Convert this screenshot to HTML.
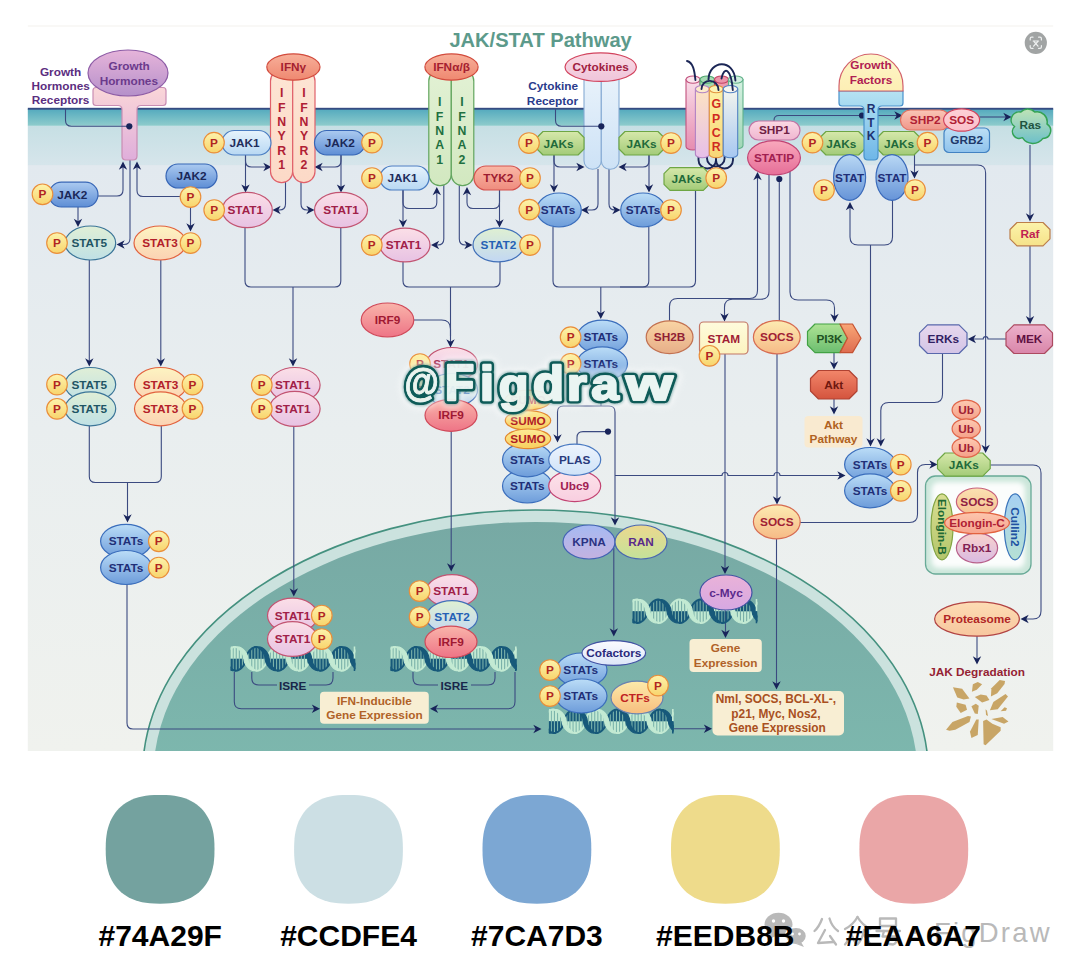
<!DOCTYPE html>
<html><head><meta charset="utf-8"><title>JAK/STAT Pathway</title>
<style>html,body{margin:0;padding:0;background:#fff}body{width:1080px;height:975px;overflow:hidden;font-family:"Liberation Sans",sans-serif}svg{display:block}</style>
</head><body>
<svg width="1080" height="975" viewBox="0 0 1080 975" font-family="'Liberation Sans', sans-serif">
<defs><linearGradient id="g0" x1="0" y1="0" x2="0" y2="1"><stop offset="0" stop-color="#fad6d8"/><stop offset="1" stop-color="#dfaedb"/></linearGradient><linearGradient id="g1" x1="0" y1="0" x2="0" y2="1"><stop offset="0" stop-color="#e6b4da"/><stop offset="1" stop-color="#b590ca"/></linearGradient><linearGradient id="g2" x1="0" y1="0" x2="0" y2="1"><stop offset="0" stop-color="#abcaf0"/><stop offset="1" stop-color="#5e8ed5"/></linearGradient><linearGradient id="g3" x1="0" y1="0" x2="0" y2="1"><stop offset="0" stop-color="#fdf3ac"/><stop offset="1" stop-color="#f8d46c"/></linearGradient><linearGradient id="g4" x1="0" y1="0" x2="0" y2="1"><stop offset="0" stop-color="#e0efd6"/><stop offset="1" stop-color="#bfe0e5"/></linearGradient><linearGradient id="g5" x1="0" y1="0" x2="0" y2="1"><stop offset="0" stop-color="#fdf4c2"/><stop offset="1" stop-color="#fbd2b3"/></linearGradient><linearGradient id="g6" x1="0" y1="0" x2="0" y2="1"><stop offset="0" stop-color="#bbddf7"/><stop offset="1" stop-color="#6d9cda"/></linearGradient><linearGradient id="g7" x1="0" y1="0" x2="0" y2="1"><stop offset="0" stop-color="#fde5d4"/><stop offset="1" stop-color="#fcd9c7"/></linearGradient><linearGradient id="g8" x1="0" y1="0" x2="0" y2="1"><stop offset="0" stop-color="#f7b09a"/><stop offset="1" stop-color="#ef8870"/></linearGradient><linearGradient id="g9" x1="0" y1="0" x2="0" y2="1"><stop offset="0" stop-color="#e6f3fc"/><stop offset="1" stop-color="#b8d8f3"/></linearGradient><linearGradient id="g10" x1="0" y1="0" x2="0" y2="1"><stop offset="0" stop-color="#fbdfe7"/><stop offset="1" stop-color="#e7c2e3"/></linearGradient><linearGradient id="g11" x1="0" y1="0" x2="0" y2="1"><stop offset="0" stop-color="#e2f1d4"/><stop offset="1" stop-color="#d2e8c0"/></linearGradient><linearGradient id="g12" x1="0" y1="0" x2="0" y2="1"><stop offset="0" stop-color="#f9b8a6"/><stop offset="1" stop-color="#ef8c7e"/></linearGradient><linearGradient id="g13" x1="0" y1="0" x2="0" y2="1"><stop offset="0" stop-color="#dff0d2"/><stop offset="1" stop-color="#c2d7f3"/></linearGradient><linearGradient id="g14" x1="0" y1="0" x2="0" y2="1"><stop offset="0" stop-color="#f9b4aa"/><stop offset="1" stop-color="#ee7486"/></linearGradient><linearGradient id="g15" x1="0" y1="0" x2="0" y2="1"><stop offset="0" stop-color="#eaf3fb"/><stop offset="1" stop-color="#cde2f6"/></linearGradient><linearGradient id="g16" x1="0" y1="0" x2="0" y2="1"><stop offset="0" stop-color="#fadbe4"/><stop offset="1" stop-color="#efc4da"/></linearGradient><linearGradient id="g17" x1="0" y1="0" x2="0" y2="1"><stop offset="0" stop-color="#d6e8aa"/><stop offset="1" stop-color="#a3cb78"/></linearGradient><linearGradient id="g18" x1="0" y1="0" x2="0" y2="1"><stop offset="0" stop-color="#f9dde9"/><stop offset="1" stop-color="#e68cb0"/></linearGradient><linearGradient id="g19" x1="0" y1="0" x2="0" y2="1"><stop offset="0" stop-color="#a6dbb4"/><stop offset="1" stop-color="#8ccba0"/></linearGradient><linearGradient id="g20" x1="0" y1="0" x2="0" y2="1"><stop offset="0" stop-color="#ee9db0"/><stop offset="1" stop-color="#e68aa2"/></linearGradient><linearGradient id="g21" x1="0" y1="0" x2="0" y2="1"><stop offset="0" stop-color="#d6f1e2"/><stop offset="1" stop-color="#9fd7b6"/></linearGradient><linearGradient id="g22" x1="0" y1="0" x2="0" y2="1"><stop offset="0" stop-color="#fde3c2"/><stop offset="1" stop-color="#e6bfe9"/></linearGradient><linearGradient id="g23" x1="0" y1="0" x2="0" y2="1"><stop offset="0" stop-color="#fdf2a4"/><stop offset="1" stop-color="#f8d676"/></linearGradient><linearGradient id="g24" x1="0" y1="0" x2="0" y2="1"><stop offset="0" stop-color="#f3f5ee"/><stop offset="1" stop-color="#a6c7f1"/></linearGradient><linearGradient id="g25" x1="0" y1="0" x2="0" y2="1"><stop offset="0" stop-color="#fbd8e4"/><stop offset="1" stop-color="#efb6d0"/></linearGradient><linearGradient id="g26" x1="0" y1="0" x2="0" y2="1"><stop offset="0" stop-color="#f9a8bc"/><stop offset="1" stop-color="#e66e98"/></linearGradient><linearGradient id="g27" x1="0" y1="0" x2="0" y2="1"><stop offset="0" stop-color="#fac6b6"/><stop offset="1" stop-color="#f0968a"/></linearGradient><linearGradient id="g28" x1="0" y1="0" x2="0" y2="1"><stop offset="0" stop-color="#bddff5"/><stop offset="1" stop-color="#8ec2ec"/></linearGradient><linearGradient id="g29" x1="0" y1="0" x2="0" y2="1"><stop offset="0" stop-color="#fdd0d6"/><stop offset="1" stop-color="#fbc0ca"/></linearGradient><linearGradient id="g30" x1="0" y1="0" x2="0" y2="1"><stop offset="0" stop-color="#fcf3aa"/><stop offset="1" stop-color="#f5e28a"/></linearGradient><linearGradient id="g31" x1="0" y1="0" x2="0" y2="1"><stop offset="0" stop-color="#ecb0ca"/><stop offset="1" stop-color="#d986aa"/></linearGradient><linearGradient id="g32" x1="0" y1="0" x2="0" y2="1"><stop offset="0" stop-color="#e7d8ee"/><stop offset="1" stop-color="#d3c4e6"/></linearGradient><linearGradient id="g33" x1="0" y1="0" x2="0" y2="1"><stop offset="0" stop-color="#b6e3f2"/><stop offset="1" stop-color="#6eb6e8"/></linearGradient><linearGradient id="g34" x1="0" y1="0" x2="0" y2="1"><stop offset="0" stop-color="#fdf6c8"/><stop offset="1" stop-color="#fdeeb4"/></linearGradient><linearGradient id="g35" x1="0" y1="0" x2="0" y2="1"><stop offset="0" stop-color="#b9d8f4"/><stop offset="1" stop-color="#6694d8"/></linearGradient><linearGradient id="g36" x1="0" y1="0" x2="0" y2="1"><stop offset="0" stop-color="#f9d4a4"/><stop offset="1" stop-color="#e7ae88"/></linearGradient><linearGradient id="g37" x1="0" y1="0" x2="0" y2="1"><stop offset="0" stop-color="#fefbdc"/><stop offset="1" stop-color="#fcf3c0"/></linearGradient><linearGradient id="g38" x1="0" y1="0" x2="0" y2="1"><stop offset="0" stop-color="#fdebb2"/><stop offset="1" stop-color="#f6ba86"/></linearGradient><linearGradient id="g39" x1="0" y1="0" x2="0" y2="1"><stop offset="0" stop-color="#aee294"/><stop offset="1" stop-color="#6cbe70"/></linearGradient><linearGradient id="g40" x1="0" y1="0" x2="0" y2="1"><stop offset="0" stop-color="#f9a676"/><stop offset="1" stop-color="#de6c50"/></linearGradient><linearGradient id="g41" x1="0" y1="0" x2="0" y2="1"><stop offset="0" stop-color="#f2866a"/><stop offset="1" stop-color="#d4543e"/></linearGradient><linearGradient id="g42" x1="0" y1="0" x2="0" y2="1"><stop offset="0" stop-color="#fde4ea"/><stop offset="1" stop-color="#f8cee0"/></linearGradient><linearGradient id="g43" x1="0" y1="0" x2="0" y2="1"><stop offset="0" stop-color="#edf4fd"/><stop offset="1" stop-color="#cfe3f8"/></linearGradient><linearGradient id="g44" x1="0" y1="0" x2="0" y2="1"><stop offset="0" stop-color="#fdeb96"/><stop offset="1" stop-color="#f8cf5e"/></linearGradient><linearGradient id="g45" x1="0" y1="0" x2="0" y2="1"><stop offset="0" stop-color="#fdcab2"/><stop offset="1" stop-color="#f5a088"/></linearGradient><linearGradient id="g46" x1="0" y1="0" x2="0" y2="1"><stop offset="0" stop-color="#d8de92"/><stop offset="1" stop-color="#b4c66c"/></linearGradient><linearGradient id="g47" x1="0" y1="0" x2="0" y2="1"><stop offset="0" stop-color="#a6d0f2"/><stop offset="1" stop-color="#b6e0d4"/></linearGradient><linearGradient id="g48" x1="0" y1="0" x2="0" y2="1"><stop offset="0" stop-color="#fbe2b2"/><stop offset="1" stop-color="#f6c090"/></linearGradient><linearGradient id="g49" x1="0" y1="0" x2="0" y2="1"><stop offset="0" stop-color="#f9d2cc"/><stop offset="1" stop-color="#d9bae2"/></linearGradient><linearGradient id="g50" x1="0" y1="0" x2="0" y2="1"><stop offset="0" stop-color="#fdc6ae"/><stop offset="1" stop-color="#f7a48e"/></linearGradient><linearGradient id="g51" x1="0" y1="0" x2="0" y2="1"><stop offset="0" stop-color="#fddcb4"/><stop offset="1" stop-color="#f7c69e"/></linearGradient><linearGradient id="g52" x1="0" y1="0" x2="0" y2="1"><stop offset="0" stop-color="#a6baf2"/><stop offset="1" stop-color="#c4b2e0"/></linearGradient><linearGradient id="g53" x1="0" y1="0" x2="0" y2="1"><stop offset="0" stop-color="#ecd88e"/><stop offset="1" stop-color="#c4e29a"/></linearGradient><linearGradient id="g54" x1="0" y1="0" x2="0" y2="1"><stop offset="0" stop-color="#fbfbff"/><stop offset="1" stop-color="#dde6f8"/></linearGradient><linearGradient id="g55" x1="0" y1="0" x2="0" y2="1"><stop offset="0" stop-color="#fdeaaa"/><stop offset="1" stop-color="#f7be7e"/></linearGradient><linearGradient id="g56" x1="0" y1="0" x2="0" y2="1"><stop offset="0" stop-color="#eab2d8"/><stop offset="1" stop-color="#d6a8e2"/></linearGradient><clipPath id="clipD"><rect x="27.8" y="25.5" width="1025.4" height="725.5"/></clipPath><linearGradient id="mem" x1="0" y1="0" x2="0" y2="1"><stop offset="0" stop-color="#54aabe"/><stop offset="1" stop-color="#8ecccc"/></linearGradient><linearGradient id="band2" x1="0" y1="0" x2="0" y2="1"><stop offset="0" stop-color="#c6dfe4"/><stop offset="1" stop-color="#d6e5eb"/></linearGradient><linearGradient id="cyto" x1="0" y1="0" x2="0" y2="1"><stop offset="0" stop-color="#e2e9ef"/><stop offset="0.45" stop-color="#e9eeef"/><stop offset="1" stop-color="#f0f2ee"/></linearGradient><linearGradient id="nuc" x1="0" y1="0" x2="0" y2="1"><stop offset="0" stop-color="#77a9a4"/><stop offset="0.5" stop-color="#7db8ae"/><stop offset="1" stop-color="#7db8ae"/></linearGradient><linearGradient id="rasg" gradientUnits="userSpaceOnUse" x1="0" y1="109" x2="0" y2="144"><stop offset="0" stop-color="#bfe3b6"/><stop offset="1" stop-color="#6cbfca"/></linearGradient><filter id="bl" x="-20%" y="-20%" width="140%" height="140%"><feGaussianBlur stdDeviation="2.6"/></filter><clipPath id="cbox"><rect x="925.5" y="476" width="105.5" height="98" rx="10"/></clipPath><clipPath id="dc230"><rect x="230.6" y="645" width="124.9" height="27.6"/></clipPath><clipPath id="dc390"><rect x="390.5" y="645" width="126.3" height="27.6"/></clipPath><clipPath id="dc548"><rect x="548.8" y="707.6" width="125" height="27.4"/></clipPath><clipPath id="dc632"><rect x="632.5" y="597.6" width="125" height="27.2"/></clipPath><filter id="glow" x="-10%" y="-40%" width="120%" height="180%"><feGaussianBlur stdDeviation="1.8"/></filter><filter id="haze" x="-10%" y="-40%" width="120%" height="180%"><feGaussianBlur stdDeviation="3"/></filter><mask id="wmmask" maskUnits="userSpaceOnUse" x="385" y="335" width="310" height="100"><rect x="385" y="335" width="310" height="100" fill="#fff"/><g font-size="48" font-weight="bold" stroke-linejoin="round" fill="#000" stroke="#000"><text transform="translate(404.4,395.8) scale(0.7316,0.84)" x="0" y="0" vector-effect="non-scaling-stroke" stroke-width="0.4">&#64;</text><text transform="translate(444.92,400.2) scale(0.9903,1.04)" x="0" y="0" vector-effect="non-scaling-stroke" stroke-width="2">F</text><text transform="translate(480.23,400.2) scale(1.0036,1.0)" x="0" y="0" vector-effect="non-scaling-stroke" stroke-width="2">i</text><text transform="translate(498.7,400.9) scale(1.0147,0.954)" x="0" y="0" vector-effect="non-scaling-stroke" stroke-width="1.6">g</text><text transform="translate(532.93,400.2) scale(1.0499,1.0)" x="0" y="0" vector-effect="non-scaling-stroke" stroke-width="2">d</text><text transform="translate(567.06,400.2) scale(1.0552,0.93)" x="0" y="0" vector-effect="non-scaling-stroke" stroke-width="2">r</text><text transform="translate(591.36,400.2) scale(1.0319,0.93)" x="0" y="0" vector-effect="non-scaling-stroke" stroke-width="1.6">a</text><text transform="translate(625.98,400.2) scale(1.2532,0.93)" x="0" y="0" vector-effect="non-scaling-stroke" stroke-width="2">w</text></g></mask></defs>
<rect x="0" y="0" width="1080" height="975" fill="#ffffff"/>
<rect x="27.8" y="25.5" width="1025.4" height="1" fill="#f3f1ee"/>
<rect x="27.8" y="165" width="1025.4" height="586" fill="url(#cyto)"/>
<rect x="27.8" y="125.6" width="1025.4" height="39.6" fill="url(#band2)"/>
<rect x="27.8" y="109" width="1025.4" height="16.8" fill="url(#mem)"/>
<rect x="27.8" y="107.8" width="1025.4" height="1.9" fill="#364b82"/>
<g clip-path="url(#clipD)"><ellipse cx="535.5" cy="775" rx="393" ry="265" fill="#cbe2de" stroke="#44917f" stroke-width="1.6"/><ellipse cx="535.5" cy="775" rx="382" ry="253" fill="url(#nuc)"/></g>
<polygon points="214.5,849.3 214.4,855.17 214.12,859.62 213.65,863.63 212.98,867.35 212.13,870.84 211.1,874.13 209.88,877.25 208.47,880.19 206.89,882.97 205.13,885.58 203.2,888.02 201.09,890.29 198.82,892.4 196.38,894.33 193.77,896.09 190.99,897.67 188.05,899.08 184.93,900.3 181.64,901.33 178.15,902.18 174.43,902.85 170.42,903.32 165.97,903.6 160.1,903.7 154.23,903.6 149.78,903.32 145.77,902.85 142.05,902.18 138.56,901.33 135.27,900.3 132.15,899.08 129.21,897.67 126.43,896.09 123.82,894.33 121.38,892.4 119.11,890.29 117,888.02 115.07,885.58 113.31,882.97 111.73,880.19 110.32,877.25 109.1,874.13 108.07,870.84 107.22,867.35 106.55,863.63 106.08,859.62 105.8,855.17 105.7,849.3 105.8,843.43 106.08,838.98 106.55,834.97 107.22,831.25 108.07,827.76 109.1,824.47 110.32,821.35 111.73,818.41 113.31,815.63 115.07,813.02 117,810.58 119.11,808.31 121.38,806.2 123.82,804.27 126.43,802.51 129.21,800.93 132.15,799.52 135.27,798.3 138.56,797.27 142.05,796.42 145.77,795.75 149.78,795.28 154.23,795 160.1,794.9 165.97,795 170.42,795.28 174.43,795.75 178.15,796.42 181.64,797.27 184.93,798.3 188.05,799.52 190.99,800.93 193.77,802.51 196.38,804.27 198.82,806.2 201.09,808.31 203.2,810.58 205.13,813.02 206.89,815.63 208.47,818.41 209.88,821.35 211.1,824.47 212.13,827.76 212.98,831.25 213.65,834.97 214.12,838.98 214.4,843.43" fill="#74A29F"/>
<polygon points="402.9,849.3 402.8,855.17 402.52,859.62 402.05,863.63 401.38,867.35 400.53,870.84 399.5,874.13 398.28,877.25 396.87,880.19 395.29,882.97 393.53,885.58 391.6,888.02 389.49,890.29 387.22,892.4 384.78,894.33 382.17,896.09 379.39,897.67 376.45,899.08 373.33,900.3 370.04,901.33 366.55,902.18 362.83,902.85 358.82,903.32 354.37,903.6 348.5,903.7 342.63,903.6 338.18,903.32 334.17,902.85 330.45,902.18 326.96,901.33 323.67,900.3 320.55,899.08 317.61,897.67 314.83,896.09 312.22,894.33 309.78,892.4 307.51,890.29 305.4,888.02 303.47,885.58 301.71,882.97 300.13,880.19 298.72,877.25 297.5,874.13 296.47,870.84 295.62,867.35 294.95,863.63 294.48,859.62 294.2,855.17 294.1,849.3 294.2,843.43 294.48,838.98 294.95,834.97 295.62,831.25 296.47,827.76 297.5,824.47 298.72,821.35 300.13,818.41 301.71,815.63 303.47,813.02 305.4,810.58 307.51,808.31 309.78,806.2 312.22,804.27 314.83,802.51 317.61,800.93 320.55,799.52 323.67,798.3 326.96,797.27 330.45,796.42 334.17,795.75 338.18,795.28 342.63,795 348.5,794.9 354.37,795 358.82,795.28 362.83,795.75 366.55,796.42 370.04,797.27 373.33,798.3 376.45,799.52 379.39,800.93 382.17,802.51 384.78,804.27 387.22,806.2 389.49,808.31 391.6,810.58 393.53,813.02 395.29,815.63 396.87,818.41 398.28,821.35 399.5,824.47 400.53,827.76 401.38,831.25 402.05,834.97 402.52,838.98 402.8,843.43" fill="#CCDFE4"/>
<polygon points="591.3,849.3 591.2,855.17 590.92,859.62 590.45,863.63 589.78,867.35 588.93,870.84 587.9,874.13 586.68,877.25 585.27,880.19 583.69,882.97 581.93,885.58 580,888.02 577.89,890.29 575.62,892.4 573.18,894.33 570.57,896.09 567.79,897.67 564.85,899.08 561.73,900.3 558.44,901.33 554.95,902.18 551.23,902.85 547.22,903.32 542.77,903.6 536.9,903.7 531.03,903.6 526.58,903.32 522.57,902.85 518.85,902.18 515.36,901.33 512.07,900.3 508.95,899.08 506.01,897.67 503.23,896.09 500.62,894.33 498.18,892.4 495.91,890.29 493.8,888.02 491.87,885.58 490.11,882.97 488.53,880.19 487.12,877.25 485.9,874.13 484.87,870.84 484.02,867.35 483.35,863.63 482.88,859.62 482.6,855.17 482.5,849.3 482.6,843.43 482.88,838.98 483.35,834.97 484.02,831.25 484.87,827.76 485.9,824.47 487.12,821.35 488.53,818.41 490.11,815.63 491.87,813.02 493.8,810.58 495.91,808.31 498.18,806.2 500.62,804.27 503.23,802.51 506.01,800.93 508.95,799.52 512.07,798.3 515.36,797.27 518.85,796.42 522.57,795.75 526.58,795.28 531.03,795 536.9,794.9 542.77,795 547.22,795.28 551.23,795.75 554.95,796.42 558.44,797.27 561.73,798.3 564.85,799.52 567.79,800.93 570.57,802.51 573.18,804.27 575.62,806.2 577.89,808.31 580,810.58 581.93,813.02 583.69,815.63 585.27,818.41 586.68,821.35 587.9,824.47 588.93,827.76 589.78,831.25 590.45,834.97 590.92,838.98 591.2,843.43" fill="#7CA7D3"/>
<polygon points="779.8,849.3 779.7,855.17 779.42,859.62 778.95,863.63 778.28,867.35 777.43,870.84 776.4,874.13 775.18,877.25 773.77,880.19 772.19,882.97 770.43,885.58 768.5,888.02 766.39,890.29 764.12,892.4 761.68,894.33 759.07,896.09 756.29,897.67 753.35,899.08 750.23,900.3 746.94,901.33 743.45,902.18 739.73,902.85 735.72,903.32 731.27,903.6 725.4,903.7 719.53,903.6 715.08,903.32 711.07,902.85 707.35,902.18 703.86,901.33 700.57,900.3 697.45,899.08 694.51,897.67 691.73,896.09 689.12,894.33 686.68,892.4 684.41,890.29 682.3,888.02 680.37,885.58 678.61,882.97 677.03,880.19 675.62,877.25 674.4,874.13 673.37,870.84 672.52,867.35 671.85,863.63 671.38,859.62 671.1,855.17 671,849.3 671.1,843.43 671.38,838.98 671.85,834.97 672.52,831.25 673.37,827.76 674.4,824.47 675.62,821.35 677.03,818.41 678.61,815.63 680.37,813.02 682.3,810.58 684.41,808.31 686.68,806.2 689.12,804.27 691.73,802.51 694.51,800.93 697.45,799.52 700.57,798.3 703.86,797.27 707.35,796.42 711.07,795.75 715.08,795.28 719.53,795 725.4,794.9 731.27,795 735.72,795.28 739.73,795.75 743.45,796.42 746.94,797.27 750.23,798.3 753.35,799.52 756.29,800.93 759.07,802.51 761.68,804.27 764.12,806.2 766.39,808.31 768.5,810.58 770.43,813.02 772.19,815.63 773.77,818.41 775.18,821.35 776.4,824.47 777.43,827.76 778.28,831.25 778.95,834.97 779.42,838.98 779.7,843.43" fill="#EEDB8B"/>
<polygon points="968.2,849.3 968.1,855.17 967.82,859.62 967.35,863.63 966.68,867.35 965.83,870.84 964.8,874.13 963.58,877.25 962.17,880.19 960.59,882.97 958.83,885.58 956.9,888.02 954.79,890.29 952.52,892.4 950.08,894.33 947.47,896.09 944.69,897.67 941.75,899.08 938.63,900.3 935.34,901.33 931.85,902.18 928.13,902.85 924.12,903.32 919.67,903.6 913.8,903.7 907.93,903.6 903.48,903.32 899.47,902.85 895.75,902.18 892.26,901.33 888.97,900.3 885.85,899.08 882.91,897.67 880.13,896.09 877.52,894.33 875.08,892.4 872.81,890.29 870.7,888.02 868.77,885.58 867.01,882.97 865.43,880.19 864.02,877.25 862.8,874.13 861.77,870.84 860.92,867.35 860.25,863.63 859.78,859.62 859.5,855.17 859.4,849.3 859.5,843.43 859.78,838.98 860.25,834.97 860.92,831.25 861.77,827.76 862.8,824.47 864.02,821.35 865.43,818.41 867.01,815.63 868.77,813.02 870.7,810.58 872.81,808.31 875.08,806.2 877.52,804.27 880.13,802.51 882.91,800.93 885.85,799.52 888.97,798.3 892.26,797.27 895.75,796.42 899.47,795.75 903.48,795.28 907.93,795 913.8,794.9 919.67,795 924.12,795.28 928.13,795.75 931.85,796.42 935.34,797.27 938.63,798.3 941.75,799.52 944.69,800.93 947.47,802.51 950.08,804.27 952.52,806.2 954.79,808.31 956.9,810.58 958.83,813.02 960.59,815.63 962.17,818.41 963.58,821.35 964.8,824.47 965.83,827.76 966.68,831.25 967.35,834.97 967.82,838.98 968.1,843.43" fill="#EAA6A7"/>
<g fill="#b9b9b9"><ellipse cx="778.5" cy="924.5" rx="14" ry="11.8"/><path d="M770,933 l-3,7 l9,-4z"/><ellipse cx="796" cy="936" rx="10.5" ry="8.8" stroke="#fff" stroke-width="1.5"/><path d="M801,942 l3,5 l-8,-3z"/></g><g fill="#fff"><circle cx="773.5" cy="921" r="1.7"/><circle cx="783.5" cy="921" r="1.7"/><circle cx="792.5" cy="934" r="1.4"/><circle cx="799.5" cy="934" r="1.4"/></g>
<g fill="none" stroke="#b9b9b9" stroke-width="2.3" stroke-linecap="round" stroke-linejoin="round"><path d="M822,919 Q819,927 814.5,931"/><path d="M829.5,918.5 Q832,927 838,931"/><path d="M825,930 L818,943 L833.5,942"/><path d="M830,936 L836,944.5"/><path d="M857.5,917 Q853,925 845,929"/><path d="M857.5,917 Q862,925 870.5,929"/><path d="M851.5,930 Q850,939 845,944.5"/><path d="M851.5,935 L856,944"/><path d="M864,930 Q862.5,939 857.5,944.5"/><path d="M864,935 L870.5,944.5"/><path d="M880,918.5 H896 V926 H880 Z"/><path d="M876.5,931 H900"/><path d="M884,931 L882.5,936.5 H897 Q897,944 893,944.5 L889,944"/></g>
<circle cx="915" cy="932" r="2" fill="#b9b9b9"/>
<text x="934" y="941.6" fill="#b9b9b9" font-size="27.5" letter-spacing="2.2">FigDraw</text>
<text x="160.2" y="946.4" fill="#000" font-size="30" font-weight="bold" text-anchor="middle">#74A29F</text>
<text x="348.5" y="946.4" fill="#000" font-size="30" font-weight="bold" text-anchor="middle">#CCDFE4</text>
<text x="536.9" y="946.4" fill="#000" font-size="30" font-weight="bold" text-anchor="middle">#7CA7D3</text>
<text x="725.3" y="946.4" fill="#000" font-size="30" font-weight="bold" text-anchor="middle">#EEDB8B</text>
<text x="913.4" y="946.4" fill="#000" font-size="30" font-weight="bold" text-anchor="middle">#EAA6A7</text>
<text x="540.6" y="46.94" fill="#5c9a8b" font-size="20.1" font-weight="bold" text-anchor="middle">JAK/STAT Pathway</text>
<path d="M98,196 L117,196 Q123,196 123,190 L123,165.5" fill="none" stroke="#3b4a80" stroke-width="1.1"/>
<polygon points="123,161.5 118.8,169.7 123,167.3 127.2,169.7" fill="#18245a"/>
<path d="M78,206 L78,223" fill="none" stroke="#3b4a80" stroke-width="1.1"/>
<polygon points="78,227 73.8,218.8 78,221.2 82.2,218.8" fill="#18245a"/>
<path d="M180,196.5 L143,196.5 Q137,196.5 137,190.5 L137,165.5" fill="none" stroke="#3b4a80" stroke-width="1.1"/>
<polygon points="137,161.5 132.8,169.7 137,167.3 141.2,169.7" fill="#18245a"/>
<path d="M190.5,207 L190.5,227.5" fill="none" stroke="#3b4a80" stroke-width="1.1"/>
<polygon points="190.5,231.5 186.3,223.3 190.5,225.7 194.7,223.3" fill="#18245a"/>
<path d="M130,160 L130,238.5 Q130,244.5 124,244.5 L120.5,244.5" fill="none" stroke="#3b4a80" stroke-width="1.1"/>
<polygon points="116.5,244.5 124.7,240.3 122.3,244.5 124.7,248.7" fill="#18245a"/>
<path d="M89.3,260 L89.3,362.5" fill="none" stroke="#3b4a80" stroke-width="1.1"/>
<polygon points="89.3,366.5 85.1,358.3 89.3,360.7 93.5,358.3" fill="#18245a"/>
<path d="M160.8,260 L160.8,362.5" fill="none" stroke="#3b4a80" stroke-width="1.1"/>
<polygon points="160.8,366.5 156.6,358.3 160.8,360.7 165,358.3" fill="#18245a"/>
<path d="M89.3,425.5 L89.3,476.5 Q89.3,482.5 95.3,482.5 L155.3,482.5 Q161.3,482.5 161.3,476.5 L161.3,425.5" fill="none" stroke="#3b4a80" stroke-width="1.1"/>
<path d="M127.5,482.5 L127.5,518.5" fill="none" stroke="#3b4a80" stroke-width="1.1"/>
<polygon points="127.5,522.5 123.3,514.3 127.5,516.7 131.7,514.3" fill="#18245a"/>
<path d="M127,584 L127,723 Q127,729 133,729 L537.5,729" fill="none" stroke="#3b4a80" stroke-width="1.1"/>
<polygon points="541.5,729 533.3,724.8 535.7,729 533.3,733.2" fill="#18245a"/>
<path d="M245.5,155 L245.5,188.6" fill="none" stroke="#3b4a80" stroke-width="1.1"/>
<polygon points="245.5,192.6 241.3,184.4 245.5,186.8 249.7,184.4" fill="#18245a"/>
<path d="M245.5,155 L245.5,161 Q245.5,167 251.5,167 L267.5,167" fill="none" stroke="#3b4a80" stroke-width="1.1"/>
<polygon points="271.5,167 263.3,162.8 265.7,167 263.3,171.2" fill="#18245a"/>
<path d="M341,155 L341,188.6" fill="none" stroke="#3b4a80" stroke-width="1.1"/>
<polygon points="341,192.6 336.8,184.4 341,186.8 345.2,184.4" fill="#18245a"/>
<path d="M341,155 L341,161 Q341,167 335,167 L318.5,167" fill="none" stroke="#3b4a80" stroke-width="1.1"/>
<polygon points="314.5,167 322.7,162.8 320.3,167 322.7,171.2" fill="#18245a"/>
<path d="M285.5,182 L285.5,204 Q285.5,210 279.5,210 L276.5,210" fill="none" stroke="#3b4a80" stroke-width="1.1"/>
<polygon points="272.5,210 280.7,205.8 278.3,210 280.7,214.2" fill="#18245a"/>
<path d="M301,182 L301,204 Q301,210 307,210 L310.5,210" fill="none" stroke="#3b4a80" stroke-width="1.1"/>
<polygon points="314.5,210 306.3,205.8 308.7,210 306.3,214.2" fill="#18245a"/>
<path d="M245,226 L245,281 Q245,287 251,287 L334.8,287 Q340.8,287 340.8,281 L340.8,226" fill="none" stroke="#3b4a80" stroke-width="1.1"/>
<path d="M293,287 L293,362.5" fill="none" stroke="#3b4a80" stroke-width="1.1"/>
<polygon points="293,366.5 288.8,358.3 293,360.7 297.2,358.3" fill="#18245a"/>
<path d="M293.8,426 L293.8,592.5" fill="none" stroke="#3b4a80" stroke-width="1.1"/>
<polygon points="293.8,596.5 289.6,588.3 293.8,590.7 298,588.3" fill="#18245a"/>
<path d="M403,190 L403,223.5" fill="none" stroke="#3b4a80" stroke-width="1.1"/>
<polygon points="403,227.5 398.8,219.3 403,221.7 407.2,219.3" fill="#18245a"/>
<path d="M403,190 L403,202.5 Q403,208.5 409,208.5 L430.8,208.5 Q436.8,208.5 436.8,202.5 L436.8,191" fill="none" stroke="#3b4a80" stroke-width="1.1"/>
<polygon points="436.8,187 432.6,195.2 436.8,192.8 441,195.2" fill="#18245a"/>
<path d="M499.5,190 L499.5,223.5" fill="none" stroke="#3b4a80" stroke-width="1.1"/>
<polygon points="499.5,227.5 495.3,219.3 499.5,221.7 503.7,219.3" fill="#18245a"/>
<path d="M499.5,190 L499.5,202.5 Q499.5,208.5 493.5,208.5 L473,208.5 Q467,208.5 467,202.5 L467,191" fill="none" stroke="#3b4a80" stroke-width="1.1"/>
<polygon points="467,187 462.8,195.2 467,192.8 471.2,195.2" fill="#18245a"/>
<path d="M443.8,185 L443.8,239 Q443.8,245 437.8,245 L435,245" fill="none" stroke="#3b4a80" stroke-width="1.1"/>
<polygon points="431,245 439.2,240.8 436.8,245 439.2,249.2" fill="#18245a"/>
<path d="M459.3,185 L459.3,239 Q459.3,245 465.3,245 L468.5,245" fill="none" stroke="#3b4a80" stroke-width="1.1"/>
<polygon points="472.5,245 464.3,240.8 466.7,245 464.3,249.2" fill="#18245a"/>
<path d="M403,262 L403,281 Q403,287 409,287 L494,287 Q500,287 500,281 L500,262" fill="none" stroke="#3b4a80" stroke-width="1.1"/>
<path d="M450.5,287 L450.5,343.5" fill="none" stroke="#3b4a80" stroke-width="1.1"/>
<polygon points="450.5,347.5 446.3,339.3 450.5,341.7 454.7,339.3" fill="#18245a"/>
<path d="M413.5,320 L441.5,320 Q450.5,320 450.5,329 L450.5,336" fill="none" stroke="#3b4a80" stroke-width="1.1"/>
<path d="M451.2,431 L451.2,567.5" fill="none" stroke="#3b4a80" stroke-width="1.1"/>
<polygon points="451.2,571.5 447,563.3 451.2,565.7 455.4,563.3" fill="#18245a"/>
<path d="M554,155 L554,188.5" fill="none" stroke="#3b4a80" stroke-width="1.1"/>
<polygon points="554,192.5 549.8,184.3 554,186.7 558.2,184.3" fill="#18245a"/>
<path d="M554,155 L554,161 Q554,167 560,167 L580.5,167" fill="none" stroke="#3b4a80" stroke-width="1.1"/>
<polygon points="584.5,167 576.3,162.8 578.7,167 576.3,171.2" fill="#18245a"/>
<path d="M649,155 L649,188.5" fill="none" stroke="#3b4a80" stroke-width="1.1"/>
<polygon points="649,192.5 644.8,184.3 649,186.7 653.2,184.3" fill="#18245a"/>
<path d="M649,155 L649,161 Q649,167 643,167 L622.5,167" fill="none" stroke="#3b4a80" stroke-width="1.1"/>
<polygon points="618.5,167 626.7,162.8 624.3,167 626.7,171.2" fill="#18245a"/>
<path d="M598,169 L598,204 Q598,210 592,210 L585,210" fill="none" stroke="#3b4a80" stroke-width="1.1"/>
<polygon points="581,210 589.2,205.8 586.8,210 589.2,214.2" fill="#18245a"/>
<path d="M609,169 L609,204 Q609,210 615,210 L616.5,210" fill="none" stroke="#3b4a80" stroke-width="1.1"/>
<polygon points="620.5,210 612.3,205.8 614.7,210 612.3,214.2" fill="#18245a"/>
<path d="M553,227 L553,281 Q553,287 559,287 L689.5,287 Q695.5,287 695.5,281 L695.5,190" fill="none" stroke="#3b4a80" stroke-width="1.1"/>
<path d="M648.8,227 L648.8,281 Q648.8,287 642.8,287 L620,287" fill="none" stroke="#3b4a80" stroke-width="1.1"/>
<path d="M600.8,287 L600.8,315" fill="none" stroke="#3b4a80" stroke-width="1.1"/>
<polygon points="600.8,319 596.6,310.8 600.8,313.2 605,310.8" fill="#18245a"/>
<path d="M695.5,190 L695.5,200" fill="none" stroke="#3b4a80" stroke-width="1.1"/>
<path d="M669.5,321 L669.5,306.5 Q669.5,298.5 677.5,298.5 L749.5,298.5 Q757.5,298.5 757.5,290.5 L757.5,176" fill="none" stroke="#3b4a80" stroke-width="1.1"/>
<polygon points="757.5,172 753.3,180.2 757.5,177.8 761.7,180.2" fill="#18245a"/>
<path d="M769,173 L769,291.3 Q769,299.3 761,299.3 L732.5,299.3 Q724.5,299.3 724.5,307.3 L724.5,317.5" fill="none" stroke="#3b4a80" stroke-width="1.1"/>
<polygon points="724.5,321.5 720.3,313.3 724.5,315.7 728.7,313.3" fill="#18245a"/>
<path d="M779.3,179 L779.3,321" fill="none" stroke="#3b4a80" stroke-width="1.1"/>
<circle cx="779.3" cy="179" r="3.1" fill="#18245a"/>
<path d="M790,171 L790,292 Q790,300 798,300 L826.5,300 Q834.5,300 834.5,308 L834.5,318" fill="none" stroke="#3b4a80" stroke-width="1.1"/>
<polygon points="834.5,322 830.3,313.8 834.5,316.2 838.7,313.8" fill="#18245a"/>
<path d="M774,121.5 L774,120.5 Q774,115.5 779,115.5 L898.5,115.5" fill="none" stroke="#3b4a80" stroke-width="1.1"/>
<polygon points="902.5,115.5 894.3,111.3 896.7,115.5 894.3,119.7" fill="#18245a"/>
<circle cx="862" cy="115.5" r="3.1" fill="#18245a"/>
<path d="M979.5,117 L1007.5,117" fill="none" stroke="#3b4a80" stroke-width="1.1"/>
<polygon points="1011.5,117 1003.3,112.8 1005.7,117 1003.3,121.2" fill="#18245a"/>
<path d="M1030,145 L1030,217.5" fill="none" stroke="#3b4a80" stroke-width="1.1"/>
<polygon points="1030,221.5 1025.8,213.3 1030,215.7 1034.2,213.3" fill="#18245a"/>
<path d="M1030,246 L1030,320.3" fill="none" stroke="#3b4a80" stroke-width="1.1"/>
<polygon points="1030,324.3 1025.8,316.1 1030,318.5 1034.2,316.1" fill="#18245a"/>
<path d="M1006,339 H988 A2.4,2.4 0 0 0 983.2,339 H972" fill="none" stroke="#3b4a80" stroke-width="1.1"/>
<polygon points="967.8,339 976,334.8 973.6,339 976,343.2" fill="#18245a"/>
<path d="M914.5,155 L914.5,174.5" fill="none" stroke="#3b4a80" stroke-width="1.1"/>
<polygon points="914.5,178.5 910.3,170.3 914.5,172.7 918.7,170.3" fill="#18245a"/>
<path d="M914.5,165 L977.6,165 Q985.6,165 985.6,173 L985.6,449" fill="none" stroke="#3b4a80" stroke-width="1.1"/>
<polygon points="985.6,453 981.4,444.8 985.6,447.2 989.8,444.8" fill="#18245a"/>
<path d="M892.5,200 L892.5,237 Q892.5,245 884.5,245 L858,245 Q850,245 850,237 L850,206" fill="none" stroke="#3b4a80" stroke-width="1.1"/>
<polygon points="850,202 845.8,210.2 850,207.8 854.2,210.2" fill="#18245a"/>
<path d="M870.5,245 L870.5,442.5" fill="none" stroke="#3b4a80" stroke-width="1.1"/>
<polygon points="870.5,446.5 866.3,438.3 870.5,440.7 874.7,438.3" fill="#18245a"/>
<path d="M942.5,353.5 L942.5,394.5 Q942.5,402.5 934.5,402.5 L888.8,402.5 Q880.8,402.5 880.8,410.5 L880.8,442.5" fill="none" stroke="#3b4a80" stroke-width="1.1"/>
<polygon points="880.8,446.5 876.6,438.3 880.8,440.7 885,438.3" fill="#18245a"/>
<path d="M725,354 L725,570" fill="none" stroke="#3b4a80" stroke-width="1.1"/>
<polygon points="725,574 720.8,565.8 725,568.2 729.2,565.8" fill="#18245a"/>
<path d="M777,354 L777,500.5" fill="none" stroke="#3b4a80" stroke-width="1.1"/>
<polygon points="777,504.5 772.8,496.3 777,498.7 781.2,496.3" fill="#18245a"/>
<path d="M834,352.6 L834,365.5" fill="none" stroke="#3b4a80" stroke-width="1.1"/>
<polygon points="834,369.5 829.8,361.3 834,363.7 838.2,361.3" fill="#18245a"/>
<path d="M834,399 L834,410.5" fill="none" stroke="#3b4a80" stroke-width="1.1"/>
<polygon points="834,414.5 829.8,406.3 834,408.7 838.2,406.3" fill="#18245a"/>
<path d="M601,381 L601,406" fill="none" stroke="#3b4a80" stroke-width="1.1"/>
<path d="M601,406 L563.5,406 Q557.5,406 557.5,412 L557.5,438.5" fill="none" stroke="#3b4a80" stroke-width="1.1"/>
<polygon points="557.5,442.5 553.3,434.3 557.5,436.7 561.7,434.3" fill="#18245a"/>
<path d="M601,406 L609,406 Q615,406 615,412 L615,521.5" fill="none" stroke="#3b4a80" stroke-width="1.1"/>
<polygon points="615,525.5 610.8,517.3 615,519.7 619.2,517.3" fill="#18245a"/>
<path d="M615,475.5 H722 A3,3 0 0 1 728,475.5 H774 A3,3 0 0 1 780,475.5 H841" fill="none" stroke="#3b4a80" stroke-width="1.1"/>
<polygon points="845.5,475.5 837.3,471.3 839.7,475.5 837.3,479.7" fill="#18245a"/>
<path d="M577,444.5 L577,437.6 Q577,431.6 583,431.6 L608,431.6" fill="none" stroke="#3b4a80" stroke-width="1.1"/>
<circle cx="608" cy="431.6" r="3.1" fill="#18245a"/>
<path d="M800,522.5 L909.5,522.5 Q917.5,522.5 917.5,514.5 L917.5,472.5 Q917.5,464.5 925.5,464.5 L933.5,464.5" fill="none" stroke="#3b4a80" stroke-width="1.1"/>
<polygon points="937.5,464.5 929.3,460.3 931.7,464.5 929.3,468.7" fill="#18245a"/>
<path d="M776.5,539 L776.5,685.5" fill="none" stroke="#3b4a80" stroke-width="1.1"/>
<polygon points="776.5,689.5 772.3,681.3 776.5,683.7 780.7,681.3" fill="#18245a"/>
<path d="M990.5,465 L1033,465 Q1041,465 1041,473 L1041,611 Q1041,619 1033,619 L1024.5,619" fill="none" stroke="#3b4a80" stroke-width="1.1"/>
<polygon points="1020.5,619 1028.7,614.8 1026.3,619 1028.7,623.2" fill="#18245a"/>
<path d="M977,636 L977,660.5" fill="none" stroke="#3b4a80" stroke-width="1.1"/>
<polygon points="977,664.5 972.8,656.3 977,658.7 981.2,656.3" fill="#18245a"/>
<path d="M234.3,672 L234.3,701.8 Q234.3,708.8 241.3,708.8 L316,708.8" fill="none" stroke="#3b4a80" stroke-width="1.1"/>
<polygon points="320,708.8 311.8,704.6 314.2,708.8 311.8,713" fill="#18245a"/>
<path d="M515,672 L515,701.8 Q515,708.8 508,708.8 L434,708.8" fill="none" stroke="#3b4a80" stroke-width="1.1"/>
<polygon points="430,708.8 438.2,704.6 435.8,708.8 438.2,713" fill="#18245a"/>
<path d="M251.8,672 L251.8,678 Q251.8,685 258.8,685 L277,685" fill="none" stroke="#3b4a80" stroke-width="1.1"/>
<path d="M333,672 L333,678 Q333,685 326,685 L309,685" fill="none" stroke="#3b4a80" stroke-width="1.1"/>
<path d="M413,672 L413,678 Q413,685 420,685 L438,685" fill="none" stroke="#3b4a80" stroke-width="1.1"/>
<path d="M495,672 L495,678 Q495,685 488,685 L471,685" fill="none" stroke="#3b4a80" stroke-width="1.1"/>
<path d="M674,728.8 L708,728.8" fill="none" stroke="#3b4a80" stroke-width="1.1"/>
<polygon points="712,728.8 703.8,724.6 706.2,728.8 703.8,733" fill="#18245a"/>
<path d="M613.8,548 L613.8,632.5" fill="none" stroke="#3b4a80" stroke-width="1.1"/>
<polygon points="613.8,636.5 609.6,628.3 613.8,630.7 618,628.3" fill="#18245a"/>
<path d="M725.5,610 L725.5,634" fill="none" stroke="#3b4a80" stroke-width="1.1"/>
<polygon points="725.5,638 721.3,629.8 725.5,632.2 729.7,629.8" fill="#18245a"/>
<path d="M96,87.5 H163 Q166,87.5 166,90.5 V102.5 Q166,105.5 163,105.5 H141 Q137,105.5 137,109.5 V156 Q137,160 133,160 H126 Q122,160 122,156 V109.5 Q122,105.5 118,105.5 H96 Q93,105.5 93,102.5 V90.5 Q93,87.5 96,87.5 Z" fill="url(#g0)" stroke="#c98db3" stroke-width="1.2"/>
<ellipse cx="128" cy="73" rx="40" ry="23" fill="url(#g1)" stroke="#8d5ca6" stroke-width="1.2"/>
<text x="129.2" y="70.19" fill="#6b3a8c" font-size="11.8" font-weight="bold" text-anchor="middle">Growth</text>
<text x="128.8" y="84.69" fill="#6b3a8c" font-size="11.8" font-weight="bold" text-anchor="middle">Hormones</text>
<text x="60.6" y="75.89" fill="#5b2d80" font-size="11.8" font-weight="bold" text-anchor="middle">Growth</text>
<text x="60.6" y="90.19" fill="#5b2d80" font-size="11.8" font-weight="bold" text-anchor="middle">Hormones</text>
<text x="60.6" y="104.49" fill="#5b2d80" font-size="11.8" font-weight="bold" text-anchor="middle">Receptors</text>
<rect x="49" y="182.2" width="49" height="24.8" rx="12.4" fill="url(#g2)" stroke="#3766b6" stroke-width="1.2"/>
<text x="72.3" y="198.79" fill="#1a2858" font-size="11.8" font-weight="bold" text-anchor="middle">JAK2</text>
<ellipse cx="42.5" cy="194.3" rx="10.3" ry="10.3" fill="url(#g3)" stroke="#ea8e3a" stroke-width="1.15"/>
<text x="42.5" y="198.49" fill="#b02422" font-size="11.8" font-weight="bold" text-anchor="middle">P</text>
<rect x="166" y="164" width="51" height="24" rx="12" fill="url(#g2)" stroke="#3766b6" stroke-width="1.2"/>
<text x="191.5" y="180.19" fill="#1a2858" font-size="11.8" font-weight="bold" text-anchor="middle">JAK2</text>
<ellipse cx="190.5" cy="197" rx="10.3" ry="10.3" fill="url(#g3)" stroke="#ea8e3a" stroke-width="1.15"/>
<text x="190.5" y="201.19" fill="#b02422" font-size="11.8" font-weight="bold" text-anchor="middle">P</text>
<ellipse cx="90.4" cy="243" rx="25.3" ry="17" fill="url(#g4)" stroke="#3b7598" stroke-width="1.2"/>
<text x="89.2" y="247.19" fill="#1f5565" font-size="11.8" font-weight="bold" text-anchor="middle">STAT5</text>
<ellipse cx="57" cy="243" rx="10.3" ry="10.3" fill="url(#g3)" stroke="#ea8e3a" stroke-width="1.15"/>
<text x="57" y="247.19" fill="#b02422" font-size="11.8" font-weight="bold" text-anchor="middle">P</text>
<ellipse cx="160" cy="243" rx="26" ry="17" fill="url(#g5)" stroke="#e2623f" stroke-width="1.2"/>
<text x="160" y="247.19" fill="#b3202a" font-size="11.8" font-weight="bold" text-anchor="middle">STAT3</text>
<ellipse cx="190.5" cy="243" rx="10.3" ry="10.3" fill="url(#g3)" stroke="#ea8e3a" stroke-width="1.15"/>
<text x="190.5" y="247.19" fill="#b02422" font-size="11.8" font-weight="bold" text-anchor="middle">P</text>
<ellipse cx="90.4" cy="384.5" rx="25.3" ry="17" fill="url(#g4)" stroke="#3b7598" stroke-width="1.2"/>
<text x="89.2" y="388.69" fill="#1f5565" font-size="11.8" font-weight="bold" text-anchor="middle">STAT5</text>
<ellipse cx="90.4" cy="408.8" rx="25.3" ry="17" fill="url(#g4)" stroke="#3b7598" stroke-width="1.2"/>
<text x="89.2" y="412.99" fill="#1f5565" font-size="11.8" font-weight="bold" text-anchor="middle">STAT5</text>
<ellipse cx="57" cy="384.5" rx="10.3" ry="10.3" fill="url(#g3)" stroke="#ea8e3a" stroke-width="1.15"/>
<text x="57" y="388.69" fill="#b02422" font-size="11.8" font-weight="bold" text-anchor="middle">P</text>
<ellipse cx="57" cy="408.8" rx="10.3" ry="10.3" fill="url(#g3)" stroke="#ea8e3a" stroke-width="1.15"/>
<text x="57" y="412.99" fill="#b02422" font-size="11.8" font-weight="bold" text-anchor="middle">P</text>
<ellipse cx="160.5" cy="384.5" rx="26" ry="17" fill="url(#g5)" stroke="#e2623f" stroke-width="1.2"/>
<text x="160.5" y="388.69" fill="#b3202a" font-size="11.8" font-weight="bold" text-anchor="middle">STAT3</text>
<ellipse cx="160.5" cy="408.8" rx="26" ry="17" fill="url(#g5)" stroke="#e2623f" stroke-width="1.2"/>
<text x="160.5" y="412.99" fill="#b3202a" font-size="11.8" font-weight="bold" text-anchor="middle">STAT3</text>
<ellipse cx="192.5" cy="384.5" rx="10.3" ry="10.3" fill="url(#g3)" stroke="#ea8e3a" stroke-width="1.15"/>
<text x="192.5" y="388.69" fill="#b02422" font-size="11.8" font-weight="bold" text-anchor="middle">P</text>
<ellipse cx="192.5" cy="408.8" rx="10.3" ry="10.3" fill="url(#g3)" stroke="#ea8e3a" stroke-width="1.15"/>
<text x="192.5" y="412.99" fill="#b02422" font-size="11.8" font-weight="bold" text-anchor="middle">P</text>
<ellipse cx="126" cy="541.3" rx="25.4" ry="17" fill="url(#g6)" stroke="#3b6ebc" stroke-width="1.2"/>
<text x="126" y="545.49" fill="#1f2f78" font-size="11.8" font-weight="bold" text-anchor="middle">STATs</text>
<ellipse cx="126" cy="567.5" rx="25.4" ry="17" fill="url(#g6)" stroke="#3b6ebc" stroke-width="1.2"/>
<text x="126" y="571.69" fill="#1f2f78" font-size="11.8" font-weight="bold" text-anchor="middle">STATs</text>
<ellipse cx="158.8" cy="541.3" rx="10.3" ry="10.3" fill="url(#g3)" stroke="#ea8e3a" stroke-width="1.15"/>
<text x="158.8" y="545.49" fill="#b02422" font-size="11.8" font-weight="bold" text-anchor="middle">P</text>
<ellipse cx="158.8" cy="567.5" rx="10.3" ry="10.3" fill="url(#g3)" stroke="#ea8e3a" stroke-width="1.15"/>
<text x="158.8" y="571.69" fill="#b02422" font-size="11.8" font-weight="bold" text-anchor="middle">P</text>
<rect x="270.5" y="70" width="22.2" height="112.6" rx="11" fill="url(#g7)" stroke="#e0606a" stroke-width="1.2"/>
<rect x="292.7" y="70" width="22.3" height="112.6" rx="11" fill="url(#g7)" stroke="#e0606a" stroke-width="1.2"/>
<ellipse cx="293.4" cy="67" rx="26.6" ry="13.2" fill="url(#g8)" stroke="#d24c3e" stroke-width="1.2"/>
<text x="293.4" y="71.19" fill="#a52030" font-size="11.8" font-weight="bold" text-anchor="middle">IFNγ</text>
<text x="281.7" y="97.37" fill="#b02034" font-size="12.3" font-weight="bold" text-anchor="middle">I</text>
<text x="281.7" y="111.67" fill="#b02034" font-size="12.3" font-weight="bold" text-anchor="middle">F</text>
<text x="281.7" y="125.97" fill="#b02034" font-size="12.3" font-weight="bold" text-anchor="middle">N</text>
<text x="281.7" y="140.27" fill="#b02034" font-size="12.3" font-weight="bold" text-anchor="middle">Y</text>
<text x="281.7" y="154.57" fill="#b02034" font-size="12.3" font-weight="bold" text-anchor="middle">R</text>
<text x="281.7" y="168.87" fill="#b02034" font-size="12.3" font-weight="bold" text-anchor="middle">1</text>
<text x="304" y="97.37" fill="#b02034" font-size="12.3" font-weight="bold" text-anchor="middle">I</text>
<text x="304" y="111.67" fill="#b02034" font-size="12.3" font-weight="bold" text-anchor="middle">F</text>
<text x="304" y="125.97" fill="#b02034" font-size="12.3" font-weight="bold" text-anchor="middle">N</text>
<text x="304" y="140.27" fill="#b02034" font-size="12.3" font-weight="bold" text-anchor="middle">Y</text>
<text x="304" y="154.57" fill="#b02034" font-size="12.3" font-weight="bold" text-anchor="middle">R</text>
<text x="304" y="168.87" fill="#b02034" font-size="12.3" font-weight="bold" text-anchor="middle">2</text>
<rect x="222" y="130.5" width="49" height="24.5" rx="12.25" fill="url(#g9)" stroke="#4a7dc2" stroke-width="1.2"/>
<text x="244.5" y="146.94" fill="#1f2d5c" font-size="11.8" font-weight="bold" text-anchor="middle">JAK1</text>
<ellipse cx="214" cy="142.6" rx="10.3" ry="10.3" fill="url(#g3)" stroke="#ea8e3a" stroke-width="1.15"/>
<text x="214" y="146.79" fill="#b02422" font-size="11.8" font-weight="bold" text-anchor="middle">P</text>
<rect x="314.5" y="130.5" width="50.5" height="24.5" rx="12.25" fill="url(#g2)" stroke="#3766b6" stroke-width="1.2"/>
<text x="339.75" y="146.94" fill="#1a2858" font-size="11.8" font-weight="bold" text-anchor="middle">JAK2</text>
<ellipse cx="372" cy="142.6" rx="10.3" ry="10.3" fill="url(#g3)" stroke="#ea8e3a" stroke-width="1.15"/>
<text x="372" y="146.79" fill="#b02422" font-size="11.8" font-weight="bold" text-anchor="middle">P</text>
<ellipse cx="247.3" cy="210" rx="25" ry="17.6" fill="url(#g10)" stroke="#c25472" stroke-width="1.2"/>
<text x="245.3" y="214.19" fill="#a02048" font-size="11.8" font-weight="bold" text-anchor="middle">STAT1</text>
<ellipse cx="214.2" cy="210" rx="10.3" ry="10.3" fill="url(#g3)" stroke="#ea8e3a" stroke-width="1.15"/>
<text x="214.2" y="214.19" fill="#b02422" font-size="11.8" font-weight="bold" text-anchor="middle">P</text>
<ellipse cx="341" cy="210" rx="26.5" ry="17.6" fill="url(#g10)" stroke="#c25472" stroke-width="1.2"/>
<text x="341" y="214.19" fill="#a02048" font-size="11.8" font-weight="bold" text-anchor="middle">STAT1</text>
<ellipse cx="294.8" cy="385" rx="25.3" ry="17.5" fill="url(#g10)" stroke="#c25472" stroke-width="1.2"/>
<text x="292.8" y="389.19" fill="#a02048" font-size="11.8" font-weight="bold" text-anchor="middle">STAT1</text>
<ellipse cx="294.8" cy="408.8" rx="25.3" ry="17.5" fill="url(#g10)" stroke="#c25472" stroke-width="1.2"/>
<text x="292.8" y="412.99" fill="#a02048" font-size="11.8" font-weight="bold" text-anchor="middle">STAT1</text>
<ellipse cx="261.8" cy="385" rx="10.3" ry="10.3" fill="url(#g3)" stroke="#ea8e3a" stroke-width="1.15"/>
<text x="261.8" y="389.19" fill="#b02422" font-size="11.8" font-weight="bold" text-anchor="middle">P</text>
<ellipse cx="261.8" cy="408.8" rx="10.3" ry="10.3" fill="url(#g3)" stroke="#ea8e3a" stroke-width="1.15"/>
<text x="261.8" y="412.99" fill="#b02422" font-size="11.8" font-weight="bold" text-anchor="middle">P</text>
<rect x="428.8" y="70" width="22.5" height="115.6" rx="11" fill="url(#g11)" stroke="#62a55e" stroke-width="1.2"/>
<rect x="451.3" y="70" width="22.5" height="115.6" rx="11" fill="url(#g11)" stroke="#62a55e" stroke-width="1.2"/>
<ellipse cx="451.5" cy="67" rx="26.6" ry="13.2" fill="url(#g8)" stroke="#d24c3e" stroke-width="1.2"/>
<text x="451.5" y="71.19" fill="#a52030" font-size="11.8" font-weight="bold" text-anchor="middle">IFNα/β</text>
<text x="439.6" y="106.37" fill="#1f7040" font-size="12.3" font-weight="bold" text-anchor="middle">I</text>
<text x="439.6" y="120.67" fill="#1f7040" font-size="12.3" font-weight="bold" text-anchor="middle">F</text>
<text x="439.6" y="134.97" fill="#1f7040" font-size="12.3" font-weight="bold" text-anchor="middle">N</text>
<text x="439.6" y="149.27" fill="#1f7040" font-size="12.3" font-weight="bold" text-anchor="middle">A</text>
<text x="439.6" y="163.57" fill="#1f7040" font-size="12.3" font-weight="bold" text-anchor="middle">1</text>
<text x="462" y="106.37" fill="#1f7040" font-size="12.3" font-weight="bold" text-anchor="middle">I</text>
<text x="462" y="120.67" fill="#1f7040" font-size="12.3" font-weight="bold" text-anchor="middle">F</text>
<text x="462" y="134.97" fill="#1f7040" font-size="12.3" font-weight="bold" text-anchor="middle">N</text>
<text x="462" y="149.27" fill="#1f7040" font-size="12.3" font-weight="bold" text-anchor="middle">A</text>
<text x="462" y="163.57" fill="#1f7040" font-size="12.3" font-weight="bold" text-anchor="middle">2</text>
<rect x="380" y="166" width="49" height="24" rx="12" fill="url(#g9)" stroke="#4a7dc2" stroke-width="1.2"/>
<text x="402.5" y="182.19" fill="#1f2d5c" font-size="11.8" font-weight="bold" text-anchor="middle">JAK1</text>
<ellipse cx="372" cy="178" rx="10.3" ry="10.3" fill="url(#g3)" stroke="#ea8e3a" stroke-width="1.15"/>
<text x="372" y="182.19" fill="#b02422" font-size="11.8" font-weight="bold" text-anchor="middle">P</text>
<rect x="474" y="166" width="48.5" height="24" rx="12" fill="url(#g12)" stroke="#d4524e" stroke-width="1.2"/>
<text x="498.25" y="182.19" fill="#9c1c30" font-size="11.8" font-weight="bold" text-anchor="middle">TYK2</text>
<ellipse cx="530" cy="178" rx="10.3" ry="10.3" fill="url(#g3)" stroke="#ea8e3a" stroke-width="1.15"/>
<text x="530" y="182.19" fill="#b02422" font-size="11.8" font-weight="bold" text-anchor="middle">P</text>
<ellipse cx="405" cy="245" rx="25" ry="16.8" fill="url(#g10)" stroke="#c25472" stroke-width="1.2"/>
<text x="403.5" y="249.19" fill="#a02048" font-size="11.8" font-weight="bold" text-anchor="middle">STAT1</text>
<ellipse cx="371.8" cy="245" rx="10.3" ry="10.3" fill="url(#g3)" stroke="#ea8e3a" stroke-width="1.15"/>
<text x="371.8" y="249.19" fill="#b02422" font-size="11.8" font-weight="bold" text-anchor="middle">P</text>
<ellipse cx="498.4" cy="245" rx="25.4" ry="16.8" fill="url(#g13)" stroke="#4170b8" stroke-width="1.2"/>
<text x="498.4" y="249.19" fill="#2561b5" font-size="11.8" font-weight="bold" text-anchor="middle">STAT2</text>
<ellipse cx="530" cy="245" rx="10.3" ry="10.3" fill="url(#g3)" stroke="#ea8e3a" stroke-width="1.15"/>
<text x="530" y="249.19" fill="#b02422" font-size="11.8" font-weight="bold" text-anchor="middle">P</text>
<ellipse cx="387.5" cy="320" rx="26.3" ry="17" fill="url(#g14)" stroke="#d04a5a" stroke-width="1.2"/>
<text x="387.5" y="324.19" fill="#a01832" font-size="11.8" font-weight="bold" text-anchor="middle">IRF9</text>
<ellipse cx="452" cy="364" rx="25.6" ry="16.5" fill="url(#g10)" stroke="#c25472" stroke-width="1.2"/>
<text x="451" y="368.19" fill="#a02048" font-size="11.8" font-weight="bold" text-anchor="middle">STAT1</text>
<ellipse cx="452" cy="390" rx="25.6" ry="16.5" fill="url(#g13)" stroke="#4170b8" stroke-width="1.2"/>
<text x="452" y="394.19" fill="#2561b5" font-size="11.8" font-weight="bold" text-anchor="middle">STAT2</text>
<ellipse cx="420" cy="364" rx="10.3" ry="10.3" fill="url(#g3)" stroke="#ea8e3a" stroke-width="1.15"/>
<text x="420" y="368.19" fill="#b02422" font-size="11.8" font-weight="bold" text-anchor="middle">P</text>
<ellipse cx="420" cy="390" rx="10.3" ry="10.3" fill="url(#g3)" stroke="#ea8e3a" stroke-width="1.15"/>
<text x="420" y="394.19" fill="#b02422" font-size="11.8" font-weight="bold" text-anchor="middle">P</text>
<ellipse cx="451" cy="415.3" rx="26" ry="16" fill="url(#g14)" stroke="#d04a5a" stroke-width="1.2"/>
<text x="451" y="419.49" fill="#a01832" font-size="11.8" font-weight="bold" text-anchor="middle">IRF9</text>
<rect x="584" y="70" width="17.3" height="99.3" rx="8.6" fill="url(#g15)" stroke="#86abd4" stroke-width="1.1"/>
<rect x="601.3" y="70" width="17.7" height="99.3" rx="8.6" fill="url(#g15)" stroke="#86abd4" stroke-width="1.1"/>
<ellipse cx="600.7" cy="67.1" rx="35.7" ry="14.3" fill="url(#g16)" stroke="#d2445e" stroke-width="1.2"/>
<text x="600.7" y="71.29" fill="#a02040" font-size="11.8" font-weight="bold" text-anchor="middle">Cytokines</text>
<text x="578" y="90.19" fill="#2a3b8c" font-size="11.8" font-weight="bold" text-anchor="end">Cytokine</text>
<text x="578" y="104.99" fill="#2a3b8c" font-size="11.8" font-weight="bold" text-anchor="end">Receptor</text>
<polygon points="537,137.5 543,131.5 578,131.5 584,137.5 584,149 578,155 543,155 537,149" fill="url(#g17)" stroke="#6ea644" stroke-width="1.2" stroke-linejoin="round"/>
<text x="558.5" y="147.64" fill="#1f6a3a" font-size="11.8" font-weight="bold" text-anchor="middle">JAKs</text>
<ellipse cx="529" cy="143" rx="10.3" ry="10.3" fill="url(#g3)" stroke="#ea8e3a" stroke-width="1.15"/>
<text x="529" y="147.19" fill="#b02422" font-size="11.8" font-weight="bold" text-anchor="middle">P</text>
<polygon points="619,137.5 625,131.5 658,131.5 664,137.5 664,149 658,155 625,155 619,149" fill="url(#g17)" stroke="#6ea644" stroke-width="1.2" stroke-linejoin="round"/>
<text x="641.5" y="147.64" fill="#1f6a3a" font-size="11.8" font-weight="bold" text-anchor="middle">JAKs</text>
<ellipse cx="671" cy="143" rx="10.3" ry="10.3" fill="url(#g3)" stroke="#ea8e3a" stroke-width="1.15"/>
<text x="671" y="147.19" fill="#b02422" font-size="11.8" font-weight="bold" text-anchor="middle">P</text>
<ellipse cx="559" cy="210" rx="22.3" ry="17" fill="url(#g6)" stroke="#3b6ebc" stroke-width="1.2"/>
<text x="558" y="214.19" fill="#1f2f78" font-size="11.8" font-weight="bold" text-anchor="middle">STATs</text>
<ellipse cx="529.3" cy="209.6" rx="10.3" ry="10.3" fill="url(#g3)" stroke="#ea8e3a" stroke-width="1.15"/>
<text x="529.3" y="213.79" fill="#b02422" font-size="11.8" font-weight="bold" text-anchor="middle">P</text>
<ellipse cx="643" cy="210" rx="22.3" ry="17" fill="url(#g6)" stroke="#3b6ebc" stroke-width="1.2"/>
<text x="643" y="214.19" fill="#1f2f78" font-size="11.8" font-weight="bold" text-anchor="middle">STATs</text>
<ellipse cx="671" cy="210" rx="10.3" ry="10.3" fill="url(#g3)" stroke="#ea8e3a" stroke-width="1.15"/>
<text x="671" y="214.19" fill="#b02422" font-size="11.8" font-weight="bold" text-anchor="middle">P</text>
<ellipse cx="602.3" cy="337.2" rx="25.2" ry="17" fill="url(#g6)" stroke="#3b6ebc" stroke-width="1.2"/>
<text x="600.8" y="341.39" fill="#1f2f78" font-size="11.8" font-weight="bold" text-anchor="middle">STATs</text>
<ellipse cx="602.3" cy="363.8" rx="25.2" ry="17" fill="url(#g6)" stroke="#3b6ebc" stroke-width="1.2"/>
<text x="600.8" y="367.99" fill="#1f2f78" font-size="11.8" font-weight="bold" text-anchor="middle">STATs</text>
<ellipse cx="570.6" cy="337.2" rx="10.3" ry="10.3" fill="url(#g3)" stroke="#ea8e3a" stroke-width="1.15"/>
<text x="570.6" y="341.39" fill="#b02422" font-size="11.8" font-weight="bold" text-anchor="middle">P</text>
<ellipse cx="570.6" cy="363.8" rx="10.3" ry="10.3" fill="url(#g3)" stroke="#ea8e3a" stroke-width="1.15"/>
<text x="570.6" y="367.99" fill="#b02422" font-size="11.8" font-weight="bold" text-anchor="middle">P</text>
<g fill="none" stroke="#1b2656" stroke-width="1.9" stroke-linecap="round"><path d="M698.5,155 V160 A8.7,8.5 0 0 0 716,160 V155"/><path d="M707,155 V158.5 A8.8,8 0 0 0 724.6,158.5 V155"/><path d="M716,155 V160 A8.5,8.5 0 0 0 733,160 V155"/></g>
<path d="M686,79.6 V146.4 A7,3.6 0 0 0 700,146.4 V79.6 Z" fill="url(#g18)" stroke="#c2527e" stroke-width="1.1"/>
<ellipse cx="693" cy="79.6" rx="7" ry="3.6" fill="#fbe6ee" stroke="#c2527e" stroke-width="1.1"/>
<path d="M700,79.6 V116.4 A7.25,3.6 0 0 0 714.5,116.4 V79.6 Z" fill="url(#g19)" stroke="#4fa56e" stroke-width="1.1"/>
<ellipse cx="707.25" cy="79.6" rx="7.25" ry="3.6" fill="#a6dbb4" stroke="#4fa56e" stroke-width="1.1"/>
<path d="M714.5,79.6 V116.4 A7,3.6 0 0 0 728.5,116.4 V79.6 Z" fill="url(#g20)" stroke="#c44464" stroke-width="1.1"/>
<ellipse cx="721.5" cy="79.6" rx="7" ry="3.6" fill="#ec94aa" stroke="#c44464" stroke-width="1.1"/>
<path d="M728.5,79.6 V145.4 A7.25,3.6 0 0 0 743,145.4 V79.6 Z" fill="url(#g21)" stroke="#62b28a" stroke-width="1.1"/>
<ellipse cx="735.75" cy="79.6" rx="7.25" ry="3.6" fill="#d2efe0" stroke="#62b28a" stroke-width="1.1"/>
<g fill="none" stroke="#1b2656" stroke-width="1.9" stroke-linecap="round"><path d="M708.5,79.5 C709,60 734,58 735.4,80.5"/><path d="M695.4,80 C694.5,70 693,62.5 687,61"/></g>
<path d="M695.4,89.1 V154.2 A6.95,3.6 0 0 0 709.3,154.2 V89.1 Z" fill="url(#g22)" stroke="#b283c4" stroke-width="1.1"/>
<ellipse cx="702.35" cy="89.1" rx="6.95" ry="3.6" fill="#fdeacc" stroke="#b283c4" stroke-width="1.1"/>
<path d="M709.3,89.1 V154.2 A6.95,3.6 0 0 0 723.2,154.2 V89.1 Z" fill="url(#g23)" stroke="#e2923e" stroke-width="1.1"/>
<ellipse cx="716.25" cy="89.1" rx="6.95" ry="3.6" fill="#fdf4b4" stroke="#e2923e" stroke-width="1.1"/>
<path d="M723.2,89.1 V154.2 A7.25,3.6 0 0 0 737.7,154.2 V89.1 Z" fill="url(#g24)" stroke="#5282c4" stroke-width="1.1"/>
<ellipse cx="730.45" cy="89.1" rx="7.25" ry="3.6" fill="#f6f6f0" stroke="#5282c4" stroke-width="1.1"/>
<g fill="none" stroke="#1b2656" stroke-width="1.9" stroke-linecap="round"><path d="M701.5,89 C702,78 718,78 718.5,90"/><path d="M721.5,78.5 C724,66 731,68 732.8,90"/></g>
<text x="716.2" y="108.37" fill="#d02a22" font-size="12.3" font-weight="bold" text-anchor="middle">G</text>
<text x="716.2" y="122.57" fill="#d02a22" font-size="12.3" font-weight="bold" text-anchor="middle">P</text>
<text x="716.2" y="136.77" fill="#d02a22" font-size="12.3" font-weight="bold" text-anchor="middle">C</text>
<text x="716.2" y="150.97" fill="#d02a22" font-size="12.3" font-weight="bold" text-anchor="middle">R</text>
<polygon points="664,173.6 670,167.6 703.3,167.6 709.3,173.6 709.3,184.3 703.3,190.3 670,190.3 664,184.3" fill="url(#g17)" stroke="#6ea644" stroke-width="1.2" stroke-linejoin="round"/>
<text x="686.65" y="183.34" fill="#1f6a3a" font-size="11.8" font-weight="bold" text-anchor="middle">JAKs</text>
<ellipse cx="716.2" cy="178" rx="10.3" ry="10.3" fill="url(#g3)" stroke="#ea8e3a" stroke-width="1.15"/>
<text x="716.2" y="182.19" fill="#b02422" font-size="11.8" font-weight="bold" text-anchor="middle">P</text>
<rect x="749" y="121" width="51" height="19" rx="9.5" fill="url(#g25)" stroke="#c274a4" stroke-width="1.2"/>
<text x="774.3" y="133.99" fill="#702044" font-size="11.8" font-weight="bold" text-anchor="middle">SHP1</text>
<ellipse cx="774" cy="157.8" rx="26.4" ry="17.1" fill="url(#g26)" stroke="#c24474" stroke-width="1.2"/>
<text x="774" y="161.99" fill="#a02050" font-size="11.8" font-weight="bold" text-anchor="middle">STATIP</text>
<rect x="900.5" y="110" width="49.5" height="20" rx="10" fill="url(#g27)" stroke="#e07262" stroke-width="1.2"/>
<text x="925.25" y="124.19" fill="#b02034" font-size="11.8" font-weight="bold" text-anchor="middle">SHP2</text>
<text x="924" y="124.19" fill="#000" font-size="11.8" font-weight="bold" text-anchor="middle"></text>
<rect x="944" y="128" width="45.5" height="24.5" rx="5" fill="url(#g28)" stroke="#4282c2" stroke-width="1.2"/>
<text x="966.75" y="144.44" fill="#20386a" font-size="11.8" font-weight="bold" text-anchor="middle">GRB2</text>
<ellipse cx="961.6" cy="120" rx="18" ry="11.2" fill="url(#g29)" stroke="#d2445e" stroke-width="1.2"/>
<text x="961.6" y="124.19" fill="#b02034" font-size="11.8" font-weight="bold" text-anchor="middle">SOS</text>
<path d="M1020.8,112.1 A9.3,9.3 0 0 1 1034.7,112 A10.2,10.2 0 0 1 1047,124 A7.8,7.8 0 0 1 1042.9,138.4 A12.5,12.5 0 0 1 1022.4,137.7 A6.9,6.9 0 0 1 1014.6,126.5 A8,8 0 0 1 1020.8,112.1 Z" fill="url(#rasg)" stroke="#34a356" stroke-width="1.5" stroke-linejoin="round"/>
<text x="1030.3" y="129.39" fill="#1f5440" font-size="11.8" font-weight="bold" text-anchor="middle">Ras</text>
<polygon points="1010,229.5 1017,222.5 1043,222.5 1050,229.5 1050,238.8 1043,245.8 1017,245.8 1010,238.8" fill="url(#g30)" stroke="#bc7e4a" stroke-width="1.2" stroke-linejoin="round"/>
<text x="1030" y="238.34" fill="#c02052" font-size="11.8" font-weight="bold" text-anchor="middle">Raf</text>
<polygon points="1006,332.8 1014,324.8 1044.5,324.8 1052.5,332.8 1052.5,345.5 1044.5,353.5 1014,353.5 1006,345.5" fill="url(#g31)" stroke="#ac4a60" stroke-width="1.2" stroke-linejoin="round"/>
<text x="1029.25" y="343.34" fill="#601042" font-size="11.8" font-weight="bold" text-anchor="middle">MEK</text>
<polygon points="919.5,332.8 927.5,324.8 959,324.8 967,332.8 967,345.5 959,353.5 927.5,353.5 919.5,345.5" fill="url(#g32)" stroke="#5868ac" stroke-width="1.2" stroke-linejoin="round"/>
<text x="943.25" y="343.34" fill="#302062" font-size="11.8" font-weight="bold" text-anchor="middle">ERKs</text>
<polygon points="820,137.5 826,131.5 858.6,131.5 864.6,137.5 864.6,149 858.6,155 826,155 820,149" fill="url(#g17)" stroke="#6ea644" stroke-width="1.2" stroke-linejoin="round"/>
<text x="841.3" y="147.64" fill="#1f6a3a" font-size="11.8" font-weight="bold" text-anchor="middle">JAKs</text>
<polygon points="877.4,137.5 883.4,131.5 914,131.5 920,137.5 920,149 914,155 883.4,155 877.4,149" fill="url(#g17)" stroke="#6ea644" stroke-width="1.2" stroke-linejoin="round"/>
<text x="899" y="147.64" fill="#1f6a3a" font-size="11.8" font-weight="bold" text-anchor="middle">JAKs</text>
<path d="M839,91 V103 Q839,106 842,106 H860 Q864,106 864,110 V156 Q864,160 868,160 H874 Q878,160 878,156 V110 Q878,106 882,106 H900 Q903,106 903,103 V91 Z" fill="url(#g33)" stroke="#4892cc" stroke-width="1.2"/>
<path d="M839,91 V86 A32,32 0 0 1 903,86 V91 Z" fill="url(#g34)" stroke="#d2606a" stroke-width="1.2"/>
<text x="871" y="69.49" fill="#b02052" font-size="11.8" font-weight="bold" text-anchor="middle">Growth</text>
<text x="871" y="84.19" fill="#b02052" font-size="11.8" font-weight="bold" text-anchor="middle">Factors</text>
<text x="871" y="113.26" fill="#203070" font-size="12" font-weight="bold" text-anchor="middle">R</text>
<text x="871" y="126.86" fill="#203070" font-size="12" font-weight="bold" text-anchor="middle">T</text>
<text x="871" y="140.46" fill="#203070" font-size="12" font-weight="bold" text-anchor="middle">K</text>
<ellipse cx="812.5" cy="142.6" rx="10.3" ry="10.3" fill="url(#g3)" stroke="#ea8e3a" stroke-width="1.15"/>
<text x="812.5" y="146.79" fill="#b02422" font-size="11.8" font-weight="bold" text-anchor="middle">P</text>
<ellipse cx="927.5" cy="142.6" rx="10.3" ry="10.3" fill="url(#g3)" stroke="#ea8e3a" stroke-width="1.15"/>
<text x="927.5" y="146.79" fill="#b02422" font-size="11.8" font-weight="bold" text-anchor="middle">P</text>
<ellipse cx="849.6" cy="177.5" rx="16" ry="22.8" fill="url(#g35)" stroke="#3a6aba" stroke-width="1.2"/>
<text x="849.6" y="181.69" fill="#1f2f78" font-size="11.8" font-weight="bold" text-anchor="middle">STAT</text>
<ellipse cx="892" cy="177.5" rx="16" ry="22.8" fill="url(#g35)" stroke="#3a6aba" stroke-width="1.2"/>
<text x="892" y="181.69" fill="#1f2f78" font-size="11.8" font-weight="bold" text-anchor="middle">STAT</text>
<ellipse cx="824" cy="190" rx="10.3" ry="10.3" fill="url(#g3)" stroke="#ea8e3a" stroke-width="1.15"/>
<text x="824" y="194.19" fill="#b02422" font-size="11.8" font-weight="bold" text-anchor="middle">P</text>
<ellipse cx="915" cy="190" rx="10.3" ry="10.3" fill="url(#g3)" stroke="#ea8e3a" stroke-width="1.15"/>
<text x="915" y="194.19" fill="#b02422" font-size="11.8" font-weight="bold" text-anchor="middle">P</text>
<ellipse cx="669.6" cy="337.2" rx="23.4" ry="16.4" fill="url(#g36)" stroke="#c27252" stroke-width="1.2"/>
<text x="669.6" y="341.39" fill="#902034" font-size="11.8" font-weight="bold" text-anchor="middle">SH2B</text>
<rect x="699.5" y="322" width="48.5" height="32" rx="4" fill="url(#g37)" stroke="#c27666" stroke-width="1.2"/>
<text x="723.8" y="342.99" fill="#a02034" font-size="11.8" font-weight="bold" text-anchor="middle">STAM</text>
<ellipse cx="709.5" cy="355.8" rx="10.3" ry="10.3" fill="url(#g3)" stroke="#ea8e3a" stroke-width="1.15"/>
<text x="709.5" y="359.99" fill="#b02422" font-size="11.8" font-weight="bold" text-anchor="middle">P</text>
<ellipse cx="776.8" cy="337.2" rx="23.4" ry="16.6" fill="url(#g38)" stroke="#d66c52" stroke-width="1.2"/>
<text x="776.8" y="341.39" fill="#a02034" font-size="11.8" font-weight="bold" text-anchor="middle">SOCS</text>
<polygon points="807.5,331.5 815,324 840,324 847.5,338.3 840,352.6 815,352.6 807.5,345" fill="url(#g39)" stroke="#42a244" stroke-width="1.2" stroke-linejoin="round"/>
<polygon points="840,324 852.5,324 861,338.3 852.5,352.6 840,352.6 847.5,338.3" fill="url(#g40)" stroke="#c45232" stroke-width="1.2" stroke-linejoin="round"/>
<text x="829.5" y="342.79" fill="#1f5222" font-size="11.8" font-weight="bold" text-anchor="middle">PI3K</text>
<polygon points="810.5,378.5 818.5,370.5 849,370.5 857,378.5 857,391 849,399 818.5,399 810.5,391" fill="url(#g41)" stroke="#b04232" stroke-width="1.2" stroke-linejoin="round"/>
<text x="833.75" y="388.94" fill="#70180f" font-size="11.8" font-weight="bold" text-anchor="middle">Akt</text>
<rect x="804.5" y="416" width="58" height="31.5" rx="4" fill="#f9ead0"/>
<text x="833.5" y="428.69" fill="#b06222" font-size="11.8" font-weight="bold" text-anchor="middle">Akt</text>
<text x="833.5" y="443.19" fill="#b06222" font-size="11.8" font-weight="bold" text-anchor="middle">Pathway</text>
<ellipse cx="527.3" cy="486" rx="24.8" ry="17" fill="url(#g6)" stroke="#3b6ebc" stroke-width="1.2"/>
<text x="527.3" y="490.19" fill="#1f2f78" font-size="11.8" font-weight="bold" text-anchor="middle">STATs</text>
<ellipse cx="574.7" cy="486" rx="26" ry="15.6" fill="url(#g42)" stroke="#c24472" stroke-width="1.2"/>
<text x="574.7" y="490.19" fill="#a02052" font-size="11.8" font-weight="bold" text-anchor="middle">Ubc9</text>
<ellipse cx="527.3" cy="459.8" rx="24.8" ry="17" fill="url(#g6)" stroke="#3b6ebc" stroke-width="1.2"/>
<text x="527.3" y="463.99" fill="#1f2f78" font-size="11.8" font-weight="bold" text-anchor="middle">STATs</text>
<ellipse cx="574.7" cy="459.8" rx="26" ry="15.6" fill="url(#g43)" stroke="#4a7ac2" stroke-width="1.2"/>
<text x="574.7" y="463.99" fill="#2a3a7c" font-size="11.8" font-weight="bold" text-anchor="middle">PLAS</text>
<ellipse cx="528" cy="400" rx="22.7" ry="9.8" fill="url(#g44)" stroke="#e2862e" stroke-width="1.2"/>
<text x="528" y="404.19" fill="#b02024" font-size="11.8" font-weight="bold" text-anchor="middle">SUMO</text>
<ellipse cx="528" cy="420.4" rx="22.7" ry="9.8" fill="url(#g44)" stroke="#e2862e" stroke-width="1.2"/>
<text x="528" y="424.59" fill="#b02024" font-size="11.8" font-weight="bold" text-anchor="middle">SUMO</text>
<ellipse cx="528" cy="438.8" rx="22.7" ry="9.8" fill="url(#g44)" stroke="#e2862e" stroke-width="1.2"/>
<text x="528" y="442.99" fill="#b02024" font-size="11.8" font-weight="bold" text-anchor="middle">SUMO</text>
<ellipse cx="870" cy="464.5" rx="25.4" ry="17" fill="url(#g6)" stroke="#3b6ebc" stroke-width="1.2"/>
<text x="870" y="468.69" fill="#1f2f78" font-size="11.8" font-weight="bold" text-anchor="middle">STATs</text>
<ellipse cx="870" cy="490.8" rx="25.4" ry="17" fill="url(#g6)" stroke="#3b6ebc" stroke-width="1.2"/>
<text x="870" y="494.99" fill="#1f2f78" font-size="11.8" font-weight="bold" text-anchor="middle">STATs</text>
<ellipse cx="900.8" cy="464.5" rx="10.3" ry="10.3" fill="url(#g3)" stroke="#ea8e3a" stroke-width="1.15"/>
<text x="900.8" y="468.69" fill="#b02422" font-size="11.8" font-weight="bold" text-anchor="middle">P</text>
<ellipse cx="900.8" cy="490.8" rx="10.3" ry="10.3" fill="url(#g3)" stroke="#ea8e3a" stroke-width="1.15"/>
<text x="900.8" y="494.99" fill="#b02422" font-size="11.8" font-weight="bold" text-anchor="middle">P</text>
<ellipse cx="776.8" cy="521.8" rx="23.4" ry="17" fill="url(#g38)" stroke="#d66c52" stroke-width="1.2"/>
<text x="776.8" y="525.99" fill="#a02034" font-size="11.8" font-weight="bold" text-anchor="middle">SOCS</text>
<rect x="925.5" y="476" width="105.5" height="98" rx="10" fill="#cbe6da"/>
<g clip-path="url(#cbox)"><rect x="931.5" y="482" width="93.5" height="86" rx="7" fill="#fbfdfc" filter="url(#bl)"/></g>
<rect x="925.5" y="476" width="105.5" height="98" rx="10" fill="none" stroke="#68aa97" stroke-width="1.3"/>
<polygon points="937.5,460.5 945,453 982.7,453 990.2,460.5 990.2,468.7 982.7,476.2 945,476.2 937.5,468.7" fill="url(#g17)" stroke="#6ea644" stroke-width="1.2" stroke-linejoin="round"/>
<text x="963.85" y="468.79" fill="#1f6a3a" font-size="11.8" font-weight="bold" text-anchor="middle">JAKs</text>
<ellipse cx="966.2" cy="410" rx="14.1" ry="9.9" fill="url(#g45)" stroke="#e0664a" stroke-width="1.2"/>
<text x="966.2" y="414.19" fill="#a02034" font-size="11.8" font-weight="bold" text-anchor="middle">Ub</text>
<ellipse cx="966.2" cy="428.8" rx="14.1" ry="9.9" fill="url(#g45)" stroke="#e0664a" stroke-width="1.2"/>
<text x="966.2" y="432.99" fill="#a02034" font-size="11.8" font-weight="bold" text-anchor="middle">Ub</text>
<ellipse cx="966.2" cy="447.5" rx="14.1" ry="9.9" fill="url(#g45)" stroke="#e0664a" stroke-width="1.2"/>
<text x="966.2" y="451.69" fill="#a02034" font-size="11.8" font-weight="bold" text-anchor="middle">Ub</text>
<ellipse cx="942" cy="526.8" rx="11" ry="33" fill="url(#g46)" stroke="#82a442" stroke-width="1.2"/>
<text transform="translate(938,526.8) rotate(90)" y="0" fill="#1f6a34" font-size="11.8" font-weight="bold" text-anchor="middle">Elongin-B</text>
<ellipse cx="1015" cy="526.8" rx="10.7" ry="33" fill="url(#g47)" stroke="#3a74ba" stroke-width="1.2"/>
<text transform="translate(1011,526.8) rotate(90)" y="0" fill="#2052a2" font-size="11.8" font-weight="bold" text-anchor="middle">Cullin2</text>
<ellipse cx="977" cy="501.8" rx="20.6" ry="13.8" fill="url(#g48)" stroke="#c8627c" stroke-width="1.2"/>
<text x="977" y="505.99" fill="#902042" font-size="11.8" font-weight="bold" text-anchor="middle">SOCS</text>
<ellipse cx="977" cy="548" rx="20.6" ry="14.8" fill="url(#g49)" stroke="#b8608a" stroke-width="1.2"/>
<text x="977" y="552.19" fill="#802052" font-size="11.8" font-weight="bold" text-anchor="middle">Rbx1</text>
<ellipse cx="977" cy="523" rx="32.4" ry="10.7" fill="url(#g50)" stroke="#e2623f" stroke-width="1.2"/>
<text x="977" y="527.19" fill="#b02034" font-size="11.8" font-weight="bold" text-anchor="middle">Elongin-C</text>
<ellipse cx="977" cy="619" rx="42.4" ry="17.2" fill="url(#g51)" stroke="#b24444" stroke-width="1.2"/>
<text x="977" y="623.19" fill="#b02424" font-size="11.8" font-weight="bold" text-anchor="middle">Proteasome</text>
<text x="977" y="676.19" fill="#952233" font-size="11.8" font-weight="bold" text-anchor="middle">JAK Degradation</text>
<polygon points="971.91,691.68 972.88,684.37 977.76,681.93 982.14,684.37 976.78,689.73" fill="#c8a566"/>
<polygon points="990.92,696.55 991.4,688.27 999.69,679.98 1005.05,680.96 1004.56,683.88 997.25,693.14" fill="#c8a566"/>
<polygon points="952.9,687.29 962.16,688.75 969.47,698.5 963.63,699.47 957.29,697.52" fill="#c8a566"/>
<polygon points="974.83,697.04 980.68,694.6 986.53,695.58 989.45,699.96 982.14,702.4" fill="#c8a566"/>
<polygon points="989.94,710.19 993.35,701.91 1005.54,694.11 1007.97,696.55 997.74,709.22" fill="#c8a566"/>
<polygon points="956.8,702.4 965.58,704.83 967.04,709.71 960.7,713.12 956.32,706.78" fill="#c8a566"/>
<polygon points="971.42,706.3 975.81,703.86 978.73,705.81 977.76,714.09 974.83,713.61" fill="#c8a566"/>
<polygon points="985.56,709.22 987.02,710.68 987.99,716.04 986.04,715.07" fill="#c8a566"/>
<polygon points="1000.66,711.17 1004.56,707.27 1007,708.25 1006.02,710.68" fill="#c8a566"/>
<polygon points="991.4,718.97 1002.61,717.02 1008.46,721.4 1004.07,723.84" fill="#c8a566"/>
<polygon points="946.08,729.69 952.42,721.89 968.01,716.04 970.94,716.53 969.47,721.89 955.34,729.69 949.49,730.66" fill="#c8a566"/>
<polygon points="969.96,731.64 976.3,719.45 978.73,719.45 977.76,735.05 971.42,737.97" fill="#c8a566"/>
<polygon points="983.12,720.92 986.53,719.45 992.38,723.84 1000.66,727.25 1000.66,730.66 985.56,745.28 983.61,744.31" fill="#c8a566"/>
<g clip-path="url(#dc230)"><path d="M231.6,647.89 V658.8 M234.7,646.93 V658.8 M237.8,647.35 V658.8 M240.9,649.2 V658.8 M244,652.88 V658.8 M268.8,653.4 V658.8 M271.9,649.47 V658.8 M275,647.46 V658.8 M278.1,646.91 V658.8 M281.2,647.73 V658.8 M284.3,650.04 V658.8 M287.4,654.59 V658.8 M312.2,651.97 V658.8 M315.3,648.72 V658.8 M318.4,647.16 V658.8 M321.5,647 V658.8 M324.6,648.24 V658.8 M327.7,651.05 V658.8 M330.8,657.47 V658.8 M352.5,656.56 V658.8 M247.1,658.8 V663.33 M250.2,658.8 V667.71 M253.3,658.8 V669.94 M256.4,658.8 V670.7 M259.5,658.8 V670.07 M262.6,658.8 V668 M265.7,658.8 V663.93 M290.5,658.8 V664.96 M293.6,658.8 V668.52 M296.7,658.8 V670.3 M299.8,658.8 V670.66 M302.9,658.8 V669.63 M306,658.8 V667.08 M309.1,658.8 V661.87 M333.9,658.8 V666.24 M337,658.8 V669.2 M340.1,658.8 V670.55 M343.2,658.8 V670.5 M346.3,658.8 V669.06 M349.4,658.8 V665.98" stroke="#c3ead3" stroke-width="2" fill="none"/><path d="M247.1,654.27 V658.8 M250.2,649.89 V658.8 M253.3,647.66 V658.8 M256.4,646.9 V658.8 M259.5,647.53 V658.8 M262.6,649.6 V658.8 M265.7,653.67 V658.8 M290.5,652.64 V658.8 M293.6,649.08 V658.8 M296.7,647.3 V658.8 M299.8,646.94 V658.8 M302.9,647.97 V658.8 M306,650.52 V658.8 M309.1,655.73 V658.8 M333.9,651.36 V658.8 M337,648.4 V658.8 M340.1,647.05 V658.8 M343.2,647.1 V658.8 M346.3,648.54 V658.8 M349.4,651.62 V658.8 M231.6,658.8 V669.71 M234.7,658.8 V670.67 M237.8,658.8 V670.25 M240.9,658.8 V668.4 M244,658.8 V664.72 M268.8,658.8 V664.2 M271.9,658.8 V668.13 M275,658.8 V670.14 M278.1,658.8 V670.69 M281.2,658.8 V669.87 M284.3,658.8 V667.56 M287.4,658.8 V663.01 M312.2,658.8 V665.63 M315.3,658.8 V668.88 M318.4,658.8 V670.44 M321.5,658.8 V670.6 M324.6,658.8 V669.36 M327.7,658.8 V666.55 M330.8,658.8 V660.13 M352.5,658.8 V661.04" stroke="#17597a" stroke-width="2" fill="none"/><polyline points="191.8,670.63 192.31,670.68 192.81,670.7 193.32,670.68 193.82,670.63 194.33,670.53 194.83,670.4 195.34,670.24 195.84,670.03 196.35,669.79 196.85,669.51 197.36,669.19 197.87,668.83 198.37,668.42 198.88,667.97 199.38,667.47 199.89,666.92 200.39,666.31 200.9,665.64 201.4,664.87 201.91,664 202.41,662.97 202.92,661.66 203.42,658.8 203.93,655.94 204.44,654.63 204.94,653.6 205.45,652.73 205.95,651.96 206.46,651.29 206.96,650.68 207.47,650.13 207.97,649.63 208.48,649.18 208.98,648.77 209.49,648.41 210,648.09 210.5,647.81 211.01,647.57 211.51,647.36 212.02,647.2 212.52,647.07 213.03,646.97 213.53,646.92 214.04,646.9 214.54,646.92 215.05,646.97" fill="none" stroke="#17597a" stroke-width="2"/><polyline points="213.05,670.63 213.56,670.68 214.06,670.7 214.57,670.68 215.07,670.63 215.58,670.53 216.08,670.4 216.59,670.24 217.09,670.03 217.6,669.79 218.1,669.51 218.61,669.19 219.12,668.83 219.62,668.42 220.13,667.97 220.63,667.47 221.14,666.92 221.64,666.31 222.15,665.64 222.65,664.87 223.16,664 223.66,662.97 224.17,661.66 224.67,658.8 225.18,655.94 225.69,654.63 226.19,653.6 226.7,652.73 227.2,651.96 227.71,651.29 228.21,650.68 228.72,650.13 229.22,649.63 229.73,649.18 230.23,648.77 230.74,648.41 231.25,648.09 231.75,647.81 232.26,647.57 232.76,647.36 233.27,647.2 233.77,647.07 234.28,646.97 234.78,646.92 235.29,646.9 235.79,646.92 236.3,646.97" fill="none" stroke="#c3ead3" stroke-width="2"/><polyline points="234.3,670.63 234.81,670.68 235.31,670.7 235.82,670.68 236.32,670.63 236.83,670.53 237.33,670.4 237.84,670.24 238.34,670.03 238.85,669.79 239.35,669.51 239.86,669.19 240.37,668.83 240.87,668.42 241.38,667.97 241.88,667.47 242.39,666.92 242.89,666.31 243.4,665.64 243.9,664.87 244.41,664 244.91,662.97 245.42,661.66 245.92,658.8 246.43,655.94 246.94,654.63 247.44,653.6 247.95,652.73 248.45,651.96 248.96,651.29 249.46,650.68 249.97,650.13 250.47,649.63 250.98,649.18 251.48,648.77 251.99,648.41 252.5,648.09 253,647.81 253.51,647.57 254.01,647.36 254.52,647.2 255.02,647.07 255.53,646.97 256.03,646.92 256.54,646.9 257.04,646.92 257.55,646.97" fill="none" stroke="#17597a" stroke-width="2"/><polyline points="255.55,670.63 256.06,670.68 256.56,670.7 257.07,670.68 257.57,670.63 258.08,670.53 258.58,670.4 259.09,670.24 259.59,670.03 260.1,669.79 260.6,669.51 261.11,669.19 261.62,668.83 262.12,668.42 262.63,667.97 263.13,667.47 263.64,666.92 264.14,666.31 264.65,665.64 265.15,664.87 265.66,664 266.16,662.97 266.67,661.66 267.17,658.8 267.68,655.94 268.19,654.63 268.69,653.6 269.2,652.73 269.7,651.96 270.21,651.29 270.71,650.68 271.22,650.13 271.72,649.63 272.23,649.18 272.73,648.77 273.24,648.41 273.75,648.09 274.25,647.81 274.76,647.57 275.26,647.36 275.77,647.2 276.27,647.07 276.78,646.97 277.28,646.92 277.79,646.9 278.29,646.92 278.8,646.97" fill="none" stroke="#c3ead3" stroke-width="2"/><polyline points="276.8,670.63 277.31,670.68 277.81,670.7 278.32,670.68 278.82,670.63 279.33,670.53 279.83,670.4 280.34,670.24 280.84,670.03 281.35,669.79 281.85,669.51 282.36,669.19 282.87,668.83 283.37,668.42 283.88,667.97 284.38,667.47 284.89,666.92 285.39,666.31 285.9,665.64 286.4,664.87 286.91,664 287.41,662.97 287.92,661.66 288.42,658.8 288.93,655.94 289.44,654.63 289.94,653.6 290.45,652.73 290.95,651.96 291.46,651.29 291.96,650.68 292.47,650.13 292.97,649.63 293.48,649.18 293.98,648.77 294.49,648.41 295,648.09 295.5,647.81 296.01,647.57 296.51,647.36 297.02,647.2 297.52,647.07 298.03,646.97 298.53,646.92 299.04,646.9 299.54,646.92 300.05,646.97" fill="none" stroke="#17597a" stroke-width="2"/><polyline points="298.05,670.63 298.56,670.68 299.06,670.7 299.57,670.68 300.07,670.63 300.58,670.53 301.08,670.4 301.59,670.24 302.09,670.03 302.6,669.79 303.1,669.51 303.61,669.19 304.12,668.83 304.62,668.42 305.13,667.97 305.63,667.47 306.14,666.92 306.64,666.31 307.15,665.64 307.65,664.87 308.16,664 308.66,662.97 309.17,661.66 309.67,658.8 310.18,655.94 310.69,654.63 311.19,653.6 311.7,652.73 312.2,651.96 312.71,651.29 313.21,650.68 313.72,650.13 314.22,649.63 314.73,649.18 315.23,648.77 315.74,648.41 316.25,648.09 316.75,647.81 317.26,647.57 317.76,647.36 318.27,647.2 318.77,647.07 319.28,646.97 319.78,646.92 320.29,646.9 320.79,646.92 321.3,646.97" fill="none" stroke="#c3ead3" stroke-width="2"/><polyline points="319.3,670.63 319.81,670.68 320.31,670.7 320.82,670.68 321.32,670.63 321.83,670.53 322.33,670.4 322.84,670.24 323.34,670.03 323.85,669.79 324.35,669.51 324.86,669.19 325.37,668.83 325.87,668.42 326.38,667.97 326.88,667.47 327.39,666.92 327.89,666.31 328.4,665.64 328.9,664.87 329.41,664 329.91,662.97 330.42,661.66 330.92,658.8 331.43,655.94 331.94,654.63 332.44,653.6 332.95,652.73 333.45,651.96 333.96,651.29 334.46,650.68 334.97,650.13 335.47,649.63 335.98,649.18 336.48,648.77 336.99,648.41 337.5,648.09 338,647.81 338.51,647.57 339.01,647.36 339.52,647.2 340.02,647.07 340.53,646.97 341.03,646.92 341.54,646.9 342.04,646.92 342.55,646.97" fill="none" stroke="#17597a" stroke-width="2"/><polyline points="340.55,670.63 341.06,670.68 341.56,670.7 342.07,670.68 342.57,670.63 343.08,670.53 343.58,670.4 344.09,670.24 344.59,670.03 345.1,669.79 345.6,669.51 346.11,669.19 346.62,668.83 347.12,668.42 347.63,667.97 348.13,667.47 348.64,666.92 349.14,666.31 349.65,665.64 350.15,664.87 350.66,664 351.16,662.97 351.67,661.66 352.17,658.8 352.68,655.94 353.19,654.63 353.69,653.6 354.2,652.73 354.7,651.96 355.21,651.29 355.71,650.68 356.22,650.13 356.72,649.63 357.23,649.18 357.73,648.77 358.24,648.41 358.75,648.09 359.25,647.81 359.76,647.57 360.26,647.36 360.77,647.2 361.27,647.07 361.78,646.97 362.28,646.92 362.79,646.9 363.29,646.92 363.8,646.97" fill="none" stroke="#c3ead3" stroke-width="2"/><polygon points="190.8,646.9 191.31,646.92 191.81,646.97 192.32,647.07 192.82,647.19 193.33,647.36 193.84,647.56 194.34,647.81 194.85,648.09 195.35,648.41 195.86,648.77 196.37,649.17 196.87,649.62 197.38,650.12 197.88,650.67 198.39,651.28 198.9,651.96 199.4,652.72 199.91,653.59 200.41,654.62 200.92,655.94 201.42,658.8 201.93,661.66 202.44,662.98 202.94,664.01 203.45,664.88 203.95,665.64 204.46,666.32 204.97,666.93 205.47,667.48 205.98,667.98 206.48,668.43 206.99,668.83 207.5,669.19 208,669.51 208.51,669.79 209.01,670.04 209.52,670.24 210.03,670.41 210.53,670.53 211.04,670.63 211.54,670.68 212.05,670.7 216.05,670.7 215.54,670.68 215.04,670.63 214.53,670.53 214.03,670.41 213.52,670.24 213.01,670.04 212.51,669.79 212,669.51 211.5,669.19 210.99,668.83 210.48,668.43 209.98,667.98 209.47,667.48 208.97,666.93 208.46,666.32 207.95,665.64 207.45,664.88 206.94,664.01 206.44,662.98 205.93,661.66 205.42,658.8 204.92,655.94 204.41,654.62 203.91,653.59 203.4,652.72 202.9,651.96 202.39,651.28 201.88,650.67 201.38,650.12 200.87,649.62 200.37,649.17 199.86,648.77 199.35,648.41 198.85,648.09 198.34,647.81 197.84,647.56 197.33,647.36 196.82,647.19 196.32,647.07 195.81,646.97 195.31,646.92 194.8,646.9" fill="#c3ead3" stroke="#c3ead3" stroke-width="1.2" stroke-linejoin="round"/><polygon points="212.05,646.9 212.56,646.92 213.06,646.97 213.57,647.07 214.07,647.19 214.58,647.36 215.09,647.56 215.59,647.81 216.1,648.09 216.6,648.41 217.11,648.77 217.62,649.17 218.12,649.62 218.63,650.12 219.13,650.67 219.64,651.28 220.15,651.96 220.65,652.72 221.16,653.59 221.66,654.62 222.17,655.94 222.67,658.8 223.18,661.66 223.69,662.98 224.19,664.01 224.7,664.88 225.2,665.64 225.71,666.32 226.22,666.93 226.72,667.48 227.23,667.98 227.73,668.43 228.24,668.83 228.75,669.19 229.25,669.51 229.76,669.79 230.26,670.04 230.77,670.24 231.28,670.41 231.78,670.53 232.29,670.63 232.79,670.68 233.3,670.7 237.3,670.7 236.79,670.68 236.29,670.63 235.78,670.53 235.28,670.41 234.77,670.24 234.26,670.04 233.76,669.79 233.25,669.51 232.75,669.19 232.24,668.83 231.73,668.43 231.23,667.98 230.72,667.48 230.22,666.93 229.71,666.32 229.2,665.64 228.7,664.88 228.19,664.01 227.69,662.98 227.18,661.66 226.67,658.8 226.17,655.94 225.66,654.62 225.16,653.59 224.65,652.72 224.15,651.96 223.64,651.28 223.13,650.67 222.63,650.12 222.12,649.62 221.62,649.17 221.11,648.77 220.6,648.41 220.1,648.09 219.59,647.81 219.09,647.56 218.58,647.36 218.07,647.19 217.57,647.07 217.06,646.97 216.56,646.92 216.05,646.9" fill="#17597a" stroke="#17597a" stroke-width="1.2" stroke-linejoin="round"/><polygon points="233.3,646.9 233.81,646.92 234.31,646.97 234.82,647.07 235.32,647.19 235.83,647.36 236.34,647.56 236.84,647.81 237.35,648.09 237.85,648.41 238.36,648.77 238.87,649.17 239.37,649.62 239.88,650.12 240.38,650.67 240.89,651.28 241.4,651.96 241.9,652.72 242.41,653.59 242.91,654.62 243.42,655.94 243.92,658.8 244.43,661.66 244.94,662.98 245.44,664.01 245.95,664.88 246.45,665.64 246.96,666.32 247.47,666.93 247.97,667.48 248.48,667.98 248.98,668.43 249.49,668.83 250,669.19 250.5,669.51 251.01,669.79 251.51,670.04 252.02,670.24 252.53,670.41 253.03,670.53 253.54,670.63 254.04,670.68 254.55,670.7 258.55,670.7 258.04,670.68 257.54,670.63 257.03,670.53 256.53,670.41 256.02,670.24 255.51,670.04 255.01,669.79 254.5,669.51 254,669.19 253.49,668.83 252.98,668.43 252.48,667.98 251.97,667.48 251.47,666.93 250.96,666.32 250.45,665.64 249.95,664.88 249.44,664.01 248.94,662.98 248.43,661.66 247.92,658.8 247.42,655.94 246.91,654.62 246.41,653.59 245.9,652.72 245.4,651.96 244.89,651.28 244.38,650.67 243.88,650.12 243.37,649.62 242.87,649.17 242.36,648.77 241.85,648.41 241.35,648.09 240.84,647.81 240.34,647.56 239.83,647.36 239.32,647.19 238.82,647.07 238.31,646.97 237.81,646.92 237.3,646.9" fill="#c3ead3" stroke="#c3ead3" stroke-width="1.2" stroke-linejoin="round"/><polygon points="254.55,646.9 255.06,646.92 255.56,646.97 256.07,647.07 256.57,647.19 257.08,647.36 257.59,647.56 258.09,647.81 258.6,648.09 259.1,648.41 259.61,648.77 260.12,649.17 260.62,649.62 261.13,650.12 261.63,650.67 262.14,651.28 262.65,651.96 263.15,652.72 263.66,653.59 264.16,654.62 264.67,655.94 265.17,658.8 265.68,661.66 266.19,662.98 266.69,664.01 267.2,664.88 267.7,665.64 268.21,666.32 268.72,666.93 269.22,667.48 269.73,667.98 270.23,668.43 270.74,668.83 271.25,669.19 271.75,669.51 272.26,669.79 272.76,670.04 273.27,670.24 273.78,670.41 274.28,670.53 274.79,670.63 275.29,670.68 275.8,670.7 279.8,670.7 279.29,670.68 278.79,670.63 278.28,670.53 277.78,670.41 277.27,670.24 276.76,670.04 276.26,669.79 275.75,669.51 275.25,669.19 274.74,668.83 274.23,668.43 273.73,667.98 273.22,667.48 272.72,666.93 272.21,666.32 271.7,665.64 271.2,664.88 270.69,664.01 270.19,662.98 269.68,661.66 269.17,658.8 268.67,655.94 268.16,654.62 267.66,653.59 267.15,652.72 266.65,651.96 266.14,651.28 265.63,650.67 265.13,650.12 264.62,649.62 264.12,649.17 263.61,648.77 263.1,648.41 262.6,648.09 262.09,647.81 261.59,647.56 261.08,647.36 260.57,647.19 260.07,647.07 259.56,646.97 259.06,646.92 258.55,646.9" fill="#17597a" stroke="#17597a" stroke-width="1.2" stroke-linejoin="round"/><polygon points="275.8,646.9 276.31,646.92 276.81,646.97 277.32,647.07 277.82,647.19 278.33,647.36 278.84,647.56 279.34,647.81 279.85,648.09 280.35,648.41 280.86,648.77 281.37,649.17 281.87,649.62 282.38,650.12 282.88,650.67 283.39,651.28 283.9,651.96 284.4,652.72 284.91,653.59 285.41,654.62 285.92,655.94 286.42,658.8 286.93,661.66 287.44,662.98 287.94,664.01 288.45,664.88 288.95,665.64 289.46,666.32 289.97,666.93 290.47,667.48 290.98,667.98 291.48,668.43 291.99,668.83 292.5,669.19 293,669.51 293.51,669.79 294.01,670.04 294.52,670.24 295.03,670.41 295.53,670.53 296.04,670.63 296.54,670.68 297.05,670.7 301.05,670.7 300.54,670.68 300.04,670.63 299.53,670.53 299.03,670.41 298.52,670.24 298.01,670.04 297.51,669.79 297,669.51 296.5,669.19 295.99,668.83 295.48,668.43 294.98,667.98 294.47,667.48 293.97,666.93 293.46,666.32 292.95,665.64 292.45,664.88 291.94,664.01 291.44,662.98 290.93,661.66 290.42,658.8 289.92,655.94 289.41,654.62 288.91,653.59 288.4,652.72 287.9,651.96 287.39,651.28 286.88,650.67 286.38,650.12 285.87,649.62 285.37,649.17 284.86,648.77 284.35,648.41 283.85,648.09 283.34,647.81 282.84,647.56 282.33,647.36 281.82,647.19 281.32,647.07 280.81,646.97 280.31,646.92 279.8,646.9" fill="#c3ead3" stroke="#c3ead3" stroke-width="1.2" stroke-linejoin="round"/><polygon points="297.05,646.9 297.56,646.92 298.06,646.97 298.57,647.07 299.07,647.19 299.58,647.36 300.09,647.56 300.59,647.81 301.1,648.09 301.6,648.41 302.11,648.77 302.62,649.17 303.12,649.62 303.63,650.12 304.13,650.67 304.64,651.28 305.15,651.96 305.65,652.72 306.16,653.59 306.66,654.62 307.17,655.94 307.67,658.8 308.18,661.66 308.69,662.98 309.19,664.01 309.7,664.88 310.2,665.64 310.71,666.32 311.22,666.93 311.72,667.48 312.23,667.98 312.73,668.43 313.24,668.83 313.75,669.19 314.25,669.51 314.76,669.79 315.26,670.04 315.77,670.24 316.28,670.41 316.78,670.53 317.29,670.63 317.79,670.68 318.3,670.7 322.3,670.7 321.79,670.68 321.29,670.63 320.78,670.53 320.28,670.41 319.77,670.24 319.26,670.04 318.76,669.79 318.25,669.51 317.75,669.19 317.24,668.83 316.73,668.43 316.23,667.98 315.72,667.48 315.22,666.93 314.71,666.32 314.2,665.64 313.7,664.88 313.19,664.01 312.69,662.98 312.18,661.66 311.67,658.8 311.17,655.94 310.66,654.62 310.16,653.59 309.65,652.72 309.15,651.96 308.64,651.28 308.13,650.67 307.63,650.12 307.12,649.62 306.62,649.17 306.11,648.77 305.6,648.41 305.1,648.09 304.59,647.81 304.09,647.56 303.58,647.36 303.07,647.19 302.57,647.07 302.06,646.97 301.56,646.92 301.05,646.9" fill="#17597a" stroke="#17597a" stroke-width="1.2" stroke-linejoin="round"/><polygon points="318.3,646.9 318.81,646.92 319.31,646.97 319.82,647.07 320.32,647.19 320.83,647.36 321.34,647.56 321.84,647.81 322.35,648.09 322.85,648.41 323.36,648.77 323.87,649.17 324.37,649.62 324.88,650.12 325.38,650.67 325.89,651.28 326.4,651.96 326.9,652.72 327.41,653.59 327.91,654.62 328.42,655.94 328.92,658.8 329.43,661.66 329.94,662.98 330.44,664.01 330.95,664.88 331.45,665.64 331.96,666.32 332.47,666.93 332.97,667.48 333.48,667.98 333.98,668.43 334.49,668.83 335,669.19 335.5,669.51 336.01,669.79 336.51,670.04 337.02,670.24 337.53,670.41 338.03,670.53 338.54,670.63 339.04,670.68 339.55,670.7 343.55,670.7 343.04,670.68 342.54,670.63 342.03,670.53 341.53,670.41 341.02,670.24 340.51,670.04 340.01,669.79 339.5,669.51 339,669.19 338.49,668.83 337.98,668.43 337.48,667.98 336.97,667.48 336.47,666.93 335.96,666.32 335.45,665.64 334.95,664.88 334.44,664.01 333.94,662.98 333.43,661.66 332.92,658.8 332.42,655.94 331.91,654.62 331.41,653.59 330.9,652.72 330.4,651.96 329.89,651.28 329.38,650.67 328.88,650.12 328.37,649.62 327.87,649.17 327.36,648.77 326.85,648.41 326.35,648.09 325.84,647.81 325.34,647.56 324.83,647.36 324.32,647.19 323.82,647.07 323.31,646.97 322.81,646.92 322.3,646.9" fill="#c3ead3" stroke="#c3ead3" stroke-width="1.2" stroke-linejoin="round"/><polygon points="339.55,646.9 340.06,646.92 340.56,646.97 341.07,647.07 341.57,647.19 342.08,647.36 342.59,647.56 343.09,647.81 343.6,648.09 344.1,648.41 344.61,648.77 345.12,649.17 345.62,649.62 346.13,650.12 346.63,650.67 347.14,651.28 347.65,651.96 348.15,652.72 348.66,653.59 349.16,654.62 349.67,655.94 350.17,658.8 350.68,661.66 351.19,662.98 351.69,664.01 352.2,664.88 352.7,665.64 353.21,666.32 353.72,666.93 354.22,667.48 354.73,667.98 355.23,668.43 355.74,668.83 356.25,669.19 356.75,669.51 357.26,669.79 357.76,670.04 358.27,670.24 358.78,670.41 359.28,670.53 359.79,670.63 360.29,670.68 360.8,670.7 364.8,670.7 364.29,670.68 363.79,670.63 363.28,670.53 362.78,670.41 362.27,670.24 361.76,670.04 361.26,669.79 360.75,669.51 360.25,669.19 359.74,668.83 359.23,668.43 358.73,667.98 358.22,667.48 357.72,666.93 357.21,666.32 356.7,665.64 356.2,664.88 355.69,664.01 355.19,662.98 354.68,661.66 354.17,658.8 353.67,655.94 353.16,654.62 352.66,653.59 352.15,652.72 351.65,651.96 351.14,651.28 350.63,650.67 350.13,650.12 349.62,649.62 349.12,649.17 348.61,648.77 348.1,648.41 347.6,648.09 347.09,647.81 346.59,647.56 346.08,647.36 345.57,647.19 345.07,647.07 344.56,646.97 344.06,646.92 343.55,646.9" fill="#17597a" stroke="#17597a" stroke-width="1.2" stroke-linejoin="round"/><path d="M231.5,646.5 V658.8" stroke="#c3ead3" stroke-width="1.8"/><path d="M231.5,658.8 V671.1" stroke="#17597a" stroke-width="1.8"/><path d="M354.6,646.5 V658.8" stroke="#c3ead3" stroke-width="1.8"/><path d="M354.6,658.8 V671.1" stroke="#17597a" stroke-width="1.8"/></g>
<g clip-path="url(#dc390)"><path d="M391.5,647.89 V658.8 M394.6,646.93 V658.8 M397.7,647.35 V658.8 M400.8,649.2 V658.8 M403.9,652.88 V658.8 M428.7,653.4 V658.8 M431.8,649.47 V658.8 M434.9,647.46 V658.8 M438,646.91 V658.8 M441.1,647.73 V658.8 M444.2,650.04 V658.8 M447.3,654.59 V658.8 M472.1,651.97 V658.8 M475.2,648.72 V658.8 M478.3,647.16 V658.8 M481.4,647 V658.8 M484.5,648.24 V658.8 M487.6,651.05 V658.8 M490.7,657.47 V658.8 M512.4,656.56 V658.8 M515.5,650.81 V658.8 M407,658.8 V663.33 M410.1,658.8 V667.71 M413.2,658.8 V669.94 M416.3,658.8 V670.7 M419.4,658.8 V670.07 M422.5,658.8 V668 M425.6,658.8 V663.93 M450.4,658.8 V664.96 M453.5,658.8 V668.52 M456.6,658.8 V670.3 M459.7,658.8 V670.66 M462.8,658.8 V669.63 M465.9,658.8 V667.08 M469,658.8 V661.87 M493.8,658.8 V666.24 M496.9,658.8 V669.2 M500,658.8 V670.55 M503.1,658.8 V670.5 M506.2,658.8 V669.06 M509.3,658.8 V665.98" stroke="#c3ead3" stroke-width="2" fill="none"/><path d="M407,654.27 V658.8 M410.1,649.89 V658.8 M413.2,647.66 V658.8 M416.3,646.9 V658.8 M419.4,647.53 V658.8 M422.5,649.6 V658.8 M425.6,653.67 V658.8 M450.4,652.64 V658.8 M453.5,649.08 V658.8 M456.6,647.3 V658.8 M459.7,646.94 V658.8 M462.8,647.97 V658.8 M465.9,650.52 V658.8 M469,655.73 V658.8 M493.8,651.36 V658.8 M496.9,648.4 V658.8 M500,647.05 V658.8 M503.1,647.1 V658.8 M506.2,648.54 V658.8 M509.3,651.62 V658.8 M391.5,658.8 V669.71 M394.6,658.8 V670.67 M397.7,658.8 V670.25 M400.8,658.8 V668.4 M403.9,658.8 V664.72 M428.7,658.8 V664.2 M431.8,658.8 V668.13 M434.9,658.8 V670.14 M438,658.8 V670.69 M441.1,658.8 V669.87 M444.2,658.8 V667.56 M447.3,658.8 V663.01 M472.1,658.8 V665.63 M475.2,658.8 V668.88 M478.3,658.8 V670.44 M481.4,658.8 V670.6 M484.5,658.8 V669.36 M487.6,658.8 V666.55 M490.7,658.8 V660.13 M512.4,658.8 V661.04 M515.5,658.8 V666.79" stroke="#17597a" stroke-width="2" fill="none"/><polyline points="351.7,670.63 352.21,670.68 352.71,670.7 353.22,670.68 353.72,670.63 354.23,670.53 354.73,670.4 355.24,670.24 355.74,670.03 356.25,669.79 356.75,669.51 357.26,669.19 357.77,668.83 358.27,668.42 358.78,667.97 359.28,667.47 359.79,666.92 360.29,666.31 360.8,665.64 361.3,664.87 361.81,664 362.31,662.97 362.82,661.66 363.32,658.8 363.83,655.94 364.34,654.63 364.84,653.6 365.35,652.73 365.85,651.96 366.36,651.29 366.86,650.68 367.37,650.13 367.87,649.63 368.38,649.18 368.88,648.77 369.39,648.41 369.9,648.09 370.4,647.81 370.91,647.57 371.41,647.36 371.92,647.2 372.42,647.07 372.93,646.97 373.43,646.92 373.94,646.9 374.44,646.92 374.95,646.97" fill="none" stroke="#17597a" stroke-width="2"/><polyline points="372.95,670.63 373.46,670.68 373.96,670.7 374.47,670.68 374.97,670.63 375.48,670.53 375.98,670.4 376.49,670.24 376.99,670.03 377.5,669.79 378,669.51 378.51,669.19 379.02,668.83 379.52,668.42 380.03,667.97 380.53,667.47 381.04,666.92 381.54,666.31 382.05,665.64 382.55,664.87 383.06,664 383.56,662.97 384.07,661.66 384.57,658.8 385.08,655.94 385.59,654.63 386.09,653.6 386.6,652.73 387.1,651.96 387.61,651.29 388.11,650.68 388.62,650.13 389.12,649.63 389.63,649.18 390.13,648.77 390.64,648.41 391.15,648.09 391.65,647.81 392.16,647.57 392.66,647.36 393.17,647.2 393.67,647.07 394.18,646.97 394.68,646.92 395.19,646.9 395.69,646.92 396.2,646.97" fill="none" stroke="#c3ead3" stroke-width="2"/><polyline points="394.2,670.63 394.71,670.68 395.21,670.7 395.72,670.68 396.22,670.63 396.73,670.53 397.23,670.4 397.74,670.24 398.24,670.03 398.75,669.79 399.25,669.51 399.76,669.19 400.27,668.83 400.77,668.42 401.28,667.97 401.78,667.47 402.29,666.92 402.79,666.31 403.3,665.64 403.8,664.87 404.31,664 404.81,662.97 405.32,661.66 405.82,658.8 406.33,655.94 406.84,654.63 407.34,653.6 407.85,652.73 408.35,651.96 408.86,651.29 409.36,650.68 409.87,650.13 410.37,649.63 410.88,649.18 411.38,648.77 411.89,648.41 412.4,648.09 412.9,647.81 413.41,647.57 413.91,647.36 414.42,647.2 414.92,647.07 415.43,646.97 415.93,646.92 416.44,646.9 416.94,646.92 417.45,646.97" fill="none" stroke="#17597a" stroke-width="2"/><polyline points="415.45,670.63 415.96,670.68 416.46,670.7 416.97,670.68 417.47,670.63 417.98,670.53 418.48,670.4 418.99,670.24 419.49,670.03 420,669.79 420.5,669.51 421.01,669.19 421.52,668.83 422.02,668.42 422.53,667.97 423.03,667.47 423.54,666.92 424.04,666.31 424.55,665.64 425.05,664.87 425.56,664 426.06,662.97 426.57,661.66 427.07,658.8 427.58,655.94 428.09,654.63 428.59,653.6 429.1,652.73 429.6,651.96 430.11,651.29 430.61,650.68 431.12,650.13 431.62,649.63 432.13,649.18 432.63,648.77 433.14,648.41 433.65,648.09 434.15,647.81 434.66,647.57 435.16,647.36 435.67,647.2 436.17,647.07 436.68,646.97 437.18,646.92 437.69,646.9 438.19,646.92 438.7,646.97" fill="none" stroke="#c3ead3" stroke-width="2"/><polyline points="436.7,670.63 437.21,670.68 437.71,670.7 438.22,670.68 438.72,670.63 439.23,670.53 439.73,670.4 440.24,670.24 440.74,670.03 441.25,669.79 441.75,669.51 442.26,669.19 442.77,668.83 443.27,668.42 443.78,667.97 444.28,667.47 444.79,666.92 445.29,666.31 445.8,665.64 446.3,664.87 446.81,664 447.31,662.97 447.82,661.66 448.32,658.8 448.83,655.94 449.34,654.63 449.84,653.6 450.35,652.73 450.85,651.96 451.36,651.29 451.86,650.68 452.37,650.13 452.87,649.63 453.38,649.18 453.88,648.77 454.39,648.41 454.9,648.09 455.4,647.81 455.91,647.57 456.41,647.36 456.92,647.2 457.42,647.07 457.93,646.97 458.43,646.92 458.94,646.9 459.44,646.92 459.95,646.97" fill="none" stroke="#17597a" stroke-width="2"/><polyline points="457.95,670.63 458.46,670.68 458.96,670.7 459.47,670.68 459.97,670.63 460.48,670.53 460.98,670.4 461.49,670.24 461.99,670.03 462.5,669.79 463,669.51 463.51,669.19 464.02,668.83 464.52,668.42 465.03,667.97 465.53,667.47 466.04,666.92 466.54,666.31 467.05,665.64 467.55,664.87 468.06,664 468.56,662.97 469.07,661.66 469.57,658.8 470.08,655.94 470.59,654.63 471.09,653.6 471.6,652.73 472.1,651.96 472.61,651.29 473.11,650.68 473.62,650.13 474.12,649.63 474.63,649.18 475.13,648.77 475.64,648.41 476.15,648.09 476.65,647.81 477.16,647.57 477.66,647.36 478.17,647.2 478.67,647.07 479.18,646.97 479.68,646.92 480.19,646.9 480.69,646.92 481.2,646.97" fill="none" stroke="#c3ead3" stroke-width="2"/><polyline points="479.2,670.63 479.71,670.68 480.21,670.7 480.72,670.68 481.22,670.63 481.73,670.53 482.23,670.4 482.74,670.24 483.24,670.03 483.75,669.79 484.25,669.51 484.76,669.19 485.27,668.83 485.77,668.42 486.28,667.97 486.78,667.47 487.29,666.92 487.79,666.31 488.3,665.64 488.8,664.87 489.31,664 489.81,662.97 490.32,661.66 490.82,658.8 491.33,655.94 491.84,654.63 492.34,653.6 492.85,652.73 493.35,651.96 493.86,651.29 494.36,650.68 494.87,650.13 495.37,649.63 495.88,649.18 496.38,648.77 496.89,648.41 497.4,648.09 497.9,647.81 498.41,647.57 498.91,647.36 499.42,647.2 499.92,647.07 500.43,646.97 500.93,646.92 501.44,646.9 501.94,646.92 502.45,646.97" fill="none" stroke="#17597a" stroke-width="2"/><polyline points="500.45,670.63 500.96,670.68 501.46,670.7 501.97,670.68 502.47,670.63 502.98,670.53 503.48,670.4 503.99,670.24 504.49,670.03 505,669.79 505.5,669.51 506.01,669.19 506.52,668.83 507.02,668.42 507.53,667.97 508.03,667.47 508.54,666.92 509.04,666.31 509.55,665.64 510.05,664.87 510.56,664 511.06,662.97 511.57,661.66 512.08,658.8 512.58,655.94 513.09,654.63 513.59,653.6 514.1,652.73 514.6,651.96 515.11,651.29 515.61,650.68 516.12,650.13 516.62,649.63 517.13,649.18 517.63,648.77 518.14,648.41 518.65,648.09 519.15,647.81 519.66,647.57 520.16,647.36 520.67,647.2 521.17,647.07 521.68,646.97 522.18,646.92 522.69,646.9 523.19,646.92 523.7,646.97" fill="none" stroke="#c3ead3" stroke-width="2"/><polygon points="350.7,646.9 351.21,646.92 351.71,646.97 352.22,647.07 352.72,647.19 353.23,647.36 353.74,647.56 354.24,647.81 354.75,648.09 355.25,648.41 355.76,648.77 356.27,649.17 356.77,649.62 357.28,650.12 357.78,650.67 358.29,651.28 358.8,651.96 359.3,652.72 359.81,653.59 360.31,654.62 360.82,655.94 361.32,658.8 361.83,661.66 362.34,662.98 362.84,664.01 363.35,664.88 363.85,665.64 364.36,666.32 364.87,666.93 365.37,667.48 365.88,667.98 366.38,668.43 366.89,668.83 367.4,669.19 367.9,669.51 368.41,669.79 368.91,670.04 369.42,670.24 369.93,670.41 370.43,670.53 370.94,670.63 371.44,670.68 371.95,670.7 375.95,670.7 375.44,670.68 374.94,670.63 374.43,670.53 373.93,670.41 373.42,670.24 372.91,670.04 372.41,669.79 371.9,669.51 371.4,669.19 370.89,668.83 370.38,668.43 369.88,667.98 369.37,667.48 368.87,666.93 368.36,666.32 367.85,665.64 367.35,664.88 366.84,664.01 366.34,662.98 365.83,661.66 365.32,658.8 364.82,655.94 364.31,654.62 363.81,653.59 363.3,652.72 362.8,651.96 362.29,651.28 361.78,650.67 361.28,650.12 360.77,649.62 360.27,649.17 359.76,648.77 359.25,648.41 358.75,648.09 358.24,647.81 357.74,647.56 357.23,647.36 356.72,647.19 356.22,647.07 355.71,646.97 355.21,646.92 354.7,646.9" fill="#c3ead3" stroke="#c3ead3" stroke-width="1.2" stroke-linejoin="round"/><polygon points="371.95,646.9 372.46,646.92 372.96,646.97 373.47,647.07 373.97,647.19 374.48,647.36 374.99,647.56 375.49,647.81 376,648.09 376.5,648.41 377.01,648.77 377.52,649.17 378.02,649.62 378.53,650.12 379.03,650.67 379.54,651.28 380.05,651.96 380.55,652.72 381.06,653.59 381.56,654.62 382.07,655.94 382.57,658.8 383.08,661.66 383.59,662.98 384.09,664.01 384.6,664.88 385.1,665.64 385.61,666.32 386.12,666.93 386.62,667.48 387.13,667.98 387.63,668.43 388.14,668.83 388.65,669.19 389.15,669.51 389.66,669.79 390.16,670.04 390.67,670.24 391.18,670.41 391.68,670.53 392.19,670.63 392.69,670.68 393.2,670.7 397.2,670.7 396.69,670.68 396.19,670.63 395.68,670.53 395.18,670.41 394.67,670.24 394.16,670.04 393.66,669.79 393.15,669.51 392.65,669.19 392.14,668.83 391.63,668.43 391.13,667.98 390.62,667.48 390.12,666.93 389.61,666.32 389.1,665.64 388.6,664.88 388.09,664.01 387.59,662.98 387.08,661.66 386.57,658.8 386.07,655.94 385.56,654.62 385.06,653.59 384.55,652.72 384.05,651.96 383.54,651.28 383.03,650.67 382.53,650.12 382.02,649.62 381.52,649.17 381.01,648.77 380.5,648.41 380,648.09 379.49,647.81 378.99,647.56 378.48,647.36 377.97,647.19 377.47,647.07 376.96,646.97 376.46,646.92 375.95,646.9" fill="#17597a" stroke="#17597a" stroke-width="1.2" stroke-linejoin="round"/><polygon points="393.2,646.9 393.71,646.92 394.21,646.97 394.72,647.07 395.22,647.19 395.73,647.36 396.24,647.56 396.74,647.81 397.25,648.09 397.75,648.41 398.26,648.77 398.77,649.17 399.27,649.62 399.78,650.12 400.28,650.67 400.79,651.28 401.3,651.96 401.8,652.72 402.31,653.59 402.81,654.62 403.32,655.94 403.82,658.8 404.33,661.66 404.84,662.98 405.34,664.01 405.85,664.88 406.35,665.64 406.86,666.32 407.37,666.93 407.87,667.48 408.38,667.98 408.88,668.43 409.39,668.83 409.9,669.19 410.4,669.51 410.91,669.79 411.41,670.04 411.92,670.24 412.43,670.41 412.93,670.53 413.44,670.63 413.94,670.68 414.45,670.7 418.45,670.7 417.94,670.68 417.44,670.63 416.93,670.53 416.43,670.41 415.92,670.24 415.41,670.04 414.91,669.79 414.4,669.51 413.9,669.19 413.39,668.83 412.88,668.43 412.38,667.98 411.87,667.48 411.37,666.93 410.86,666.32 410.35,665.64 409.85,664.88 409.34,664.01 408.84,662.98 408.33,661.66 407.82,658.8 407.32,655.94 406.81,654.62 406.31,653.59 405.8,652.72 405.3,651.96 404.79,651.28 404.28,650.67 403.78,650.12 403.27,649.62 402.77,649.17 402.26,648.77 401.75,648.41 401.25,648.09 400.74,647.81 400.24,647.56 399.73,647.36 399.22,647.19 398.72,647.07 398.21,646.97 397.71,646.92 397.2,646.9" fill="#c3ead3" stroke="#c3ead3" stroke-width="1.2" stroke-linejoin="round"/><polygon points="414.45,646.9 414.96,646.92 415.46,646.97 415.97,647.07 416.47,647.19 416.98,647.36 417.49,647.56 417.99,647.81 418.5,648.09 419,648.41 419.51,648.77 420.02,649.17 420.52,649.62 421.03,650.12 421.53,650.67 422.04,651.28 422.55,651.96 423.05,652.72 423.56,653.59 424.06,654.62 424.57,655.94 425.07,658.8 425.58,661.66 426.09,662.98 426.59,664.01 427.1,664.88 427.6,665.64 428.11,666.32 428.62,666.93 429.12,667.48 429.63,667.98 430.13,668.43 430.64,668.83 431.15,669.19 431.65,669.51 432.16,669.79 432.66,670.04 433.17,670.24 433.68,670.41 434.18,670.53 434.69,670.63 435.19,670.68 435.7,670.7 439.7,670.7 439.19,670.68 438.69,670.63 438.18,670.53 437.68,670.41 437.17,670.24 436.66,670.04 436.16,669.79 435.65,669.51 435.15,669.19 434.64,668.83 434.13,668.43 433.63,667.98 433.12,667.48 432.62,666.93 432.11,666.32 431.6,665.64 431.1,664.88 430.59,664.01 430.09,662.98 429.58,661.66 429.07,658.8 428.57,655.94 428.06,654.62 427.56,653.59 427.05,652.72 426.55,651.96 426.04,651.28 425.53,650.67 425.03,650.12 424.52,649.62 424.02,649.17 423.51,648.77 423,648.41 422.5,648.09 421.99,647.81 421.49,647.56 420.98,647.36 420.47,647.19 419.97,647.07 419.46,646.97 418.96,646.92 418.45,646.9" fill="#17597a" stroke="#17597a" stroke-width="1.2" stroke-linejoin="round"/><polygon points="435.7,646.9 436.21,646.92 436.71,646.97 437.22,647.07 437.72,647.19 438.23,647.36 438.74,647.56 439.24,647.81 439.75,648.09 440.25,648.41 440.76,648.77 441.27,649.17 441.77,649.62 442.28,650.12 442.78,650.67 443.29,651.28 443.8,651.96 444.3,652.72 444.81,653.59 445.31,654.62 445.82,655.94 446.32,658.8 446.83,661.66 447.34,662.98 447.84,664.01 448.35,664.88 448.85,665.64 449.36,666.32 449.87,666.93 450.37,667.48 450.88,667.98 451.38,668.43 451.89,668.83 452.4,669.19 452.9,669.51 453.41,669.79 453.91,670.04 454.42,670.24 454.93,670.41 455.43,670.53 455.94,670.63 456.44,670.68 456.95,670.7 460.95,670.7 460.44,670.68 459.94,670.63 459.43,670.53 458.93,670.41 458.42,670.24 457.91,670.04 457.41,669.79 456.9,669.51 456.4,669.19 455.89,668.83 455.38,668.43 454.88,667.98 454.37,667.48 453.87,666.93 453.36,666.32 452.85,665.64 452.35,664.88 451.84,664.01 451.34,662.98 450.83,661.66 450.32,658.8 449.82,655.94 449.31,654.62 448.81,653.59 448.3,652.72 447.8,651.96 447.29,651.28 446.78,650.67 446.28,650.12 445.77,649.62 445.27,649.17 444.76,648.77 444.25,648.41 443.75,648.09 443.24,647.81 442.74,647.56 442.23,647.36 441.72,647.19 441.22,647.07 440.71,646.97 440.21,646.92 439.7,646.9" fill="#c3ead3" stroke="#c3ead3" stroke-width="1.2" stroke-linejoin="round"/><polygon points="456.95,646.9 457.46,646.92 457.96,646.97 458.47,647.07 458.97,647.19 459.48,647.36 459.99,647.56 460.49,647.81 461,648.09 461.5,648.41 462.01,648.77 462.52,649.17 463.02,649.62 463.53,650.12 464.03,650.67 464.54,651.28 465.05,651.96 465.55,652.72 466.06,653.59 466.56,654.62 467.07,655.94 467.57,658.8 468.08,661.66 468.59,662.98 469.09,664.01 469.6,664.88 470.1,665.64 470.61,666.32 471.12,666.93 471.62,667.48 472.13,667.98 472.63,668.43 473.14,668.83 473.65,669.19 474.15,669.51 474.66,669.79 475.16,670.04 475.67,670.24 476.18,670.41 476.68,670.53 477.19,670.63 477.69,670.68 478.2,670.7 482.2,670.7 481.69,670.68 481.19,670.63 480.68,670.53 480.18,670.41 479.67,670.24 479.16,670.04 478.66,669.79 478.15,669.51 477.65,669.19 477.14,668.83 476.63,668.43 476.13,667.98 475.62,667.48 475.12,666.93 474.61,666.32 474.1,665.64 473.6,664.88 473.09,664.01 472.59,662.98 472.08,661.66 471.57,658.8 471.07,655.94 470.56,654.62 470.06,653.59 469.55,652.72 469.05,651.96 468.54,651.28 468.03,650.67 467.53,650.12 467.02,649.62 466.52,649.17 466.01,648.77 465.5,648.41 465,648.09 464.49,647.81 463.99,647.56 463.48,647.36 462.97,647.19 462.47,647.07 461.96,646.97 461.46,646.92 460.95,646.9" fill="#17597a" stroke="#17597a" stroke-width="1.2" stroke-linejoin="round"/><polygon points="478.2,646.9 478.71,646.92 479.21,646.97 479.72,647.07 480.22,647.19 480.73,647.36 481.24,647.56 481.74,647.81 482.25,648.09 482.75,648.41 483.26,648.77 483.77,649.17 484.27,649.62 484.78,650.12 485.28,650.67 485.79,651.28 486.3,651.96 486.8,652.72 487.31,653.59 487.81,654.62 488.32,655.94 488.82,658.8 489.33,661.66 489.84,662.98 490.34,664.01 490.85,664.88 491.35,665.64 491.86,666.32 492.37,666.93 492.87,667.48 493.38,667.98 493.88,668.43 494.39,668.83 494.9,669.19 495.4,669.51 495.91,669.79 496.41,670.04 496.92,670.24 497.43,670.41 497.93,670.53 498.44,670.63 498.94,670.68 499.45,670.7 503.45,670.7 502.94,670.68 502.44,670.63 501.93,670.53 501.43,670.41 500.92,670.24 500.41,670.04 499.91,669.79 499.4,669.51 498.9,669.19 498.39,668.83 497.88,668.43 497.38,667.98 496.87,667.48 496.37,666.93 495.86,666.32 495.35,665.64 494.85,664.88 494.34,664.01 493.84,662.98 493.33,661.66 492.82,658.8 492.32,655.94 491.81,654.62 491.31,653.59 490.8,652.72 490.3,651.96 489.79,651.28 489.28,650.67 488.78,650.12 488.27,649.62 487.77,649.17 487.26,648.77 486.75,648.41 486.25,648.09 485.74,647.81 485.24,647.56 484.73,647.36 484.22,647.19 483.72,647.07 483.21,646.97 482.71,646.92 482.2,646.9" fill="#c3ead3" stroke="#c3ead3" stroke-width="1.2" stroke-linejoin="round"/><polygon points="499.45,646.9 499.96,646.92 500.46,646.97 500.97,647.07 501.47,647.19 501.98,647.36 502.49,647.56 502.99,647.81 503.5,648.09 504,648.41 504.51,648.77 505.02,649.17 505.52,649.62 506.03,650.12 506.53,650.67 507.04,651.28 507.55,651.96 508.05,652.72 508.56,653.59 509.06,654.62 509.57,655.94 510.08,658.8 510.58,661.66 511.09,662.98 511.59,664.01 512.1,664.88 512.6,665.64 513.11,666.32 513.62,666.93 514.12,667.48 514.63,667.98 515.13,668.43 515.64,668.83 516.15,669.19 516.65,669.51 517.16,669.79 517.66,670.04 518.17,670.24 518.68,670.41 519.18,670.53 519.69,670.63 520.19,670.68 520.7,670.7 524.7,670.7 524.19,670.68 523.69,670.63 523.18,670.53 522.68,670.41 522.17,670.24 521.66,670.04 521.16,669.79 520.65,669.51 520.15,669.19 519.64,668.83 519.13,668.43 518.63,667.98 518.12,667.48 517.62,666.93 517.11,666.32 516.6,665.64 516.1,664.88 515.59,664.01 515.09,662.98 514.58,661.66 514.08,658.8 513.57,655.94 513.06,654.62 512.56,653.59 512.05,652.72 511.55,651.96 511.04,651.28 510.53,650.67 510.03,650.12 509.52,649.62 509.02,649.17 508.51,648.77 508,648.41 507.5,648.09 506.99,647.81 506.49,647.56 505.98,647.36 505.47,647.19 504.97,647.07 504.46,646.97 503.96,646.92 503.45,646.9" fill="#17597a" stroke="#17597a" stroke-width="1.2" stroke-linejoin="round"/><path d="M391.4,646.5 V658.8" stroke="#c3ead3" stroke-width="1.8"/><path d="M391.4,658.8 V671.1" stroke="#17597a" stroke-width="1.8"/><path d="M515.9,646.5 V658.8" stroke="#c3ead3" stroke-width="1.8"/><path d="M515.9,658.8 V671.1" stroke="#17597a" stroke-width="1.8"/></g>
<g clip-path="url(#dc548)"><path d="M549.8,710.48 V721.3 M552.9,709.53 V721.3 M556,709.95 V721.3 M559.1,711.78 V721.3 M562.2,715.43 V721.3 M587,715.94 V721.3 M590.1,712.04 V721.3 M593.2,710.06 V721.3 M596.3,709.51 V721.3 M599.4,710.33 V721.3 M602.5,712.62 V721.3 M605.6,717.13 V721.3 M630.4,714.52 V721.3 M633.5,711.31 V721.3 M636.6,709.76 V721.3 M639.7,709.6 V721.3 M642.8,710.83 V721.3 M645.9,713.61 V721.3 M649,719.99 V721.3 M670.7,719.08 V721.3 M565.3,721.3 V725.79 M568.4,721.3 V730.13 M571.5,721.3 V732.35 M574.6,721.3 V733.1 M577.7,721.3 V732.48 M580.8,721.3 V730.42 M583.9,721.3 V726.38 M608.7,721.3 V727.41 M611.8,721.3 V730.94 M614.9,721.3 V732.71 M618,721.3 V733.06 M621.1,721.3 V732.04 M624.2,721.3 V729.51 M627.3,721.3 V724.34 M652.1,721.3 V728.68 M655.2,721.3 V731.61 M658.3,721.3 V732.95 M661.4,721.3 V732.91 M664.5,721.3 V731.47 M667.6,721.3 V728.42" stroke="#c3ead3" stroke-width="2" fill="none"/><path d="M565.3,716.81 V721.3 M568.4,712.47 V721.3 M571.5,710.25 V721.3 M574.6,709.5 V721.3 M577.7,710.12 V721.3 M580.8,712.18 V721.3 M583.9,716.22 V721.3 M608.7,715.19 V721.3 M611.8,711.66 V721.3 M614.9,709.89 V721.3 M618,709.54 V721.3 M621.1,710.56 V721.3 M624.2,713.09 V721.3 M627.3,718.26 V721.3 M652.1,713.92 V721.3 M655.2,710.99 V721.3 M658.3,709.65 V721.3 M661.4,709.69 V721.3 M664.5,711.13 V721.3 M667.6,714.18 V721.3 M549.8,721.3 V732.12 M552.9,721.3 V733.07 M556,721.3 V732.65 M559.1,721.3 V730.82 M562.2,721.3 V727.17 M587,721.3 V726.66 M590.1,721.3 V730.56 M593.2,721.3 V732.54 M596.3,721.3 V733.09 M599.4,721.3 V732.27 M602.5,721.3 V729.98 M605.6,721.3 V725.47 M630.4,721.3 V728.08 M633.5,721.3 V731.29 M636.6,721.3 V732.84 M639.7,721.3 V733 M642.8,721.3 V731.77 M645.9,721.3 V728.99 M649,721.3 V722.61 M670.7,721.3 V723.52" stroke="#17597a" stroke-width="2" fill="none"/><polyline points="510,733.03 510.51,733.08 511.01,733.1 511.52,733.08 512.02,733.03 512.53,732.93 513.03,732.81 513.54,732.64 514.04,732.44 514.55,732.2 515.05,731.92 515.56,731.6 516.07,731.24 516.57,730.84 517.08,730.4 517.58,729.9 518.09,729.36 518.59,728.75 519.1,728.08 519.6,727.32 520.11,726.46 520.61,725.44 521.12,724.13 521.62,721.3 522.13,718.47 522.64,717.16 523.14,716.14 523.65,715.28 524.15,714.52 524.66,713.85 525.16,713.24 525.67,712.7 526.17,712.2 526.68,711.76 527.18,711.36 527.69,711 528.2,710.68 528.7,710.4 529.21,710.16 529.71,709.96 530.22,709.79 530.72,709.67 531.23,709.57 531.73,709.52 532.24,709.5 532.74,709.52 533.25,709.57" fill="none" stroke="#17597a" stroke-width="2"/><polyline points="531.25,733.03 531.76,733.08 532.26,733.1 532.77,733.08 533.27,733.03 533.78,732.93 534.28,732.81 534.79,732.64 535.29,732.44 535.8,732.2 536.3,731.92 536.81,731.6 537.32,731.24 537.82,730.84 538.33,730.4 538.83,729.9 539.34,729.36 539.84,728.75 540.35,728.08 540.85,727.32 541.36,726.46 541.86,725.44 542.37,724.13 542.88,721.3 543.38,718.47 543.89,717.16 544.39,716.14 544.9,715.28 545.4,714.52 545.91,713.85 546.41,713.24 546.92,712.7 547.42,712.2 547.93,711.76 548.43,711.36 548.94,711 549.45,710.68 549.95,710.4 550.46,710.16 550.96,709.96 551.47,709.79 551.97,709.67 552.48,709.57 552.98,709.52 553.49,709.5 553.99,709.52 554.5,709.57" fill="none" stroke="#c3ead3" stroke-width="2"/><polyline points="552.5,733.03 553.01,733.08 553.51,733.1 554.02,733.08 554.52,733.03 555.03,732.93 555.53,732.81 556.04,732.64 556.54,732.44 557.05,732.2 557.55,731.92 558.06,731.6 558.57,731.24 559.07,730.84 559.58,730.4 560.08,729.9 560.59,729.36 561.09,728.75 561.6,728.08 562.1,727.32 562.61,726.46 563.11,725.44 563.62,724.13 564.12,721.3 564.63,718.47 565.14,717.16 565.64,716.14 566.15,715.28 566.65,714.52 567.16,713.85 567.66,713.24 568.17,712.7 568.67,712.2 569.18,711.76 569.68,711.36 570.19,711 570.7,710.68 571.2,710.4 571.71,710.16 572.21,709.96 572.72,709.79 573.22,709.67 573.73,709.57 574.23,709.52 574.74,709.5 575.24,709.52 575.75,709.57" fill="none" stroke="#17597a" stroke-width="2"/><polyline points="573.75,733.03 574.26,733.08 574.76,733.1 575.27,733.08 575.77,733.03 576.28,732.93 576.78,732.81 577.29,732.64 577.79,732.44 578.3,732.2 578.8,731.92 579.31,731.6 579.82,731.24 580.32,730.84 580.83,730.4 581.33,729.9 581.84,729.36 582.34,728.75 582.85,728.08 583.35,727.32 583.86,726.46 584.36,725.44 584.87,724.13 585.38,721.3 585.88,718.47 586.39,717.16 586.89,716.14 587.4,715.28 587.9,714.52 588.41,713.85 588.91,713.24 589.42,712.7 589.92,712.2 590.43,711.76 590.93,711.36 591.44,711 591.95,710.68 592.45,710.4 592.96,710.16 593.46,709.96 593.97,709.79 594.47,709.67 594.98,709.57 595.48,709.52 595.99,709.5 596.49,709.52 597,709.57" fill="none" stroke="#c3ead3" stroke-width="2"/><polyline points="595,733.03 595.51,733.08 596.01,733.1 596.52,733.08 597.02,733.03 597.53,732.93 598.03,732.81 598.54,732.64 599.04,732.44 599.55,732.2 600.05,731.92 600.56,731.6 601.07,731.24 601.57,730.84 602.08,730.4 602.58,729.9 603.09,729.36 603.59,728.75 604.1,728.08 604.6,727.32 605.11,726.46 605.61,725.44 606.12,724.13 606.62,721.3 607.13,718.47 607.64,717.16 608.14,716.14 608.65,715.28 609.15,714.52 609.66,713.85 610.16,713.24 610.67,712.7 611.17,712.2 611.68,711.76 612.18,711.36 612.69,711 613.2,710.68 613.7,710.4 614.21,710.16 614.71,709.96 615.22,709.79 615.72,709.67 616.23,709.57 616.73,709.52 617.24,709.5 617.74,709.52 618.25,709.57" fill="none" stroke="#17597a" stroke-width="2"/><polyline points="616.25,733.03 616.76,733.08 617.26,733.1 617.77,733.08 618.27,733.03 618.78,732.93 619.28,732.81 619.79,732.64 620.29,732.44 620.8,732.2 621.3,731.92 621.81,731.6 622.32,731.24 622.82,730.84 623.33,730.4 623.83,729.9 624.34,729.36 624.84,728.75 625.35,728.08 625.85,727.32 626.36,726.46 626.86,725.44 627.37,724.13 627.88,721.3 628.38,718.47 628.89,717.16 629.39,716.14 629.9,715.28 630.4,714.52 630.91,713.85 631.41,713.24 631.92,712.7 632.42,712.2 632.93,711.76 633.43,711.36 633.94,711 634.45,710.68 634.95,710.4 635.46,710.16 635.96,709.96 636.47,709.79 636.97,709.67 637.48,709.57 637.98,709.52 638.49,709.5 638.99,709.52 639.5,709.57" fill="none" stroke="#c3ead3" stroke-width="2"/><polyline points="637.5,733.03 638.01,733.08 638.51,733.1 639.02,733.08 639.52,733.03 640.03,732.93 640.53,732.81 641.04,732.64 641.54,732.44 642.05,732.2 642.55,731.92 643.06,731.6 643.57,731.24 644.07,730.84 644.58,730.4 645.08,729.9 645.59,729.36 646.09,728.75 646.6,728.08 647.1,727.32 647.61,726.46 648.11,725.44 648.62,724.13 649.12,721.3 649.63,718.47 650.14,717.16 650.64,716.14 651.15,715.28 651.65,714.52 652.16,713.85 652.66,713.24 653.17,712.7 653.67,712.2 654.18,711.76 654.68,711.36 655.19,711 655.7,710.68 656.2,710.4 656.71,710.16 657.21,709.96 657.72,709.79 658.22,709.67 658.73,709.57 659.23,709.52 659.74,709.5 660.24,709.52 660.75,709.57" fill="none" stroke="#17597a" stroke-width="2"/><polyline points="658.75,733.03 659.26,733.08 659.76,733.1 660.27,733.08 660.77,733.03 661.28,732.93 661.78,732.81 662.29,732.64 662.79,732.44 663.3,732.2 663.8,731.92 664.31,731.6 664.82,731.24 665.32,730.84 665.83,730.4 666.33,729.9 666.84,729.36 667.34,728.75 667.85,728.08 668.35,727.32 668.86,726.46 669.36,725.44 669.87,724.13 670.38,721.3 670.88,718.47 671.39,717.16 671.89,716.14 672.4,715.28 672.9,714.52 673.41,713.85 673.91,713.24 674.42,712.7 674.92,712.2 675.43,711.76 675.93,711.36 676.44,711 676.95,710.68 677.45,710.4 677.96,710.16 678.46,709.96 678.97,709.79 679.47,709.67 679.98,709.57 680.48,709.52 680.99,709.5 681.49,709.52 682,709.57" fill="none" stroke="#c3ead3" stroke-width="2"/><polygon points="509,709.5 509.51,709.52 510.01,709.57 510.52,709.66 511.02,709.79 511.53,709.96 512.04,710.16 512.54,710.4 513.05,710.68 513.55,710.99 514.06,711.35 514.57,711.75 515.07,712.2 515.58,712.69 516.08,713.24 516.59,713.85 517.1,714.52 517.6,715.27 518.11,716.14 518.61,717.16 519.12,718.47 519.62,721.3 520.13,724.13 520.64,725.44 521.14,726.46 521.65,727.33 522.15,728.08 522.66,728.75 523.17,729.36 523.67,729.91 524.18,730.4 524.68,730.85 525.19,731.25 525.7,731.61 526.2,731.92 526.71,732.2 527.21,732.44 527.72,732.64 528.23,732.81 528.73,732.94 529.24,733.03 529.74,733.08 530.25,733.1 534.25,733.1 533.74,733.08 533.24,733.03 532.73,732.94 532.23,732.81 531.72,732.64 531.21,732.44 530.71,732.2 530.2,731.92 529.7,731.61 529.19,731.25 528.68,730.85 528.18,730.4 527.67,729.91 527.17,729.36 526.66,728.75 526.15,728.08 525.65,727.33 525.14,726.46 524.64,725.44 524.13,724.13 523.62,721.3 523.12,718.47 522.61,717.16 522.11,716.14 521.6,715.27 521.1,714.52 520.59,713.85 520.08,713.24 519.58,712.69 519.07,712.2 518.57,711.75 518.06,711.35 517.55,710.99 517.05,710.68 516.54,710.4 516.04,710.16 515.53,709.96 515.02,709.79 514.52,709.66 514.01,709.57 513.51,709.52 513,709.5" fill="#c3ead3" stroke="#c3ead3" stroke-width="1.2" stroke-linejoin="round"/><polygon points="530.25,709.5 530.76,709.52 531.26,709.57 531.77,709.66 532.27,709.79 532.78,709.96 533.29,710.16 533.79,710.4 534.3,710.68 534.8,710.99 535.31,711.35 535.82,711.75 536.32,712.2 536.83,712.69 537.33,713.24 537.84,713.85 538.35,714.52 538.85,715.27 539.36,716.14 539.86,717.16 540.37,718.47 540.88,721.3 541.38,724.13 541.89,725.44 542.39,726.46 542.9,727.33 543.4,728.08 543.91,728.75 544.42,729.36 544.92,729.91 545.43,730.4 545.93,730.85 546.44,731.25 546.95,731.61 547.45,731.92 547.96,732.2 548.46,732.44 548.97,732.64 549.48,732.81 549.98,732.94 550.49,733.03 550.99,733.08 551.5,733.1 555.5,733.1 554.99,733.08 554.49,733.03 553.98,732.94 553.48,732.81 552.97,732.64 552.46,732.44 551.96,732.2 551.45,731.92 550.95,731.61 550.44,731.25 549.93,730.85 549.43,730.4 548.92,729.91 548.42,729.36 547.91,728.75 547.4,728.08 546.9,727.33 546.39,726.46 545.89,725.44 545.38,724.13 544.88,721.3 544.37,718.47 543.86,717.16 543.36,716.14 542.85,715.27 542.35,714.52 541.84,713.85 541.33,713.24 540.83,712.69 540.32,712.2 539.82,711.75 539.31,711.35 538.8,710.99 538.3,710.68 537.79,710.4 537.29,710.16 536.78,709.96 536.27,709.79 535.77,709.66 535.26,709.57 534.76,709.52 534.25,709.5" fill="#17597a" stroke="#17597a" stroke-width="1.2" stroke-linejoin="round"/><polygon points="551.5,709.5 552.01,709.52 552.51,709.57 553.02,709.66 553.52,709.79 554.03,709.96 554.54,710.16 555.04,710.4 555.55,710.68 556.05,710.99 556.56,711.35 557.07,711.75 557.57,712.2 558.08,712.69 558.58,713.24 559.09,713.85 559.6,714.52 560.1,715.27 560.61,716.14 561.11,717.16 561.62,718.47 562.12,721.3 562.63,724.13 563.14,725.44 563.64,726.46 564.15,727.33 564.65,728.08 565.16,728.75 565.67,729.36 566.17,729.91 566.68,730.4 567.18,730.85 567.69,731.25 568.2,731.61 568.7,731.92 569.21,732.2 569.71,732.44 570.22,732.64 570.73,732.81 571.23,732.94 571.74,733.03 572.24,733.08 572.75,733.1 576.75,733.1 576.24,733.08 575.74,733.03 575.23,732.94 574.73,732.81 574.22,732.64 573.71,732.44 573.21,732.2 572.7,731.92 572.2,731.61 571.69,731.25 571.18,730.85 570.68,730.4 570.17,729.91 569.67,729.36 569.16,728.75 568.65,728.08 568.15,727.33 567.64,726.46 567.14,725.44 566.63,724.13 566.12,721.3 565.62,718.47 565.11,717.16 564.61,716.14 564.1,715.27 563.6,714.52 563.09,713.85 562.58,713.24 562.08,712.69 561.57,712.2 561.07,711.75 560.56,711.35 560.05,710.99 559.55,710.68 559.04,710.4 558.54,710.16 558.03,709.96 557.52,709.79 557.02,709.66 556.51,709.57 556.01,709.52 555.5,709.5" fill="#c3ead3" stroke="#c3ead3" stroke-width="1.2" stroke-linejoin="round"/><polygon points="572.75,709.5 573.26,709.52 573.76,709.57 574.27,709.66 574.77,709.79 575.28,709.96 575.79,710.16 576.29,710.4 576.8,710.68 577.3,710.99 577.81,711.35 578.32,711.75 578.82,712.2 579.33,712.69 579.83,713.24 580.34,713.85 580.85,714.52 581.35,715.27 581.86,716.14 582.36,717.16 582.87,718.47 583.38,721.3 583.88,724.13 584.39,725.44 584.89,726.46 585.4,727.33 585.9,728.08 586.41,728.75 586.92,729.36 587.42,729.91 587.93,730.4 588.43,730.85 588.94,731.25 589.45,731.61 589.95,731.92 590.46,732.2 590.96,732.44 591.47,732.64 591.98,732.81 592.48,732.94 592.99,733.03 593.49,733.08 594,733.1 598,733.1 597.49,733.08 596.99,733.03 596.48,732.94 595.98,732.81 595.47,732.64 594.96,732.44 594.46,732.2 593.95,731.92 593.45,731.61 592.94,731.25 592.43,730.85 591.93,730.4 591.42,729.91 590.92,729.36 590.41,728.75 589.9,728.08 589.4,727.33 588.89,726.46 588.39,725.44 587.88,724.13 587.38,721.3 586.87,718.47 586.36,717.16 585.86,716.14 585.35,715.27 584.85,714.52 584.34,713.85 583.83,713.24 583.33,712.69 582.82,712.2 582.32,711.75 581.81,711.35 581.3,710.99 580.8,710.68 580.29,710.4 579.79,710.16 579.28,709.96 578.77,709.79 578.27,709.66 577.76,709.57 577.26,709.52 576.75,709.5" fill="#17597a" stroke="#17597a" stroke-width="1.2" stroke-linejoin="round"/><polygon points="594,709.5 594.51,709.52 595.01,709.57 595.52,709.66 596.02,709.79 596.53,709.96 597.04,710.16 597.54,710.4 598.05,710.68 598.55,710.99 599.06,711.35 599.57,711.75 600.07,712.2 600.58,712.69 601.08,713.24 601.59,713.85 602.1,714.52 602.6,715.27 603.11,716.14 603.61,717.16 604.12,718.47 604.62,721.3 605.13,724.13 605.64,725.44 606.14,726.46 606.65,727.33 607.15,728.08 607.66,728.75 608.17,729.36 608.67,729.91 609.18,730.4 609.68,730.85 610.19,731.25 610.7,731.61 611.2,731.92 611.71,732.2 612.21,732.44 612.72,732.64 613.23,732.81 613.73,732.94 614.24,733.03 614.74,733.08 615.25,733.1 619.25,733.1 618.74,733.08 618.24,733.03 617.73,732.94 617.23,732.81 616.72,732.64 616.21,732.44 615.71,732.2 615.2,731.92 614.7,731.61 614.19,731.25 613.68,730.85 613.18,730.4 612.67,729.91 612.17,729.36 611.66,728.75 611.15,728.08 610.65,727.33 610.14,726.46 609.64,725.44 609.13,724.13 608.62,721.3 608.12,718.47 607.61,717.16 607.11,716.14 606.6,715.27 606.1,714.52 605.59,713.85 605.08,713.24 604.58,712.69 604.07,712.2 603.57,711.75 603.06,711.35 602.55,710.99 602.05,710.68 601.54,710.4 601.04,710.16 600.53,709.96 600.02,709.79 599.52,709.66 599.01,709.57 598.51,709.52 598,709.5" fill="#c3ead3" stroke="#c3ead3" stroke-width="1.2" stroke-linejoin="round"/><polygon points="615.25,709.5 615.76,709.52 616.26,709.57 616.77,709.66 617.27,709.79 617.78,709.96 618.29,710.16 618.79,710.4 619.3,710.68 619.8,710.99 620.31,711.35 620.82,711.75 621.32,712.2 621.83,712.69 622.33,713.24 622.84,713.85 623.35,714.52 623.85,715.27 624.36,716.14 624.86,717.16 625.37,718.47 625.88,721.3 626.38,724.13 626.89,725.44 627.39,726.46 627.9,727.33 628.4,728.08 628.91,728.75 629.42,729.36 629.92,729.91 630.43,730.4 630.93,730.85 631.44,731.25 631.95,731.61 632.45,731.92 632.96,732.2 633.46,732.44 633.97,732.64 634.48,732.81 634.98,732.94 635.49,733.03 635.99,733.08 636.5,733.1 640.5,733.1 639.99,733.08 639.49,733.03 638.98,732.94 638.48,732.81 637.97,732.64 637.46,732.44 636.96,732.2 636.45,731.92 635.95,731.61 635.44,731.25 634.93,730.85 634.43,730.4 633.92,729.91 633.42,729.36 632.91,728.75 632.4,728.08 631.9,727.33 631.39,726.46 630.89,725.44 630.38,724.13 629.88,721.3 629.37,718.47 628.86,717.16 628.36,716.14 627.85,715.27 627.35,714.52 626.84,713.85 626.33,713.24 625.83,712.69 625.32,712.2 624.82,711.75 624.31,711.35 623.8,710.99 623.3,710.68 622.79,710.4 622.29,710.16 621.78,709.96 621.27,709.79 620.77,709.66 620.26,709.57 619.76,709.52 619.25,709.5" fill="#17597a" stroke="#17597a" stroke-width="1.2" stroke-linejoin="round"/><polygon points="636.5,709.5 637.01,709.52 637.51,709.57 638.02,709.66 638.52,709.79 639.03,709.96 639.54,710.16 640.04,710.4 640.55,710.68 641.05,710.99 641.56,711.35 642.07,711.75 642.57,712.2 643.08,712.69 643.58,713.24 644.09,713.85 644.6,714.52 645.1,715.27 645.61,716.14 646.11,717.16 646.62,718.47 647.12,721.3 647.63,724.13 648.14,725.44 648.64,726.46 649.15,727.33 649.65,728.08 650.16,728.75 650.67,729.36 651.17,729.91 651.68,730.4 652.18,730.85 652.69,731.25 653.2,731.61 653.7,731.92 654.21,732.2 654.71,732.44 655.22,732.64 655.73,732.81 656.23,732.94 656.74,733.03 657.24,733.08 657.75,733.1 661.75,733.1 661.24,733.08 660.74,733.03 660.23,732.94 659.73,732.81 659.22,732.64 658.71,732.44 658.21,732.2 657.7,731.92 657.2,731.61 656.69,731.25 656.18,730.85 655.68,730.4 655.17,729.91 654.67,729.36 654.16,728.75 653.65,728.08 653.15,727.33 652.64,726.46 652.14,725.44 651.63,724.13 651.12,721.3 650.62,718.47 650.11,717.16 649.61,716.14 649.1,715.27 648.6,714.52 648.09,713.85 647.58,713.24 647.08,712.69 646.57,712.2 646.07,711.75 645.56,711.35 645.05,710.99 644.55,710.68 644.04,710.4 643.54,710.16 643.03,709.96 642.52,709.79 642.02,709.66 641.51,709.57 641.01,709.52 640.5,709.5" fill="#c3ead3" stroke="#c3ead3" stroke-width="1.2" stroke-linejoin="round"/><polygon points="657.75,709.5 658.26,709.52 658.76,709.57 659.27,709.66 659.77,709.79 660.28,709.96 660.79,710.16 661.29,710.4 661.8,710.68 662.3,710.99 662.81,711.35 663.32,711.75 663.82,712.2 664.33,712.69 664.83,713.24 665.34,713.85 665.85,714.52 666.35,715.27 666.86,716.14 667.36,717.16 667.87,718.47 668.38,721.3 668.88,724.13 669.39,725.44 669.89,726.46 670.4,727.33 670.9,728.08 671.41,728.75 671.92,729.36 672.42,729.91 672.93,730.4 673.43,730.85 673.94,731.25 674.45,731.61 674.95,731.92 675.46,732.2 675.96,732.44 676.47,732.64 676.98,732.81 677.48,732.94 677.99,733.03 678.49,733.08 679,733.1 683,733.1 682.49,733.08 681.99,733.03 681.48,732.94 680.98,732.81 680.47,732.64 679.96,732.44 679.46,732.2 678.95,731.92 678.45,731.61 677.94,731.25 677.43,730.85 676.93,730.4 676.42,729.91 675.92,729.36 675.41,728.75 674.9,728.08 674.4,727.33 673.89,726.46 673.39,725.44 672.88,724.13 672.38,721.3 671.87,718.47 671.36,717.16 670.86,716.14 670.35,715.27 669.85,714.52 669.34,713.85 668.83,713.24 668.33,712.69 667.82,712.2 667.32,711.75 666.81,711.35 666.3,710.99 665.8,710.68 665.29,710.4 664.79,710.16 664.28,709.96 663.77,709.79 663.27,709.66 662.76,709.57 662.26,709.52 661.75,709.5" fill="#17597a" stroke="#17597a" stroke-width="1.2" stroke-linejoin="round"/><path d="M549.7,709.1 V721.3" stroke="#c3ead3" stroke-width="1.8"/><path d="M549.7,721.3 V733.5" stroke="#17597a" stroke-width="1.8"/><path d="M672.9,709.1 V721.3" stroke="#c3ead3" stroke-width="1.8"/><path d="M672.9,721.3 V733.5" stroke="#17597a" stroke-width="1.8"/></g>
<g clip-path="url(#dc632)"><path d="M633.5,600.47 V611.2 M636.6,599.53 V611.2 M639.7,599.94 V611.2 M642.8,601.76 V611.2 M645.9,605.38 V611.2 M670.7,605.89 V611.2 M673.8,602.02 V611.2 M676.9,600.05 V611.2 M680,599.51 V611.2 M683.1,600.32 V611.2 M686.2,602.59 V611.2 M689.3,607.06 V611.2 M714.1,604.48 V611.2 M717.2,601.29 V611.2 M720.3,599.75 V611.2 M723.4,599.6 V611.2 M726.5,600.82 V611.2 M729.6,603.58 V611.2 M732.7,609.9 V611.2 M754.4,609 V611.2 M649,611.2 V615.66 M652.1,611.2 V619.96 M655.2,611.2 V622.15 M658.3,611.2 V622.9 M661.4,611.2 V622.28 M664.5,611.2 V620.24 M667.6,611.2 V616.24 M692.4,611.2 V617.26 M695.5,611.2 V620.76 M698.6,611.2 V622.51 M701.7,611.2 V622.86 M704.8,611.2 V621.85 M707.9,611.2 V619.34 M711,611.2 V614.21 M735.8,611.2 V618.52 M738.9,611.2 V621.42 M742,611.2 V622.75 M745.1,611.2 V622.71 M748.2,611.2 V621.29 M751.3,611.2 V618.26" stroke="#c3ead3" stroke-width="2" fill="none"/><path d="M649,606.74 V611.2 M652.1,602.44 V611.2 M655.2,600.25 V611.2 M658.3,599.5 V611.2 M661.4,600.12 V611.2 M664.5,602.16 V611.2 M667.6,606.16 V611.2 M692.4,605.14 V611.2 M695.5,601.64 V611.2 M698.6,599.89 V611.2 M701.7,599.54 V611.2 M704.8,600.55 V611.2 M707.9,603.06 V611.2 M711,608.19 V611.2 M735.8,603.88 V611.2 M738.9,600.98 V611.2 M742,599.65 V611.2 M745.1,599.69 V611.2 M748.2,601.11 V611.2 M751.3,604.14 V611.2 M633.5,611.2 V621.93 M636.6,611.2 V622.87 M639.7,611.2 V622.46 M642.8,611.2 V620.64 M645.9,611.2 V617.02 M670.7,611.2 V616.51 M673.8,611.2 V620.38 M676.9,611.2 V622.35 M680,611.2 V622.89 M683.1,611.2 V622.08 M686.2,611.2 V619.81 M689.3,611.2 V615.34 M714.1,611.2 V617.92 M717.2,611.2 V621.11 M720.3,611.2 V622.65 M723.4,611.2 V622.8 M726.5,611.2 V621.58 M729.6,611.2 V618.82 M732.7,611.2 V612.5 M754.4,611.2 V613.4" stroke="#17597a" stroke-width="2" fill="none"/><polyline points="593.7,622.83 594.21,622.88 594.71,622.9 595.22,622.88 595.72,622.83 596.23,622.74 596.73,622.61 597.24,622.45 597.74,622.24 598.25,622.01 598.75,621.73 599.26,621.41 599.77,621.06 600.27,620.66 600.78,620.22 601.28,619.73 601.79,619.19 602.29,618.59 602.8,617.92 603.3,617.17 603.81,616.32 604.31,615.3 604.82,614.01 605.33,611.2 605.83,608.39 606.34,607.1 606.84,606.08 607.35,605.23 607.85,604.48 608.36,603.81 608.86,603.21 609.37,602.67 609.87,602.18 610.38,601.74 610.88,601.34 611.39,600.99 611.9,600.67 612.4,600.39 612.91,600.16 613.41,599.95 613.92,599.79 614.42,599.66 614.93,599.57 615.43,599.52 615.94,599.5 616.44,599.52 616.95,599.57" fill="none" stroke="#17597a" stroke-width="2"/><polyline points="614.95,622.83 615.46,622.88 615.96,622.9 616.47,622.88 616.97,622.83 617.48,622.74 617.98,622.61 618.49,622.45 618.99,622.24 619.5,622.01 620,621.73 620.51,621.41 621.02,621.06 621.52,620.66 622.03,620.22 622.53,619.73 623.04,619.19 623.54,618.59 624.05,617.92 624.55,617.17 625.06,616.32 625.56,615.3 626.07,614.01 626.58,611.2 627.08,608.39 627.59,607.1 628.09,606.08 628.6,605.23 629.1,604.48 629.61,603.81 630.11,603.21 630.62,602.67 631.12,602.18 631.63,601.74 632.13,601.34 632.64,600.99 633.15,600.67 633.65,600.39 634.16,600.16 634.66,599.95 635.17,599.79 635.67,599.66 636.18,599.57 636.68,599.52 637.19,599.5 637.69,599.52 638.2,599.57" fill="none" stroke="#c3ead3" stroke-width="2"/><polyline points="636.2,622.83 636.71,622.88 637.21,622.9 637.72,622.88 638.22,622.83 638.73,622.74 639.23,622.61 639.74,622.45 640.24,622.24 640.75,622.01 641.25,621.73 641.76,621.41 642.27,621.06 642.77,620.66 643.28,620.22 643.78,619.73 644.29,619.19 644.79,618.59 645.3,617.92 645.8,617.17 646.31,616.32 646.81,615.3 647.32,614.01 647.83,611.2 648.33,608.39 648.84,607.1 649.34,606.08 649.85,605.23 650.35,604.48 650.86,603.81 651.36,603.21 651.87,602.67 652.37,602.18 652.88,601.74 653.38,601.34 653.89,600.99 654.4,600.67 654.9,600.39 655.41,600.16 655.91,599.95 656.42,599.79 656.92,599.66 657.43,599.57 657.93,599.52 658.44,599.5 658.94,599.52 659.45,599.57" fill="none" stroke="#17597a" stroke-width="2"/><polyline points="657.45,622.83 657.96,622.88 658.46,622.9 658.97,622.88 659.47,622.83 659.98,622.74 660.48,622.61 660.99,622.45 661.49,622.24 662,622.01 662.5,621.73 663.01,621.41 663.52,621.06 664.02,620.66 664.53,620.22 665.03,619.73 665.54,619.19 666.04,618.59 666.55,617.92 667.05,617.17 667.56,616.32 668.06,615.3 668.57,614.01 669.08,611.2 669.58,608.39 670.09,607.1 670.59,606.08 671.1,605.23 671.6,604.48 672.11,603.81 672.61,603.21 673.12,602.67 673.62,602.18 674.13,601.74 674.63,601.34 675.14,600.99 675.65,600.67 676.15,600.39 676.66,600.16 677.16,599.95 677.67,599.79 678.17,599.66 678.68,599.57 679.18,599.52 679.69,599.5 680.19,599.52 680.7,599.57" fill="none" stroke="#c3ead3" stroke-width="2"/><polyline points="678.7,622.83 679.21,622.88 679.71,622.9 680.22,622.88 680.72,622.83 681.23,622.74 681.73,622.61 682.24,622.45 682.74,622.24 683.25,622.01 683.75,621.73 684.26,621.41 684.77,621.06 685.27,620.66 685.78,620.22 686.28,619.73 686.79,619.19 687.29,618.59 687.8,617.92 688.3,617.17 688.81,616.32 689.31,615.3 689.82,614.01 690.33,611.2 690.83,608.39 691.34,607.1 691.84,606.08 692.35,605.23 692.85,604.48 693.36,603.81 693.86,603.21 694.37,602.67 694.87,602.18 695.38,601.74 695.88,601.34 696.39,600.99 696.9,600.67 697.4,600.39 697.91,600.16 698.41,599.95 698.92,599.79 699.42,599.66 699.93,599.57 700.43,599.52 700.94,599.5 701.44,599.52 701.95,599.57" fill="none" stroke="#17597a" stroke-width="2"/><polyline points="699.95,622.83 700.46,622.88 700.96,622.9 701.47,622.88 701.97,622.83 702.48,622.74 702.98,622.61 703.49,622.45 703.99,622.24 704.5,622.01 705,621.73 705.51,621.41 706.02,621.06 706.52,620.66 707.03,620.22 707.53,619.73 708.04,619.19 708.54,618.59 709.05,617.92 709.55,617.17 710.06,616.32 710.56,615.3 711.07,614.01 711.58,611.2 712.08,608.39 712.59,607.1 713.09,606.08 713.6,605.23 714.1,604.48 714.61,603.81 715.11,603.21 715.62,602.67 716.12,602.18 716.63,601.74 717.13,601.34 717.64,600.99 718.15,600.67 718.65,600.39 719.16,600.16 719.66,599.95 720.17,599.79 720.67,599.66 721.18,599.57 721.68,599.52 722.19,599.5 722.69,599.52 723.2,599.57" fill="none" stroke="#c3ead3" stroke-width="2"/><polyline points="721.2,622.83 721.71,622.88 722.21,622.9 722.72,622.88 723.22,622.83 723.73,622.74 724.23,622.61 724.74,622.45 725.24,622.24 725.75,622.01 726.25,621.73 726.76,621.41 727.27,621.06 727.77,620.66 728.28,620.22 728.78,619.73 729.29,619.19 729.79,618.59 730.3,617.92 730.8,617.17 731.31,616.32 731.81,615.3 732.32,614.01 732.83,611.2 733.33,608.39 733.84,607.1 734.34,606.08 734.85,605.23 735.35,604.48 735.86,603.81 736.36,603.21 736.87,602.67 737.37,602.18 737.88,601.74 738.38,601.34 738.89,600.99 739.4,600.67 739.9,600.39 740.41,600.16 740.91,599.95 741.42,599.79 741.92,599.66 742.43,599.57 742.93,599.52 743.44,599.5 743.94,599.52 744.45,599.57" fill="none" stroke="#17597a" stroke-width="2"/><polyline points="742.45,622.83 742.96,622.88 743.46,622.9 743.97,622.88 744.47,622.83 744.98,622.74 745.48,622.61 745.99,622.45 746.49,622.24 747,622.01 747.5,621.73 748.01,621.41 748.52,621.06 749.02,620.66 749.53,620.22 750.03,619.73 750.54,619.19 751.04,618.59 751.55,617.92 752.05,617.17 752.56,616.32 753.06,615.3 753.57,614.01 754.08,611.2 754.58,608.39 755.09,607.1 755.59,606.08 756.1,605.23 756.6,604.48 757.11,603.81 757.61,603.21 758.12,602.67 758.62,602.18 759.13,601.74 759.63,601.34 760.14,600.99 760.65,600.67 761.15,600.39 761.66,600.16 762.16,599.95 762.67,599.79 763.17,599.66 763.68,599.57 764.18,599.52 764.69,599.5 765.19,599.52 765.7,599.57" fill="none" stroke="#c3ead3" stroke-width="2"/><polygon points="592.7,599.5 593.21,599.52 593.71,599.57 594.22,599.66 594.72,599.79 595.23,599.95 595.74,600.15 596.24,600.39 596.75,600.67 597.25,600.98 597.76,601.34 598.27,601.73 598.77,602.18 599.28,602.67 599.78,603.21 600.29,603.81 600.8,604.48 601.3,605.22 601.81,606.08 602.31,607.09 602.82,608.39 603.33,611.2 603.83,614.01 604.34,615.31 604.84,616.32 605.35,617.18 605.85,617.92 606.36,618.59 606.87,619.19 607.37,619.73 607.88,620.22 608.38,620.67 608.89,621.06 609.4,621.42 609.9,621.73 610.41,622.01 610.91,622.25 611.42,622.45 611.93,622.61 612.43,622.74 612.94,622.83 613.44,622.88 613.95,622.9 617.95,622.9 617.44,622.88 616.94,622.83 616.43,622.74 615.93,622.61 615.42,622.45 614.91,622.25 614.41,622.01 613.9,621.73 613.4,621.42 612.89,621.06 612.38,620.67 611.88,620.22 611.37,619.73 610.87,619.19 610.36,618.59 609.85,617.92 609.35,617.18 608.84,616.32 608.34,615.31 607.83,614.01 607.33,611.2 606.82,608.39 606.31,607.09 605.81,606.08 605.3,605.22 604.8,604.48 604.29,603.81 603.78,603.21 603.28,602.67 602.77,602.18 602.27,601.73 601.76,601.34 601.25,600.98 600.75,600.67 600.24,600.39 599.74,600.15 599.23,599.95 598.72,599.79 598.22,599.66 597.71,599.57 597.21,599.52 596.7,599.5" fill="#c3ead3" stroke="#c3ead3" stroke-width="1.2" stroke-linejoin="round"/><polygon points="613.95,599.5 614.46,599.52 614.96,599.57 615.47,599.66 615.97,599.79 616.48,599.95 616.99,600.15 617.49,600.39 618,600.67 618.5,600.98 619.01,601.34 619.52,601.73 620.02,602.18 620.53,602.67 621.03,603.21 621.54,603.81 622.05,604.48 622.55,605.22 623.06,606.08 623.56,607.09 624.07,608.39 624.58,611.2 625.08,614.01 625.59,615.31 626.09,616.32 626.6,617.18 627.1,617.92 627.61,618.59 628.12,619.19 628.62,619.73 629.13,620.22 629.63,620.67 630.14,621.06 630.65,621.42 631.15,621.73 631.66,622.01 632.16,622.25 632.67,622.45 633.18,622.61 633.68,622.74 634.19,622.83 634.69,622.88 635.2,622.9 639.2,622.9 638.69,622.88 638.19,622.83 637.68,622.74 637.18,622.61 636.67,622.45 636.16,622.25 635.66,622.01 635.15,621.73 634.65,621.42 634.14,621.06 633.63,620.67 633.13,620.22 632.62,619.73 632.12,619.19 631.61,618.59 631.1,617.92 630.6,617.18 630.09,616.32 629.59,615.31 629.08,614.01 628.58,611.2 628.07,608.39 627.56,607.09 627.06,606.08 626.55,605.22 626.05,604.48 625.54,603.81 625.03,603.21 624.53,602.67 624.02,602.18 623.52,601.73 623.01,601.34 622.5,600.98 622,600.67 621.49,600.39 620.99,600.15 620.48,599.95 619.97,599.79 619.47,599.66 618.96,599.57 618.46,599.52 617.95,599.5" fill="#17597a" stroke="#17597a" stroke-width="1.2" stroke-linejoin="round"/><polygon points="635.2,599.5 635.71,599.52 636.21,599.57 636.72,599.66 637.22,599.79 637.73,599.95 638.24,600.15 638.74,600.39 639.25,600.67 639.75,600.98 640.26,601.34 640.77,601.73 641.27,602.18 641.78,602.67 642.28,603.21 642.79,603.81 643.3,604.48 643.8,605.22 644.31,606.08 644.81,607.09 645.32,608.39 645.83,611.2 646.33,614.01 646.84,615.31 647.34,616.32 647.85,617.18 648.35,617.92 648.86,618.59 649.37,619.19 649.87,619.73 650.38,620.22 650.88,620.67 651.39,621.06 651.9,621.42 652.4,621.73 652.91,622.01 653.41,622.25 653.92,622.45 654.43,622.61 654.93,622.74 655.44,622.83 655.94,622.88 656.45,622.9 660.45,622.9 659.94,622.88 659.44,622.83 658.93,622.74 658.43,622.61 657.92,622.45 657.41,622.25 656.91,622.01 656.4,621.73 655.9,621.42 655.39,621.06 654.88,620.67 654.38,620.22 653.87,619.73 653.37,619.19 652.86,618.59 652.35,617.92 651.85,617.18 651.34,616.32 650.84,615.31 650.33,614.01 649.83,611.2 649.32,608.39 648.81,607.09 648.31,606.08 647.8,605.22 647.3,604.48 646.79,603.81 646.28,603.21 645.78,602.67 645.27,602.18 644.77,601.73 644.26,601.34 643.75,600.98 643.25,600.67 642.74,600.39 642.24,600.15 641.73,599.95 641.22,599.79 640.72,599.66 640.21,599.57 639.71,599.52 639.2,599.5" fill="#c3ead3" stroke="#c3ead3" stroke-width="1.2" stroke-linejoin="round"/><polygon points="656.45,599.5 656.96,599.52 657.46,599.57 657.97,599.66 658.47,599.79 658.98,599.95 659.49,600.15 659.99,600.39 660.5,600.67 661,600.98 661.51,601.34 662.02,601.73 662.52,602.18 663.03,602.67 663.53,603.21 664.04,603.81 664.55,604.48 665.05,605.22 665.56,606.08 666.06,607.09 666.57,608.39 667.08,611.2 667.58,614.01 668.09,615.31 668.59,616.32 669.1,617.18 669.6,617.92 670.11,618.59 670.62,619.19 671.12,619.73 671.63,620.22 672.13,620.67 672.64,621.06 673.15,621.42 673.65,621.73 674.16,622.01 674.66,622.25 675.17,622.45 675.68,622.61 676.18,622.74 676.69,622.83 677.19,622.88 677.7,622.9 681.7,622.9 681.19,622.88 680.69,622.83 680.18,622.74 679.68,622.61 679.17,622.45 678.66,622.25 678.16,622.01 677.65,621.73 677.15,621.42 676.64,621.06 676.13,620.67 675.63,620.22 675.12,619.73 674.62,619.19 674.11,618.59 673.6,617.92 673.1,617.18 672.59,616.32 672.09,615.31 671.58,614.01 671.08,611.2 670.57,608.39 670.06,607.09 669.56,606.08 669.05,605.22 668.55,604.48 668.04,603.81 667.53,603.21 667.03,602.67 666.52,602.18 666.02,601.73 665.51,601.34 665,600.98 664.5,600.67 663.99,600.39 663.49,600.15 662.98,599.95 662.47,599.79 661.97,599.66 661.46,599.57 660.96,599.52 660.45,599.5" fill="#17597a" stroke="#17597a" stroke-width="1.2" stroke-linejoin="round"/><polygon points="677.7,599.5 678.21,599.52 678.71,599.57 679.22,599.66 679.72,599.79 680.23,599.95 680.74,600.15 681.24,600.39 681.75,600.67 682.25,600.98 682.76,601.34 683.27,601.73 683.77,602.18 684.28,602.67 684.78,603.21 685.29,603.81 685.8,604.48 686.3,605.22 686.81,606.08 687.31,607.09 687.82,608.39 688.33,611.2 688.83,614.01 689.34,615.31 689.84,616.32 690.35,617.18 690.85,617.92 691.36,618.59 691.87,619.19 692.37,619.73 692.88,620.22 693.38,620.67 693.89,621.06 694.4,621.42 694.9,621.73 695.41,622.01 695.91,622.25 696.42,622.45 696.93,622.61 697.43,622.74 697.94,622.83 698.44,622.88 698.95,622.9 702.95,622.9 702.44,622.88 701.94,622.83 701.43,622.74 700.93,622.61 700.42,622.45 699.91,622.25 699.41,622.01 698.9,621.73 698.4,621.42 697.89,621.06 697.38,620.67 696.88,620.22 696.37,619.73 695.87,619.19 695.36,618.59 694.85,617.92 694.35,617.18 693.84,616.32 693.34,615.31 692.83,614.01 692.33,611.2 691.82,608.39 691.31,607.09 690.81,606.08 690.3,605.22 689.8,604.48 689.29,603.81 688.78,603.21 688.28,602.67 687.77,602.18 687.27,601.73 686.76,601.34 686.25,600.98 685.75,600.67 685.24,600.39 684.74,600.15 684.23,599.95 683.72,599.79 683.22,599.66 682.71,599.57 682.21,599.52 681.7,599.5" fill="#c3ead3" stroke="#c3ead3" stroke-width="1.2" stroke-linejoin="round"/><polygon points="698.95,599.5 699.46,599.52 699.96,599.57 700.47,599.66 700.97,599.79 701.48,599.95 701.99,600.15 702.49,600.39 703,600.67 703.5,600.98 704.01,601.34 704.52,601.73 705.02,602.18 705.53,602.67 706.03,603.21 706.54,603.81 707.05,604.48 707.55,605.22 708.06,606.08 708.56,607.09 709.07,608.39 709.58,611.2 710.08,614.01 710.59,615.31 711.09,616.32 711.6,617.18 712.1,617.92 712.61,618.59 713.12,619.19 713.62,619.73 714.13,620.22 714.63,620.67 715.14,621.06 715.65,621.42 716.15,621.73 716.66,622.01 717.16,622.25 717.67,622.45 718.18,622.61 718.68,622.74 719.19,622.83 719.69,622.88 720.2,622.9 724.2,622.9 723.69,622.88 723.19,622.83 722.68,622.74 722.18,622.61 721.67,622.45 721.16,622.25 720.66,622.01 720.15,621.73 719.65,621.42 719.14,621.06 718.63,620.67 718.13,620.22 717.62,619.73 717.12,619.19 716.61,618.59 716.1,617.92 715.6,617.18 715.09,616.32 714.59,615.31 714.08,614.01 713.58,611.2 713.07,608.39 712.56,607.09 712.06,606.08 711.55,605.22 711.05,604.48 710.54,603.81 710.03,603.21 709.53,602.67 709.02,602.18 708.52,601.73 708.01,601.34 707.5,600.98 707,600.67 706.49,600.39 705.99,600.15 705.48,599.95 704.97,599.79 704.47,599.66 703.96,599.57 703.46,599.52 702.95,599.5" fill="#17597a" stroke="#17597a" stroke-width="1.2" stroke-linejoin="round"/><polygon points="720.2,599.5 720.71,599.52 721.21,599.57 721.72,599.66 722.22,599.79 722.73,599.95 723.24,600.15 723.74,600.39 724.25,600.67 724.75,600.98 725.26,601.34 725.77,601.73 726.27,602.18 726.78,602.67 727.28,603.21 727.79,603.81 728.3,604.48 728.8,605.22 729.31,606.08 729.81,607.09 730.32,608.39 730.83,611.2 731.33,614.01 731.84,615.31 732.34,616.32 732.85,617.18 733.35,617.92 733.86,618.59 734.37,619.19 734.87,619.73 735.38,620.22 735.88,620.67 736.39,621.06 736.9,621.42 737.4,621.73 737.91,622.01 738.41,622.25 738.92,622.45 739.43,622.61 739.93,622.74 740.44,622.83 740.94,622.88 741.45,622.9 745.45,622.9 744.94,622.88 744.44,622.83 743.93,622.74 743.43,622.61 742.92,622.45 742.41,622.25 741.91,622.01 741.4,621.73 740.9,621.42 740.39,621.06 739.88,620.67 739.38,620.22 738.87,619.73 738.37,619.19 737.86,618.59 737.35,617.92 736.85,617.18 736.34,616.32 735.84,615.31 735.33,614.01 734.83,611.2 734.32,608.39 733.81,607.09 733.31,606.08 732.8,605.22 732.3,604.48 731.79,603.81 731.28,603.21 730.78,602.67 730.27,602.18 729.77,601.73 729.26,601.34 728.75,600.98 728.25,600.67 727.74,600.39 727.24,600.15 726.73,599.95 726.22,599.79 725.72,599.66 725.21,599.57 724.71,599.52 724.2,599.5" fill="#c3ead3" stroke="#c3ead3" stroke-width="1.2" stroke-linejoin="round"/><polygon points="741.45,599.5 741.96,599.52 742.46,599.57 742.97,599.66 743.47,599.79 743.98,599.95 744.49,600.15 744.99,600.39 745.5,600.67 746,600.98 746.51,601.34 747.02,601.73 747.52,602.18 748.03,602.67 748.53,603.21 749.04,603.81 749.55,604.48 750.05,605.22 750.56,606.08 751.06,607.09 751.57,608.39 752.08,611.2 752.58,614.01 753.09,615.31 753.59,616.32 754.1,617.18 754.6,617.92 755.11,618.59 755.62,619.19 756.12,619.73 756.63,620.22 757.13,620.67 757.64,621.06 758.15,621.42 758.65,621.73 759.16,622.01 759.66,622.25 760.17,622.45 760.68,622.61 761.18,622.74 761.69,622.83 762.19,622.88 762.7,622.9 766.7,622.9 766.19,622.88 765.69,622.83 765.18,622.74 764.68,622.61 764.17,622.45 763.66,622.25 763.16,622.01 762.65,621.73 762.15,621.42 761.64,621.06 761.13,620.67 760.63,620.22 760.12,619.73 759.62,619.19 759.11,618.59 758.6,617.92 758.1,617.18 757.59,616.32 757.09,615.31 756.58,614.01 756.08,611.2 755.57,608.39 755.06,607.09 754.56,606.08 754.05,605.22 753.55,604.48 753.04,603.81 752.53,603.21 752.03,602.67 751.52,602.18 751.02,601.73 750.51,601.34 750,600.98 749.5,600.67 748.99,600.39 748.49,600.15 747.98,599.95 747.47,599.79 746.97,599.66 746.46,599.57 745.96,599.52 745.45,599.5" fill="#17597a" stroke="#17597a" stroke-width="1.2" stroke-linejoin="round"/><path d="M633.4,599.1 V611.2" stroke="#c3ead3" stroke-width="1.8"/><path d="M633.4,611.2 V623.3" stroke="#17597a" stroke-width="1.8"/><path d="M756.6,599.1 V611.2" stroke="#c3ead3" stroke-width="1.8"/><path d="M756.6,611.2 V623.3" stroke="#17597a" stroke-width="1.8"/></g>
<text x="292.7" y="689.79" fill="#18264a" font-size="11.8" font-weight="bold" text-anchor="middle">ISRE</text>
<text x="454.3" y="689.79" fill="#18264a" font-size="11.8" font-weight="bold" text-anchor="middle">ISRE</text>
<ellipse cx="292.5" cy="615.5" rx="25" ry="17.4" fill="url(#g10)" stroke="#c25472" stroke-width="1.2"/>
<text x="292.5" y="619.69" fill="#a02048" font-size="11.8" font-weight="bold" text-anchor="middle">STAT1</text>
<ellipse cx="292.5" cy="639" rx="25" ry="17.4" fill="url(#g10)" stroke="#c25472" stroke-width="1.2"/>
<text x="292.5" y="643.19" fill="#a02048" font-size="11.8" font-weight="bold" text-anchor="middle">STAT1</text>
<ellipse cx="321.8" cy="615.5" rx="10.3" ry="10.3" fill="url(#g3)" stroke="#ea8e3a" stroke-width="1.15"/>
<text x="321.8" y="619.69" fill="#b02422" font-size="11.8" font-weight="bold" text-anchor="middle">P</text>
<ellipse cx="321.8" cy="639" rx="10.3" ry="10.3" fill="url(#g3)" stroke="#ea8e3a" stroke-width="1.15"/>
<text x="321.8" y="643.19" fill="#b02422" font-size="11.8" font-weight="bold" text-anchor="middle">P</text>
<ellipse cx="452" cy="591" rx="25.6" ry="16.3" fill="url(#g10)" stroke="#c25472" stroke-width="1.2"/>
<text x="451" y="595.19" fill="#a02048" font-size="11.8" font-weight="bold" text-anchor="middle">STAT1</text>
<ellipse cx="452" cy="617" rx="25.6" ry="16.3" fill="url(#g13)" stroke="#4170b8" stroke-width="1.2"/>
<text x="452" y="621.19" fill="#2561b5" font-size="11.8" font-weight="bold" text-anchor="middle">STAT2</text>
<ellipse cx="419.6" cy="591" rx="10.3" ry="10.3" fill="url(#g3)" stroke="#ea8e3a" stroke-width="1.15"/>
<text x="419.6" y="595.19" fill="#b02422" font-size="11.8" font-weight="bold" text-anchor="middle">P</text>
<ellipse cx="419.6" cy="617" rx="10.3" ry="10.3" fill="url(#g3)" stroke="#ea8e3a" stroke-width="1.15"/>
<text x="419.6" y="621.19" fill="#b02422" font-size="11.8" font-weight="bold" text-anchor="middle">P</text>
<ellipse cx="451" cy="641.8" rx="26" ry="15.7" fill="url(#g14)" stroke="#d04a5a" stroke-width="1.2"/>
<text x="451" y="645.99" fill="#a01832" font-size="11.8" font-weight="bold" text-anchor="middle">IRF9</text>
<rect x="320" y="691.8" width="108.8" height="32" rx="4" fill="#f8eed3"/>
<text x="374.4" y="704.59" fill="#b06228" font-size="11.8" font-weight="bold" text-anchor="middle">IFN-Inducible</text>
<text x="374.4" y="719.19" fill="#b06228" font-size="11.8" font-weight="bold" text-anchor="middle">Gene Expression</text>
<ellipse cx="589" cy="542" rx="26" ry="17" fill="url(#g52)" stroke="#4262b4" stroke-width="1.2"/>
<text x="589" y="546.19" fill="#2a3282" font-size="11.8" font-weight="bold" text-anchor="middle">KPNA</text>
<ellipse cx="641" cy="542" rx="26" ry="17" fill="url(#g53)" stroke="#4a66b0" stroke-width="1.2"/>
<text x="641" y="546.19" fill="#5a2a8c" font-size="11.8" font-weight="bold" text-anchor="middle">RAN</text>
<ellipse cx="581.6" cy="670" rx="25.4" ry="17" fill="url(#g6)" stroke="#3b6ebc" stroke-width="1.2"/>
<text x="580.6" y="674.19" fill="#1f2f78" font-size="11.8" font-weight="bold" text-anchor="middle">STATs</text>
<ellipse cx="581.6" cy="696" rx="25.4" ry="17" fill="url(#g6)" stroke="#3b6ebc" stroke-width="1.2"/>
<text x="580.6" y="700.19" fill="#1f2f78" font-size="11.8" font-weight="bold" text-anchor="middle">STATs</text>
<ellipse cx="550" cy="670" rx="10.3" ry="10.3" fill="url(#g3)" stroke="#ea8e3a" stroke-width="1.15"/>
<text x="550" y="674.19" fill="#b02422" font-size="11.8" font-weight="bold" text-anchor="middle">P</text>
<ellipse cx="550" cy="696" rx="10.3" ry="10.3" fill="url(#g3)" stroke="#ea8e3a" stroke-width="1.15"/>
<text x="550" y="700.19" fill="#b02422" font-size="11.8" font-weight="bold" text-anchor="middle">P</text>
<ellipse cx="613.8" cy="653" rx="31.8" ry="12.3" fill="url(#g54)" stroke="#4252a4" stroke-width="1.2"/>
<text x="613.8" y="657.19" fill="#2a2a7c" font-size="11.8" font-weight="bold" text-anchor="middle">Cofactors</text>
<ellipse cx="637" cy="697.5" rx="26" ry="16.3" fill="url(#g55)" stroke="#6a82b0" stroke-width="1.2"/>
<text x="635" y="701.69" fill="#c02222" font-size="11.8" font-weight="bold" text-anchor="middle">CTFs</text>
<ellipse cx="658" cy="685.5" rx="10.3" ry="10.3" fill="url(#g3)" stroke="#ea8e3a" stroke-width="1.15"/>
<text x="658" y="689.69" fill="#b02422" font-size="11.8" font-weight="bold" text-anchor="middle">P</text>
<ellipse cx="726" cy="592.5" rx="26" ry="17.5" fill="url(#g56)" stroke="#4252a4" stroke-width="1.2"/>
<text x="726" y="596.69" fill="#5a2a8c" font-size="11.8" font-weight="bold" text-anchor="middle">c-Myc</text>
<rect x="689.5" y="639" width="72.3" height="33" rx="4" fill="#f8eed3"/>
<text x="725.6" y="652.19" fill="#b06228" font-size="11.8" font-weight="bold" text-anchor="middle">Gene</text>
<text x="725.6" y="666.69" fill="#b06228" font-size="11.8" font-weight="bold" text-anchor="middle">Expression</text>
<rect x="712.5" y="691" width="131.5" height="44.5" rx="5" fill="#f8eed3"/>
<text x="775.9" y="703.22" fill="#a9501f" font-size="11.9" font-weight="bold" text-anchor="middle">Nml, SOCS, BCL-XL-,</text>
<text x="775.9" y="717.92" fill="#a9501f" font-size="11.9" font-weight="bold" text-anchor="middle">p21, Myc, Nos2,</text>
<text x="777.3" y="731.52" fill="#a9501f" font-size="11.9" font-weight="bold" text-anchor="middle">Gene Expression</text>
<circle cx="1035.8" cy="42.8" r="11.1" fill="#a1a4a4"/><g fill="none" stroke="#eef0f0" stroke-width="1.2" stroke-linecap="round" stroke-linejoin="round"><path d="M1030.2,40 V38.6 Q1030.2,37.2 1031.6,37.2 H1033"/><path d="M1038.6,37.2 H1040 Q1041.4,37.2 1041.4,38.6 V40"/><path d="M1030.2,45.6 V47 Q1030.2,48.4 1031.6,48.4 H1033"/><path d="M1038.6,48.4 H1040 Q1041.4,48.4 1041.4,47 V45.6"/><path d="M1033.2,41 H1038.6"/><path d="M1034,41.5 L1038,46.2"/><path d="M1037.8,41.5 L1033.6,46.2"/></g>
<path d="M65.5,108.5 L65.5,120.3 Q65.5,126.3 71.5,126.3 L129.3,126.3" fill="none" stroke="#3b4a80" stroke-width="1.1"/>
<circle cx="129.3" cy="126.3" r="3.1" fill="#18245a"/>
<path d="M555.5,108.5 L555.5,120.3 Q555.5,126.3 561.5,126.3 L601.3,126.3" fill="none" stroke="#3b4a80" stroke-width="1.1"/>
<circle cx="601.3" cy="126.3" r="3.1" fill="#18245a"/>
<g font-size="48" font-weight="bold" stroke-linejoin="round" fill="#ffffff" stroke="#ffffff" opacity="0.55" filter="url(#haze)"><text transform="translate(404.4,395.8) scale(0.7316,0.84)" x="0" y="0" vector-effect="non-scaling-stroke" stroke-width="14">&#64;</text><text transform="translate(444.92,400.2) scale(0.9903,1.04)" x="0" y="0" vector-effect="non-scaling-stroke" stroke-width="15.6">F</text><text transform="translate(480.23,400.2) scale(1.0036,1.0)" x="0" y="0" vector-effect="non-scaling-stroke" stroke-width="15.6">i</text><text transform="translate(498.7,400.9) scale(1.0147,0.954)" x="0" y="0" vector-effect="non-scaling-stroke" stroke-width="15.2">g</text><text transform="translate(532.93,400.2) scale(1.0499,1.0)" x="0" y="0" vector-effect="non-scaling-stroke" stroke-width="15.6">d</text><text transform="translate(567.06,400.2) scale(1.0552,0.93)" x="0" y="0" vector-effect="non-scaling-stroke" stroke-width="15.6">r</text><text transform="translate(591.36,400.2) scale(1.0319,0.93)" x="0" y="0" vector-effect="non-scaling-stroke" stroke-width="15.2">a</text><text transform="translate(625.98,400.2) scale(1.2532,0.93)" x="0" y="0" vector-effect="non-scaling-stroke" stroke-width="15.6">w</text></g>
<g mask="url(#wmmask)"><g font-size="48" font-weight="bold" stroke-linejoin="round" fill="none" stroke="#0f5f5c" opacity="0.5" filter="url(#glow)"><text transform="translate(404.4,395.8) scale(0.7316,0.84)" x="0" y="0" vector-effect="non-scaling-stroke" stroke-width="7">&#64;</text><text transform="translate(444.92,400.2) scale(0.9903,1.04)" x="0" y="0" vector-effect="non-scaling-stroke" stroke-width="8.6">F</text><text transform="translate(480.23,400.2) scale(1.0036,1.0)" x="0" y="0" vector-effect="non-scaling-stroke" stroke-width="8.6">i</text><text transform="translate(498.7,400.9) scale(1.0147,0.954)" x="0" y="0" vector-effect="non-scaling-stroke" stroke-width="8.2">g</text><text transform="translate(532.93,400.2) scale(1.0499,1.0)" x="0" y="0" vector-effect="non-scaling-stroke" stroke-width="8.6">d</text><text transform="translate(567.06,400.2) scale(1.0552,0.93)" x="0" y="0" vector-effect="non-scaling-stroke" stroke-width="8.6">r</text><text transform="translate(591.36,400.2) scale(1.0319,0.93)" x="0" y="0" vector-effect="non-scaling-stroke" stroke-width="8.2">a</text><text transform="translate(625.98,400.2) scale(1.2532,0.93)" x="0" y="0" vector-effect="non-scaling-stroke" stroke-width="8.6">w</text></g><g font-size="48" font-weight="bold" stroke-linejoin="round" fill="none" stroke="#0e5b58"><text transform="translate(404.4,395.8) scale(0.7316,0.84)" x="0" y="0" vector-effect="non-scaling-stroke" stroke-width="6">&#64;</text><text transform="translate(444.92,400.2) scale(0.9903,1.04)" x="0" y="0" vector-effect="non-scaling-stroke" stroke-width="7.6">F</text><text transform="translate(480.23,400.2) scale(1.0036,1.0)" x="0" y="0" vector-effect="non-scaling-stroke" stroke-width="7.6">i</text><text transform="translate(498.7,400.9) scale(1.0147,0.954)" x="0" y="0" vector-effect="non-scaling-stroke" stroke-width="7.2">g</text><text transform="translate(532.93,400.2) scale(1.0499,1.0)" x="0" y="0" vector-effect="non-scaling-stroke" stroke-width="7.6">d</text><text transform="translate(567.06,400.2) scale(1.0552,0.93)" x="0" y="0" vector-effect="non-scaling-stroke" stroke-width="7.6">r</text><text transform="translate(591.36,400.2) scale(1.0319,0.93)" x="0" y="0" vector-effect="non-scaling-stroke" stroke-width="7.2">a</text><text transform="translate(625.98,400.2) scale(1.2532,0.93)" x="0" y="0" vector-effect="non-scaling-stroke" stroke-width="7.6">w</text></g></g>
<g font-size="48" font-weight="bold" stroke-linejoin="round" fill="#e9f5f2" stroke="#e9f5f2" opacity="0.88"><text transform="translate(404.4,395.8) scale(0.7316,0.84)" x="0" y="0" vector-effect="non-scaling-stroke" stroke-width="1">&#64;</text><text transform="translate(444.92,400.2) scale(0.9903,1.04)" x="0" y="0" vector-effect="non-scaling-stroke" stroke-width="2.6">F</text><text transform="translate(480.23,400.2) scale(1.0036,1.0)" x="0" y="0" vector-effect="non-scaling-stroke" stroke-width="2.6">i</text><text transform="translate(498.7,400.9) scale(1.0147,0.954)" x="0" y="0" vector-effect="non-scaling-stroke" stroke-width="2.2">g</text><text transform="translate(532.93,400.2) scale(1.0499,1.0)" x="0" y="0" vector-effect="non-scaling-stroke" stroke-width="2.6">d</text><text transform="translate(567.06,400.2) scale(1.0552,0.93)" x="0" y="0" vector-effect="non-scaling-stroke" stroke-width="2.6">r</text><text transform="translate(591.36,400.2) scale(1.0319,0.93)" x="0" y="0" vector-effect="non-scaling-stroke" stroke-width="2.2">a</text><text transform="translate(625.98,400.2) scale(1.2532,0.93)" x="0" y="0" vector-effect="non-scaling-stroke" stroke-width="2.6">w</text></g>
</svg>
</body></html>
